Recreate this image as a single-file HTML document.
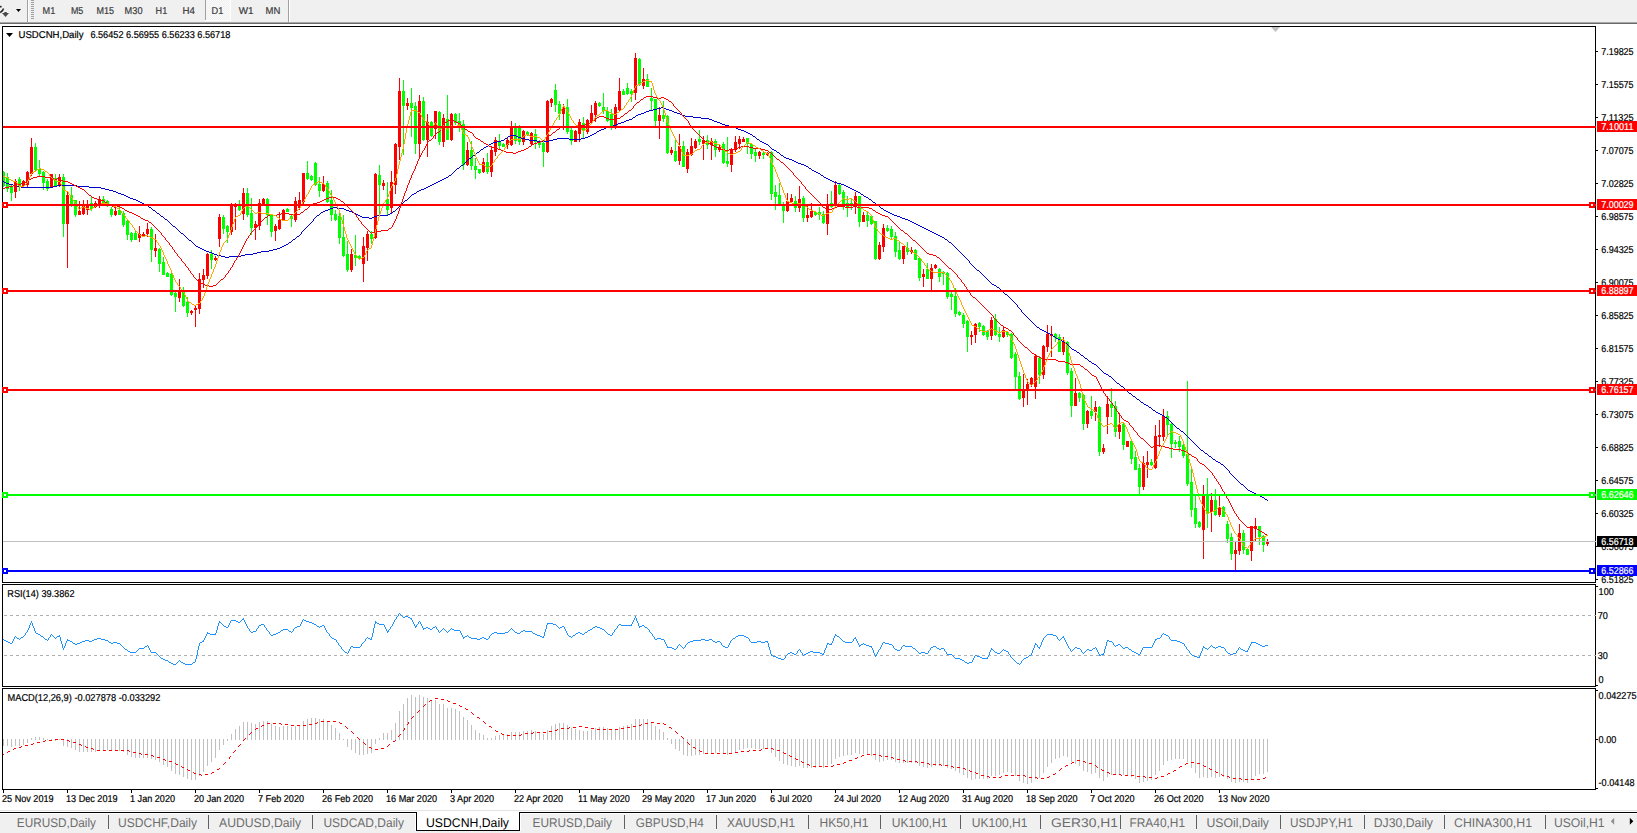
<!DOCTYPE html>
<html><head><meta charset="utf-8"><style>
html,body{margin:0;padding:0;width:1637px;height:833px;overflow:hidden;background:#fff;font-family:"Liberation Sans", sans-serif;}
</style></head><body>
<svg width="1637" height="833" viewBox="0 0 1637 833" style="position:absolute;left:0;top:0" text-rendering="geometricPrecision" font-family='"Liberation Sans", sans-serif'><rect x="0" y="0" width="1637" height="22" fill="#f0f0f0"/>
<rect x="0" y="22" width="1637" height="1" fill="#a8a8a8"/>
<rect x="0" y="23" width="1637" height="1" fill="#6a6a6a"/>
<path d="M0 6.6 L1.6 6.8 M3.4 8.6 Q3.4 10.4 0.2 12.6" stroke="#202020" stroke-width="1.6" fill="none"/>
<path d="M4.3 12 L6.7 12 L6.7 13 L9 13 L5.5 17 L2 13 L4.3 13 Z" fill="#4a4a4a"/>
<path d="M16 9 L21 9 L18.5 12 Z" fill="#000"/>
<rect x="27" y="0" width="1" height="22" fill="#a0a0a0"/>
<rect x="28" y="0" width="1" height="22" fill="#ffffff"/>
<rect x="31" y="0" width="3" height="1" fill="#a0a0a0"/>
<rect x="31" y="2" width="3" height="1" fill="#a0a0a0"/>
<rect x="31" y="4" width="3" height="1" fill="#a0a0a0"/>
<rect x="31" y="6" width="3" height="1" fill="#a0a0a0"/>
<rect x="31" y="8" width="3" height="1" fill="#a0a0a0"/>
<rect x="31" y="10" width="3" height="1" fill="#a0a0a0"/>
<rect x="31" y="12" width="3" height="1" fill="#a0a0a0"/>
<rect x="31" y="14" width="3" height="1" fill="#a0a0a0"/>
<rect x="31" y="16" width="3" height="1" fill="#a0a0a0"/>
<rect x="31" y="18" width="3" height="1" fill="#a0a0a0"/>
<rect x="205" y="0" width="1" height="20" fill="#a0a0a0"/>
<defs><pattern id="dith" width="2" height="2" patternUnits="userSpaceOnUse"><rect width="2" height="2" fill="#f0f0f0"/><rect width="1" height="1" fill="#fbfbfb"/><rect x="1" y="1" width="1" height="1" fill="#fbfbfb"/></pattern></defs>
<rect x="206" y="0" width="24" height="20" fill="url(#dith)"/>
<rect x="205" y="20" width="26" height="1" fill="#ffffff"/>
<rect x="230" y="0" width="1" height="21" fill="#ffffff"/>
<rect x="288" y="0" width="1" height="22" fill="#a0a0a0"/>
<rect x="289" y="0" width="1" height="22" fill="#ffffff"/>
<text x="42.6" y="14" font-size="10.0" fill="#3a3a3a" textLength="12.7" lengthAdjust="spacingAndGlyphs" stroke="#3a3a3a" stroke-width="0.2">M1</text>
<text x="70.9" y="14" font-size="10.0" fill="#3a3a3a" textLength="12.4" lengthAdjust="spacingAndGlyphs" stroke="#3a3a3a" stroke-width="0.2">M5</text>
<text x="96.5" y="14" font-size="10.0" fill="#3a3a3a" textLength="17.5" lengthAdjust="spacingAndGlyphs" stroke="#3a3a3a" stroke-width="0.2">M15</text>
<text x="124.6" y="14" font-size="10.0" fill="#3a3a3a" textLength="17.9" lengthAdjust="spacingAndGlyphs" stroke="#3a3a3a" stroke-width="0.2">M30</text>
<text x="155.6" y="14" font-size="10.0" fill="#3a3a3a" textLength="11.6" lengthAdjust="spacingAndGlyphs" stroke="#3a3a3a" stroke-width="0.2">H1</text>
<text x="182.6" y="14" font-size="10.0" fill="#3a3a3a" textLength="12.4" lengthAdjust="spacingAndGlyphs" stroke="#3a3a3a" stroke-width="0.2">H4</text>
<text x="211.6" y="14" font-size="10.0" fill="#3a3a3a" textLength="11.7" lengthAdjust="spacingAndGlyphs" stroke="#3a3a3a" stroke-width="0.2">D1</text>
<text x="238.7" y="14" font-size="10.0" fill="#3a3a3a" textLength="14.8" lengthAdjust="spacingAndGlyphs" stroke="#3a3a3a" stroke-width="0.2">W1</text>
<text x="265.6" y="14" font-size="10.0" fill="#3a3a3a" textLength="14.8" lengthAdjust="spacingAndGlyphs" stroke="#3a3a3a" stroke-width="0.2">MN</text>
<rect x="0" y="24" width="1637" height="786" fill="#ffffff"/>
<rect x="0" y="810" width="1637" height="1" fill="#e3e3e3"/>
<rect x="0" y="811" width="1637" height="1" fill="#ffffff"/>
<rect x="0" y="812" width="1637" height="21" fill="#f0f0f0"/>
<rect x="0" y="812" width="1637" height="1" fill="#000000"/>
<rect x="0" y="813" width="1637" height="1" fill="#ffffff"/>
<rect x="416" y="811" width="104" height="20" fill="#ffffff"/>
<rect x="416" y="812" width="1" height="19" fill="#000000"/>
<rect x="519" y="812" width="1" height="19" fill="#000000"/>
<rect x="416" y="830" width="104" height="1" fill="#000000"/>
<rect x="415" y="813" width="1" height="18" fill="#ffffff"/>
<rect x="520" y="813" width="1" height="18" fill="#ffffff"/>
<text x="16.8" y="827" font-size="12.6" fill="#6d6d6d" textLength="79.2" lengthAdjust="spacingAndGlyphs">EURUSD,Daily</text>
<text x="118" y="827" font-size="12.6" fill="#6d6d6d" textLength="79" lengthAdjust="spacingAndGlyphs">USDCHF,Daily</text>
<text x="219" y="827" font-size="12.6" fill="#6d6d6d" textLength="82" lengthAdjust="spacingAndGlyphs">AUDUSD,Daily</text>
<text x="323.4" y="827" font-size="12.6" fill="#6d6d6d" textLength="80.6" lengthAdjust="spacingAndGlyphs">USDCAD,Daily</text>
<text x="426" y="827" font-size="12.6" fill="#000000" textLength="83" lengthAdjust="spacingAndGlyphs">USDCNH,Daily</text>
<text x="532.5" y="827" font-size="12.6" fill="#6d6d6d" textLength="79.5" lengthAdjust="spacingAndGlyphs">EURUSD,Daily</text>
<text x="635.8" y="827" font-size="12.6" fill="#6d6d6d" textLength="68" lengthAdjust="spacingAndGlyphs">GBPUSD,H4</text>
<text x="727" y="827" font-size="12.6" fill="#6d6d6d" textLength="68" lengthAdjust="spacingAndGlyphs">XAUUSD,H1</text>
<text x="819.6" y="827" font-size="12.6" fill="#6d6d6d" textLength="48.8" lengthAdjust="spacingAndGlyphs">HK50,H1</text>
<text x="891.7" y="827" font-size="12.6" fill="#6d6d6d" textLength="55.7" lengthAdjust="spacingAndGlyphs">UK100,H1</text>
<text x="971.8" y="827" font-size="12.6" fill="#6d6d6d" textLength="55.7" lengthAdjust="spacingAndGlyphs">UK100,H1</text>
<text x="1051" y="827" font-size="12.6" fill="#6d6d6d" textLength="67" lengthAdjust="spacingAndGlyphs">GER30,H1</text>
<text x="1129.5" y="827" font-size="12.6" fill="#6d6d6d" textLength="55.5" lengthAdjust="spacingAndGlyphs">FRA40,H1</text>
<text x="1206.5" y="827" font-size="12.6" fill="#6d6d6d" textLength="62.5" lengthAdjust="spacingAndGlyphs">USOil,Daily</text>
<text x="1290" y="827" font-size="12.6" fill="#6d6d6d" textLength="63" lengthAdjust="spacingAndGlyphs">USDJPY,H1</text>
<text x="1373.7" y="827" font-size="12.6" fill="#6d6d6d" textLength="59.3" lengthAdjust="spacingAndGlyphs">DJ30,Daily</text>
<text x="1454" y="827" font-size="12.6" fill="#6d6d6d" textLength="78" lengthAdjust="spacingAndGlyphs">CHINA300,H1</text>
<text x="1554" y="827" font-size="12.6" fill="#6d6d6d" textLength="50.6" lengthAdjust="spacingAndGlyphs">USOil,H1</text>
<rect x="108" y="815" width="1" height="14" fill="#606060"/>
<rect x="208" y="815" width="1" height="14" fill="#606060"/>
<rect x="312" y="815" width="1" height="14" fill="#606060"/>
<rect x="624" y="815" width="1" height="14" fill="#606060"/>
<rect x="716" y="815" width="1" height="14" fill="#606060"/>
<rect x="808" y="815" width="1" height="14" fill="#606060"/>
<rect x="880" y="815" width="1" height="14" fill="#606060"/>
<rect x="960" y="815" width="1" height="14" fill="#606060"/>
<rect x="1040" y="815" width="1" height="14" fill="#606060"/>
<rect x="1120" y="815" width="1" height="14" fill="#606060"/>
<rect x="1196" y="815" width="1" height="14" fill="#606060"/>
<rect x="1280" y="815" width="1" height="14" fill="#606060"/>
<rect x="1364" y="815" width="1" height="14" fill="#606060"/>
<rect x="1444" y="815" width="1" height="14" fill="#606060"/>
<rect x="1545" y="815" width="1" height="14" fill="#606060"/>
<path d="M1614.2 817.8 L1610.8 821.3 L1614.2 824.8 Z" fill="#909090"/>
<path d="M1629.8 817.8 L1633.3 821.3 L1629.8 824.8 Z" fill="#000000"/>
<rect x="2" y="26" width="1594" height="1" fill="#000"/>
<rect x="2" y="582" width="1594" height="1" fill="#000"/>
<rect x="2" y="26" width="1" height="557" fill="#000"/>
<rect x="1595" y="26" width="1" height="557" fill="#000"/>
<rect x="2" y="584" width="1594" height="1" fill="#000"/>
<rect x="2" y="686" width="1594" height="1" fill="#000"/>
<rect x="2" y="584" width="1" height="103" fill="#000"/>
<rect x="1595" y="584" width="1" height="103" fill="#000"/>
<rect x="2" y="688" width="1594" height="1" fill="#000"/>
<rect x="2" y="789" width="1594" height="1" fill="#000"/>
<rect x="2" y="688" width="1" height="102" fill="#000"/>
<rect x="1595" y="688" width="1" height="102" fill="#000"/>
<clipPath id="cm"><rect x="3" y="27" width="1592" height="555"/></clipPath>
<clipPath id="cr"><rect x="3" y="585" width="1592" height="101"/></clipPath>
<clipPath id="cd"><rect x="3" y="689" width="1592" height="100"/></clipPath>
<g clip-path="url(#cm)" shape-rendering="crispEdges">
<rect x="3" y="171" width="1" height="16" fill="#00ff00"/>
<rect x="2" y="172" width="3" height="14" fill="#00ff00"/>
<rect x="7" y="173" width="1" height="19" fill="#00ff00"/>
<rect x="6" y="177" width="3" height="12" fill="#00ff00"/>
<rect x="11" y="185" width="1" height="16" fill="#00ff00"/>
<rect x="10" y="186" width="3" height="7" fill="#00ff00"/>
<rect x="15" y="179" width="1" height="19" fill="#ff0000"/>
<rect x="14" y="181" width="3" height="11" fill="#ff0000"/>
<rect x="19" y="177" width="1" height="14" fill="#00ff00"/>
<rect x="18" y="179" width="3" height="8" fill="#00ff00"/>
<rect x="23" y="180" width="1" height="7" fill="#ff0000"/>
<rect x="22" y="181" width="3" height="5" fill="#ff0000"/>
<rect x="27" y="171" width="1" height="16" fill="#ff0000"/>
<rect x="26" y="172" width="3" height="13" fill="#ff0000"/>
<rect x="31" y="138" width="1" height="38" fill="#ff0000"/>
<rect x="30" y="147" width="3" height="27" fill="#ff0000"/>
<rect x="35" y="143" width="1" height="29" fill="#00ff00"/>
<rect x="34" y="147" width="3" height="23" fill="#00ff00"/>
<rect x="39" y="160" width="1" height="17" fill="#00ff00"/>
<rect x="38" y="169" width="3" height="5" fill="#00ff00"/>
<rect x="43" y="171" width="1" height="19" fill="#00ff00"/>
<rect x="42" y="172" width="3" height="11" fill="#00ff00"/>
<rect x="47" y="179" width="1" height="12" fill="#00ff00"/>
<rect x="46" y="181" width="3" height="8" fill="#00ff00"/>
<rect x="51" y="174" width="1" height="14" fill="#ff0000"/>
<rect x="50" y="174" width="3" height="13" fill="#ff0000"/>
<rect x="55" y="174" width="1" height="13" fill="#00ff00"/>
<rect x="54" y="178" width="3" height="8" fill="#00ff00"/>
<rect x="59" y="174" width="1" height="13" fill="#ff0000"/>
<rect x="58" y="177" width="3" height="8" fill="#ff0000"/>
<rect x="63" y="174" width="1" height="63" fill="#00ff00"/>
<rect x="62" y="177" width="3" height="47" fill="#00ff00"/>
<rect x="67" y="191" width="1" height="77" fill="#ff0000"/>
<rect x="66" y="195" width="3" height="29" fill="#ff0000"/>
<rect x="71" y="187" width="1" height="20" fill="#00ff00"/>
<rect x="70" y="195" width="3" height="10" fill="#00ff00"/>
<rect x="75" y="200" width="1" height="17" fill="#00ff00"/>
<rect x="74" y="200" width="3" height="15" fill="#00ff00"/>
<rect x="79" y="201" width="1" height="14" fill="#ff0000"/>
<rect x="78" y="211" width="3" height="4" fill="#ff0000"/>
<rect x="83" y="200" width="1" height="15" fill="#ff0000"/>
<rect x="82" y="206" width="3" height="8" fill="#ff0000"/>
<rect x="87" y="200" width="1" height="15" fill="#ff0000"/>
<rect x="86" y="204" width="3" height="6" fill="#ff0000"/>
<rect x="91" y="196" width="1" height="15" fill="#00ff00"/>
<rect x="90" y="203" width="3" height="6" fill="#00ff00"/>
<rect x="95" y="201" width="1" height="7" fill="#ff0000"/>
<rect x="94" y="203" width="3" height="4" fill="#ff0000"/>
<rect x="99" y="196" width="1" height="12" fill="#ff0000"/>
<rect x="98" y="199" width="3" height="6" fill="#ff0000"/>
<rect x="103" y="196" width="1" height="10" fill="#00ff00"/>
<rect x="102" y="199" width="3" height="4" fill="#00ff00"/>
<rect x="107" y="200" width="1" height="7" fill="#00ff00"/>
<rect x="106" y="201" width="3" height="5" fill="#00ff00"/>
<rect x="111" y="207" width="1" height="10" fill="#00ff00"/>
<rect x="110" y="209" width="3" height="6" fill="#00ff00"/>
<rect x="115" y="207" width="1" height="9" fill="#ff0000"/>
<rect x="114" y="211" width="3" height="4" fill="#ff0000"/>
<rect x="119" y="207" width="1" height="8" fill="#00ff00"/>
<rect x="118" y="210" width="3" height="5" fill="#00ff00"/>
<rect x="123" y="211" width="1" height="16" fill="#00ff00"/>
<rect x="122" y="213" width="3" height="12" fill="#00ff00"/>
<rect x="127" y="220" width="1" height="20" fill="#00ff00"/>
<rect x="126" y="221" width="3" height="14" fill="#00ff00"/>
<rect x="131" y="232" width="1" height="10" fill="#00ff00"/>
<rect x="130" y="233" width="3" height="7" fill="#00ff00"/>
<rect x="135" y="230" width="1" height="10" fill="#00ff00"/>
<rect x="134" y="233" width="3" height="7" fill="#00ff00"/>
<rect x="139" y="226" width="1" height="16" fill="#ff0000"/>
<rect x="138" y="234" width="3" height="4" fill="#ff0000"/>
<rect x="143" y="232" width="1" height="5" fill="#ff0000"/>
<rect x="142" y="234" width="3" height="3" fill="#ff0000"/>
<rect x="147" y="223" width="1" height="14" fill="#ff0000"/>
<rect x="146" y="229" width="3" height="5" fill="#ff0000"/>
<rect x="151" y="227" width="1" height="35" fill="#00ff00"/>
<rect x="150" y="229" width="3" height="21" fill="#00ff00"/>
<rect x="155" y="234" width="1" height="23" fill="#ff0000"/>
<rect x="154" y="248" width="3" height="3" fill="#ff0000"/>
<rect x="159" y="248" width="1" height="24" fill="#00ff00"/>
<rect x="158" y="249" width="3" height="15" fill="#00ff00"/>
<rect x="163" y="257" width="1" height="18" fill="#00ff00"/>
<rect x="162" y="262" width="3" height="13" fill="#00ff00"/>
<rect x="167" y="272" width="1" height="5" fill="#00ff00"/>
<rect x="166" y="273" width="3" height="4" fill="#00ff00"/>
<rect x="171" y="271" width="1" height="25" fill="#00ff00"/>
<rect x="170" y="274" width="3" height="21" fill="#00ff00"/>
<rect x="175" y="292" width="1" height="20" fill="#00ff00"/>
<rect x="174" y="293" width="3" height="4" fill="#00ff00"/>
<rect x="179" y="279" width="1" height="23" fill="#ff0000"/>
<rect x="178" y="291" width="3" height="7" fill="#ff0000"/>
<rect x="183" y="287" width="1" height="20" fill="#00ff00"/>
<rect x="182" y="292" width="3" height="14" fill="#00ff00"/>
<rect x="187" y="297" width="1" height="20" fill="#00ff00"/>
<rect x="186" y="302" width="3" height="11" fill="#00ff00"/>
<rect x="191" y="310" width="1" height="5" fill="#ff0000"/>
<rect x="190" y="311" width="3" height="2" fill="#ff0000"/>
<rect x="195" y="306" width="1" height="21" fill="#ff0000"/>
<rect x="194" y="308" width="3" height="2" fill="#ff0000"/>
<rect x="199" y="273" width="1" height="41" fill="#ff0000"/>
<rect x="198" y="279" width="3" height="30" fill="#ff0000"/>
<rect x="203" y="269" width="1" height="19" fill="#ff0000"/>
<rect x="202" y="275" width="3" height="5" fill="#ff0000"/>
<rect x="207" y="253" width="1" height="26" fill="#ff0000"/>
<rect x="206" y="254" width="3" height="22" fill="#ff0000"/>
<rect x="211" y="250" width="1" height="19" fill="#00ff00"/>
<rect x="210" y="254" width="3" height="6" fill="#00ff00"/>
<rect x="215" y="256" width="1" height="5" fill="#ff0000"/>
<rect x="214" y="258" width="3" height="2" fill="#ff0000"/>
<rect x="219" y="214" width="1" height="33" fill="#ff0000"/>
<rect x="218" y="217" width="3" height="22" fill="#ff0000"/>
<rect x="223" y="215" width="1" height="19" fill="#00ff00"/>
<rect x="222" y="217" width="3" height="12" fill="#00ff00"/>
<rect x="227" y="225" width="1" height="18" fill="#00ff00"/>
<rect x="226" y="226" width="3" height="6" fill="#00ff00"/>
<rect x="231" y="203" width="1" height="32" fill="#ff0000"/>
<rect x="230" y="204" width="3" height="28" fill="#ff0000"/>
<rect x="235" y="203" width="1" height="27" fill="#ff0000"/>
<rect x="234" y="204" width="3" height="3" fill="#ff0000"/>
<rect x="239" y="200" width="1" height="11" fill="#00ff00"/>
<rect x="238" y="205" width="3" height="5" fill="#00ff00"/>
<rect x="243" y="188" width="1" height="32" fill="#ff0000"/>
<rect x="242" y="193" width="3" height="21" fill="#ff0000"/>
<rect x="247" y="188" width="1" height="29" fill="#00ff00"/>
<rect x="246" y="193" width="3" height="22" fill="#00ff00"/>
<rect x="251" y="198" width="1" height="37" fill="#00ff00"/>
<rect x="250" y="213" width="3" height="15" fill="#00ff00"/>
<rect x="255" y="221" width="1" height="19" fill="#ff0000"/>
<rect x="254" y="224" width="3" height="4" fill="#ff0000"/>
<rect x="259" y="199" width="1" height="31" fill="#ff0000"/>
<rect x="258" y="203" width="3" height="23" fill="#ff0000"/>
<rect x="263" y="198" width="1" height="8" fill="#ff0000"/>
<rect x="262" y="199" width="3" height="6" fill="#ff0000"/>
<rect x="267" y="198" width="1" height="27" fill="#00ff00"/>
<rect x="266" y="199" width="3" height="16" fill="#00ff00"/>
<rect x="271" y="214" width="1" height="23" fill="#00ff00"/>
<rect x="270" y="214" width="3" height="18" fill="#00ff00"/>
<rect x="275" y="224" width="1" height="17" fill="#ff0000"/>
<rect x="274" y="226" width="3" height="5" fill="#ff0000"/>
<rect x="279" y="212" width="1" height="18" fill="#ff0000"/>
<rect x="278" y="220" width="3" height="9" fill="#ff0000"/>
<rect x="283" y="209" width="1" height="12" fill="#ff0000"/>
<rect x="282" y="210" width="3" height="10" fill="#ff0000"/>
<rect x="287" y="208" width="1" height="4" fill="#00ff00"/>
<rect x="286" y="209" width="3" height="3" fill="#00ff00"/>
<rect x="291" y="214" width="1" height="13" fill="#00ff00"/>
<rect x="290" y="216" width="3" height="3" fill="#00ff00"/>
<rect x="295" y="197" width="1" height="25" fill="#ff0000"/>
<rect x="294" y="201" width="3" height="19" fill="#ff0000"/>
<rect x="299" y="192" width="1" height="18" fill="#ff0000"/>
<rect x="298" y="200" width="3" height="8" fill="#ff0000"/>
<rect x="303" y="173" width="1" height="31" fill="#ff0000"/>
<rect x="302" y="173" width="3" height="29" fill="#ff0000"/>
<rect x="307" y="161" width="1" height="19" fill="#00ff00"/>
<rect x="306" y="173" width="3" height="6" fill="#00ff00"/>
<rect x="311" y="175" width="1" height="6" fill="#00ff00"/>
<rect x="310" y="176" width="3" height="4" fill="#00ff00"/>
<rect x="315" y="162" width="1" height="24" fill="#00ff00"/>
<rect x="314" y="163" width="3" height="22" fill="#00ff00"/>
<rect x="319" y="177" width="1" height="20" fill="#00ff00"/>
<rect x="318" y="184" width="3" height="7" fill="#00ff00"/>
<rect x="323" y="176" width="1" height="16" fill="#ff0000"/>
<rect x="322" y="184" width="3" height="7" fill="#ff0000"/>
<rect x="327" y="181" width="1" height="22" fill="#00ff00"/>
<rect x="326" y="183" width="3" height="19" fill="#00ff00"/>
<rect x="331" y="190" width="1" height="31" fill="#00ff00"/>
<rect x="330" y="200" width="3" height="15" fill="#00ff00"/>
<rect x="335" y="210" width="1" height="11" fill="#00ff00"/>
<rect x="334" y="214" width="3" height="6" fill="#00ff00"/>
<rect x="339" y="213" width="1" height="31" fill="#00ff00"/>
<rect x="338" y="216" width="3" height="22" fill="#00ff00"/>
<rect x="343" y="215" width="1" height="42" fill="#00ff00"/>
<rect x="342" y="237" width="3" height="19" fill="#00ff00"/>
<rect x="347" y="241" width="1" height="31" fill="#00ff00"/>
<rect x="346" y="254" width="3" height="16" fill="#00ff00"/>
<rect x="351" y="249" width="1" height="23" fill="#ff0000"/>
<rect x="350" y="254" width="3" height="16" fill="#ff0000"/>
<rect x="355" y="235" width="1" height="31" fill="#00ff00"/>
<rect x="354" y="255" width="3" height="3" fill="#00ff00"/>
<rect x="359" y="255" width="1" height="5" fill="#00ff00"/>
<rect x="358" y="256" width="3" height="3" fill="#00ff00"/>
<rect x="363" y="237" width="1" height="45" fill="#ff0000"/>
<rect x="362" y="246" width="3" height="18" fill="#ff0000"/>
<rect x="367" y="231" width="1" height="30" fill="#ff0000"/>
<rect x="366" y="234" width="3" height="14" fill="#ff0000"/>
<rect x="371" y="231" width="1" height="13" fill="#00ff00"/>
<rect x="370" y="234" width="3" height="5" fill="#00ff00"/>
<rect x="375" y="173" width="1" height="66" fill="#ff0000"/>
<rect x="374" y="174" width="3" height="64" fill="#ff0000"/>
<rect x="379" y="165" width="1" height="49" fill="#00ff00"/>
<rect x="378" y="175" width="3" height="10" fill="#00ff00"/>
<rect x="383" y="180" width="1" height="10" fill="#ff0000"/>
<rect x="382" y="183" width="3" height="3" fill="#ff0000"/>
<rect x="387" y="182" width="1" height="33" fill="#00ff00"/>
<rect x="386" y="199" width="3" height="11" fill="#00ff00"/>
<rect x="391" y="171" width="1" height="42" fill="#ff0000"/>
<rect x="390" y="182" width="3" height="26" fill="#ff0000"/>
<rect x="395" y="143" width="1" height="51" fill="#ff0000"/>
<rect x="394" y="144" width="3" height="41" fill="#ff0000"/>
<rect x="399" y="78" width="1" height="82" fill="#ff0000"/>
<rect x="398" y="91" width="3" height="56" fill="#ff0000"/>
<rect x="403" y="80" width="1" height="75" fill="#00ff00"/>
<rect x="402" y="91" width="3" height="15" fill="#00ff00"/>
<rect x="407" y="98" width="1" height="12" fill="#ff0000"/>
<rect x="406" y="103" width="3" height="3" fill="#ff0000"/>
<rect x="411" y="88" width="1" height="49" fill="#00ff00"/>
<rect x="410" y="103" width="3" height="5" fill="#00ff00"/>
<rect x="415" y="102" width="1" height="52" fill="#00ff00"/>
<rect x="414" y="106" width="3" height="38" fill="#00ff00"/>
<rect x="419" y="95" width="1" height="62" fill="#ff0000"/>
<rect x="418" y="101" width="3" height="43" fill="#ff0000"/>
<rect x="423" y="97" width="1" height="44" fill="#00ff00"/>
<rect x="422" y="101" width="3" height="39" fill="#00ff00"/>
<rect x="427" y="114" width="1" height="43" fill="#ff0000"/>
<rect x="426" y="122" width="3" height="18" fill="#ff0000"/>
<rect x="431" y="121" width="1" height="16" fill="#00ff00"/>
<rect x="430" y="122" width="3" height="14" fill="#00ff00"/>
<rect x="435" y="111" width="1" height="28" fill="#ff0000"/>
<rect x="434" y="111" width="3" height="18" fill="#ff0000"/>
<rect x="439" y="111" width="1" height="34" fill="#00ff00"/>
<rect x="438" y="112" width="3" height="30" fill="#00ff00"/>
<rect x="443" y="114" width="1" height="33" fill="#ff0000"/>
<rect x="442" y="118" width="3" height="24" fill="#ff0000"/>
<rect x="447" y="95" width="1" height="45" fill="#00ff00"/>
<rect x="446" y="119" width="3" height="21" fill="#00ff00"/>
<rect x="451" y="113" width="1" height="28" fill="#ff0000"/>
<rect x="450" y="114" width="3" height="26" fill="#ff0000"/>
<rect x="455" y="113" width="1" height="12" fill="#00ff00"/>
<rect x="454" y="114" width="3" height="9" fill="#00ff00"/>
<rect x="459" y="113" width="1" height="19" fill="#00ff00"/>
<rect x="458" y="121" width="3" height="5" fill="#00ff00"/>
<rect x="463" y="120" width="1" height="50" fill="#00ff00"/>
<rect x="462" y="124" width="3" height="41" fill="#00ff00"/>
<rect x="467" y="142" width="1" height="24" fill="#ff0000"/>
<rect x="466" y="150" width="3" height="15" fill="#ff0000"/>
<rect x="471" y="141" width="1" height="29" fill="#00ff00"/>
<rect x="470" y="150" width="3" height="16" fill="#00ff00"/>
<rect x="475" y="158" width="1" height="21" fill="#00ff00"/>
<rect x="474" y="166" width="3" height="4" fill="#00ff00"/>
<rect x="479" y="169" width="1" height="5" fill="#00ff00"/>
<rect x="478" y="169" width="3" height="4" fill="#00ff00"/>
<rect x="483" y="158" width="1" height="15" fill="#ff0000"/>
<rect x="482" y="162" width="3" height="10" fill="#ff0000"/>
<rect x="487" y="153" width="1" height="21" fill="#00ff00"/>
<rect x="486" y="162" width="3" height="10" fill="#00ff00"/>
<rect x="491" y="146" width="1" height="31" fill="#ff0000"/>
<rect x="490" y="150" width="3" height="22" fill="#ff0000"/>
<rect x="495" y="137" width="1" height="19" fill="#ff0000"/>
<rect x="494" y="140" width="3" height="12" fill="#ff0000"/>
<rect x="499" y="134" width="1" height="15" fill="#00ff00"/>
<rect x="498" y="141" width="3" height="5" fill="#00ff00"/>
<rect x="503" y="143" width="1" height="4" fill="#00ff00"/>
<rect x="502" y="144" width="3" height="3" fill="#00ff00"/>
<rect x="507" y="138" width="1" height="11" fill="#ff0000"/>
<rect x="506" y="140" width="3" height="5" fill="#ff0000"/>
<rect x="511" y="121" width="1" height="25" fill="#ff0000"/>
<rect x="510" y="126" width="3" height="19" fill="#ff0000"/>
<rect x="515" y="123" width="1" height="21" fill="#00ff00"/>
<rect x="514" y="126" width="3" height="15" fill="#00ff00"/>
<rect x="519" y="125" width="1" height="20" fill="#00ff00"/>
<rect x="518" y="128" width="3" height="14" fill="#00ff00"/>
<rect x="523" y="130" width="1" height="15" fill="#ff0000"/>
<rect x="522" y="131" width="3" height="11" fill="#ff0000"/>
<rect x="527" y="131" width="1" height="5" fill="#00ff00"/>
<rect x="526" y="132" width="3" height="3" fill="#00ff00"/>
<rect x="531" y="132" width="1" height="14" fill="#ff0000"/>
<rect x="530" y="133" width="3" height="11" fill="#ff0000"/>
<rect x="535" y="129" width="1" height="20" fill="#00ff00"/>
<rect x="534" y="134" width="3" height="8" fill="#00ff00"/>
<rect x="539" y="140" width="1" height="8" fill="#00ff00"/>
<rect x="538" y="141" width="3" height="4" fill="#00ff00"/>
<rect x="543" y="142" width="1" height="25" fill="#00ff00"/>
<rect x="542" y="143" width="3" height="9" fill="#00ff00"/>
<rect x="547" y="100" width="1" height="53" fill="#ff0000"/>
<rect x="546" y="101" width="3" height="51" fill="#ff0000"/>
<rect x="551" y="98" width="1" height="9" fill="#ff0000"/>
<rect x="550" y="99" width="3" height="4" fill="#ff0000"/>
<rect x="555" y="84" width="1" height="28" fill="#00ff00"/>
<rect x="554" y="90" width="3" height="15" fill="#00ff00"/>
<rect x="559" y="101" width="1" height="19" fill="#00ff00"/>
<rect x="558" y="104" width="3" height="10" fill="#00ff00"/>
<rect x="563" y="104" width="1" height="26" fill="#ff0000"/>
<rect x="562" y="107" width="3" height="7" fill="#ff0000"/>
<rect x="567" y="99" width="1" height="35" fill="#00ff00"/>
<rect x="566" y="107" width="3" height="25" fill="#00ff00"/>
<rect x="571" y="128" width="1" height="17" fill="#00ff00"/>
<rect x="570" y="130" width="3" height="11" fill="#00ff00"/>
<rect x="575" y="130" width="1" height="12" fill="#ff0000"/>
<rect x="574" y="131" width="3" height="11" fill="#ff0000"/>
<rect x="579" y="119" width="1" height="23" fill="#ff0000"/>
<rect x="578" y="122" width="3" height="12" fill="#ff0000"/>
<rect x="583" y="117" width="1" height="21" fill="#00ff00"/>
<rect x="582" y="123" width="3" height="7" fill="#00ff00"/>
<rect x="587" y="119" width="1" height="15" fill="#ff0000"/>
<rect x="586" y="120" width="3" height="12" fill="#ff0000"/>
<rect x="591" y="105" width="1" height="19" fill="#ff0000"/>
<rect x="590" y="113" width="3" height="10" fill="#ff0000"/>
<rect x="595" y="101" width="1" height="21" fill="#ff0000"/>
<rect x="594" y="103" width="3" height="12" fill="#ff0000"/>
<rect x="599" y="102" width="1" height="5" fill="#00ff00"/>
<rect x="598" y="103" width="3" height="3" fill="#00ff00"/>
<rect x="603" y="93" width="1" height="21" fill="#00ff00"/>
<rect x="602" y="107" width="3" height="4" fill="#00ff00"/>
<rect x="607" y="107" width="1" height="15" fill="#00ff00"/>
<rect x="606" y="111" width="3" height="10" fill="#00ff00"/>
<rect x="611" y="109" width="1" height="21" fill="#00ff00"/>
<rect x="610" y="114" width="3" height="13" fill="#00ff00"/>
<rect x="615" y="104" width="1" height="25" fill="#ff0000"/>
<rect x="614" y="107" width="3" height="20" fill="#ff0000"/>
<rect x="619" y="78" width="1" height="33" fill="#ff0000"/>
<rect x="618" y="91" width="3" height="19" fill="#ff0000"/>
<rect x="623" y="89" width="1" height="6" fill="#00ff00"/>
<rect x="622" y="91" width="3" height="4" fill="#00ff00"/>
<rect x="627" y="83" width="1" height="12" fill="#00ff00"/>
<rect x="626" y="88" width="3" height="6" fill="#00ff00"/>
<rect x="631" y="89" width="1" height="13" fill="#00ff00"/>
<rect x="630" y="91" width="3" height="3" fill="#00ff00"/>
<rect x="635" y="53" width="1" height="47" fill="#ff0000"/>
<rect x="634" y="58" width="3" height="35" fill="#ff0000"/>
<rect x="639" y="58" width="1" height="28" fill="#00ff00"/>
<rect x="638" y="59" width="3" height="26" fill="#00ff00"/>
<rect x="643" y="68" width="1" height="21" fill="#ff0000"/>
<rect x="642" y="79" width="3" height="7" fill="#ff0000"/>
<rect x="647" y="74" width="1" height="13" fill="#00ff00"/>
<rect x="646" y="79" width="3" height="8" fill="#00ff00"/>
<rect x="651" y="88" width="1" height="23" fill="#00ff00"/>
<rect x="650" y="98" width="3" height="3" fill="#00ff00"/>
<rect x="655" y="99" width="1" height="28" fill="#00ff00"/>
<rect x="654" y="99" width="3" height="22" fill="#00ff00"/>
<rect x="659" y="107" width="1" height="32" fill="#ff0000"/>
<rect x="658" y="115" width="3" height="6" fill="#ff0000"/>
<rect x="663" y="101" width="1" height="21" fill="#00ff00"/>
<rect x="662" y="115" width="3" height="4" fill="#00ff00"/>
<rect x="667" y="115" width="1" height="39" fill="#00ff00"/>
<rect x="666" y="116" width="3" height="37" fill="#00ff00"/>
<rect x="671" y="147" width="1" height="8" fill="#ff0000"/>
<rect x="670" y="150" width="3" height="3" fill="#ff0000"/>
<rect x="675" y="139" width="1" height="23" fill="#00ff00"/>
<rect x="674" y="151" width="3" height="10" fill="#00ff00"/>
<rect x="679" y="134" width="1" height="31" fill="#ff0000"/>
<rect x="678" y="146" width="3" height="15" fill="#ff0000"/>
<rect x="683" y="141" width="1" height="26" fill="#00ff00"/>
<rect x="682" y="146" width="3" height="21" fill="#00ff00"/>
<rect x="687" y="149" width="1" height="24" fill="#ff0000"/>
<rect x="686" y="152" width="3" height="17" fill="#ff0000"/>
<rect x="691" y="138" width="1" height="18" fill="#ff0000"/>
<rect x="690" y="146" width="3" height="9" fill="#ff0000"/>
<rect x="695" y="139" width="1" height="10" fill="#ff0000"/>
<rect x="694" y="141" width="3" height="7" fill="#ff0000"/>
<rect x="699" y="130" width="1" height="15" fill="#00ff00"/>
<rect x="698" y="139" width="3" height="3" fill="#00ff00"/>
<rect x="703" y="136" width="1" height="24" fill="#ff0000"/>
<rect x="702" y="140" width="3" height="4" fill="#ff0000"/>
<rect x="707" y="135" width="1" height="14" fill="#00ff00"/>
<rect x="706" y="140" width="3" height="5" fill="#00ff00"/>
<rect x="711" y="138" width="1" height="22" fill="#ff0000"/>
<rect x="710" y="141" width="3" height="4" fill="#ff0000"/>
<rect x="715" y="139" width="1" height="18" fill="#00ff00"/>
<rect x="714" y="141" width="3" height="9" fill="#00ff00"/>
<rect x="719" y="144" width="1" height="8" fill="#ff0000"/>
<rect x="718" y="147" width="3" height="3" fill="#ff0000"/>
<rect x="723" y="142" width="1" height="22" fill="#00ff00"/>
<rect x="722" y="144" width="3" height="19" fill="#00ff00"/>
<rect x="727" y="137" width="1" height="30" fill="#00ff00"/>
<rect x="726" y="161" width="3" height="3" fill="#00ff00"/>
<rect x="731" y="148" width="1" height="24" fill="#ff0000"/>
<rect x="730" y="149" width="3" height="16" fill="#ff0000"/>
<rect x="735" y="136" width="1" height="16" fill="#ff0000"/>
<rect x="734" y="142" width="3" height="8" fill="#ff0000"/>
<rect x="739" y="136" width="1" height="13" fill="#ff0000"/>
<rect x="738" y="139" width="3" height="5" fill="#ff0000"/>
<rect x="743" y="137" width="1" height="5" fill="#ff0000"/>
<rect x="742" y="139" width="3" height="3" fill="#ff0000"/>
<rect x="747" y="138" width="1" height="16" fill="#00ff00"/>
<rect x="746" y="138" width="3" height="6" fill="#00ff00"/>
<rect x="751" y="144" width="1" height="15" fill="#00ff00"/>
<rect x="750" y="144" width="3" height="10" fill="#00ff00"/>
<rect x="755" y="149" width="1" height="13" fill="#00ff00"/>
<rect x="754" y="152" width="3" height="4" fill="#00ff00"/>
<rect x="759" y="151" width="1" height="8" fill="#ff0000"/>
<rect x="758" y="152" width="3" height="4" fill="#ff0000"/>
<rect x="763" y="151" width="1" height="8" fill="#00ff00"/>
<rect x="762" y="153" width="3" height="2" fill="#00ff00"/>
<rect x="767" y="152" width="1" height="4" fill="#ff0000"/>
<rect x="766" y="153" width="3" height="2" fill="#ff0000"/>
<rect x="771" y="151" width="1" height="49" fill="#00ff00"/>
<rect x="770" y="152" width="3" height="42" fill="#00ff00"/>
<rect x="775" y="185" width="1" height="25" fill="#00ff00"/>
<rect x="774" y="192" width="3" height="5" fill="#00ff00"/>
<rect x="779" y="183" width="1" height="23" fill="#00ff00"/>
<rect x="778" y="195" width="3" height="10" fill="#00ff00"/>
<rect x="783" y="202" width="1" height="21" fill="#00ff00"/>
<rect x="782" y="204" width="3" height="7" fill="#00ff00"/>
<rect x="787" y="193" width="1" height="19" fill="#ff0000"/>
<rect x="786" y="201" width="3" height="10" fill="#ff0000"/>
<rect x="791" y="194" width="1" height="8" fill="#ff0000"/>
<rect x="790" y="198" width="3" height="4" fill="#ff0000"/>
<rect x="795" y="196" width="1" height="16" fill="#00ff00"/>
<rect x="794" y="201" width="3" height="7" fill="#00ff00"/>
<rect x="799" y="186" width="1" height="26" fill="#ff0000"/>
<rect x="798" y="199" width="3" height="9" fill="#ff0000"/>
<rect x="803" y="196" width="1" height="26" fill="#00ff00"/>
<rect x="802" y="198" width="3" height="20" fill="#00ff00"/>
<rect x="807" y="204" width="1" height="18" fill="#ff0000"/>
<rect x="806" y="215" width="3" height="3" fill="#ff0000"/>
<rect x="811" y="203" width="1" height="15" fill="#ff0000"/>
<rect x="810" y="211" width="3" height="6" fill="#ff0000"/>
<rect x="815" y="211" width="1" height="5" fill="#00ff00"/>
<rect x="814" y="212" width="3" height="3" fill="#00ff00"/>
<rect x="819" y="207" width="1" height="13" fill="#00ff00"/>
<rect x="818" y="212" width="3" height="3" fill="#00ff00"/>
<rect x="823" y="211" width="1" height="13" fill="#00ff00"/>
<rect x="822" y="214" width="3" height="9" fill="#00ff00"/>
<rect x="827" y="194" width="1" height="41" fill="#ff0000"/>
<rect x="826" y="204" width="3" height="20" fill="#ff0000"/>
<rect x="831" y="191" width="1" height="17" fill="#00ff00"/>
<rect x="830" y="203" width="3" height="4" fill="#00ff00"/>
<rect x="835" y="181" width="1" height="26" fill="#ff0000"/>
<rect x="834" y="185" width="3" height="21" fill="#ff0000"/>
<rect x="839" y="184" width="1" height="11" fill="#00ff00"/>
<rect x="838" y="185" width="3" height="9" fill="#00ff00"/>
<rect x="843" y="190" width="1" height="20" fill="#00ff00"/>
<rect x="842" y="192" width="3" height="12" fill="#00ff00"/>
<rect x="847" y="196" width="1" height="21" fill="#00ff00"/>
<rect x="846" y="203" width="3" height="4" fill="#00ff00"/>
<rect x="851" y="199" width="1" height="11" fill="#00ff00"/>
<rect x="850" y="203" width="3" height="3" fill="#00ff00"/>
<rect x="855" y="192" width="1" height="22" fill="#ff0000"/>
<rect x="854" y="196" width="3" height="11" fill="#ff0000"/>
<rect x="859" y="196" width="1" height="31" fill="#00ff00"/>
<rect x="858" y="196" width="3" height="26" fill="#00ff00"/>
<rect x="863" y="212" width="1" height="10" fill="#ff0000"/>
<rect x="862" y="215" width="3" height="7" fill="#ff0000"/>
<rect x="867" y="212" width="1" height="15" fill="#00ff00"/>
<rect x="866" y="215" width="3" height="6" fill="#00ff00"/>
<rect x="871" y="216" width="1" height="9" fill="#00ff00"/>
<rect x="870" y="216" width="3" height="8" fill="#00ff00"/>
<rect x="875" y="221" width="1" height="39" fill="#00ff00"/>
<rect x="874" y="221" width="3" height="38" fill="#00ff00"/>
<rect x="879" y="242" width="1" height="18" fill="#ff0000"/>
<rect x="878" y="245" width="3" height="14" fill="#ff0000"/>
<rect x="883" y="224" width="1" height="28" fill="#ff0000"/>
<rect x="882" y="228" width="3" height="19" fill="#ff0000"/>
<rect x="887" y="225" width="1" height="7" fill="#00ff00"/>
<rect x="886" y="228" width="3" height="3" fill="#00ff00"/>
<rect x="891" y="226" width="1" height="14" fill="#00ff00"/>
<rect x="890" y="229" width="3" height="8" fill="#00ff00"/>
<rect x="895" y="232" width="1" height="25" fill="#00ff00"/>
<rect x="894" y="236" width="3" height="16" fill="#00ff00"/>
<rect x="899" y="241" width="1" height="19" fill="#00ff00"/>
<rect x="898" y="250" width="3" height="9" fill="#00ff00"/>
<rect x="903" y="246" width="1" height="18" fill="#ff0000"/>
<rect x="902" y="246" width="3" height="13" fill="#ff0000"/>
<rect x="907" y="242" width="1" height="13" fill="#00ff00"/>
<rect x="906" y="248" width="3" height="4" fill="#00ff00"/>
<rect x="911" y="247" width="1" height="7" fill="#ff0000"/>
<rect x="910" y="250" width="3" height="2" fill="#ff0000"/>
<rect x="915" y="249" width="1" height="11" fill="#00ff00"/>
<rect x="914" y="250" width="3" height="10" fill="#00ff00"/>
<rect x="919" y="257" width="1" height="24" fill="#00ff00"/>
<rect x="918" y="258" width="3" height="20" fill="#00ff00"/>
<rect x="923" y="269" width="1" height="18" fill="#ff0000"/>
<rect x="922" y="274" width="3" height="3" fill="#ff0000"/>
<rect x="927" y="263" width="1" height="16" fill="#00ff00"/>
<rect x="926" y="269" width="3" height="10" fill="#00ff00"/>
<rect x="931" y="264" width="1" height="26" fill="#ff0000"/>
<rect x="930" y="268" width="3" height="11" fill="#ff0000"/>
<rect x="935" y="264" width="1" height="5" fill="#ff0000"/>
<rect x="934" y="265" width="3" height="3" fill="#ff0000"/>
<rect x="939" y="268" width="1" height="14" fill="#00ff00"/>
<rect x="938" y="269" width="3" height="8" fill="#00ff00"/>
<rect x="943" y="271" width="1" height="14" fill="#00ff00"/>
<rect x="942" y="272" width="3" height="2" fill="#00ff00"/>
<rect x="947" y="272" width="1" height="27" fill="#00ff00"/>
<rect x="946" y="273" width="3" height="24" fill="#00ff00"/>
<rect x="951" y="292" width="1" height="18" fill="#00ff00"/>
<rect x="950" y="294" width="3" height="3" fill="#00ff00"/>
<rect x="955" y="288" width="1" height="29" fill="#00ff00"/>
<rect x="954" y="296" width="3" height="18" fill="#00ff00"/>
<rect x="959" y="311" width="1" height="5" fill="#00ff00"/>
<rect x="958" y="312" width="3" height="3" fill="#00ff00"/>
<rect x="963" y="313" width="1" height="15" fill="#00ff00"/>
<rect x="962" y="315" width="3" height="9" fill="#00ff00"/>
<rect x="967" y="320" width="1" height="32" fill="#00ff00"/>
<rect x="966" y="321" width="3" height="16" fill="#00ff00"/>
<rect x="971" y="331" width="1" height="14" fill="#ff0000"/>
<rect x="970" y="335" width="3" height="2" fill="#ff0000"/>
<rect x="975" y="323" width="1" height="20" fill="#ff0000"/>
<rect x="974" y="324" width="3" height="11" fill="#ff0000"/>
<rect x="979" y="322" width="1" height="10" fill="#00ff00"/>
<rect x="978" y="323" width="3" height="4" fill="#00ff00"/>
<rect x="983" y="325" width="1" height="11" fill="#00ff00"/>
<rect x="982" y="326" width="3" height="9" fill="#00ff00"/>
<rect x="987" y="330" width="1" height="10" fill="#00ff00"/>
<rect x="986" y="331" width="3" height="6" fill="#00ff00"/>
<rect x="991" y="317" width="1" height="23" fill="#ff0000"/>
<rect x="990" y="320" width="3" height="16" fill="#ff0000"/>
<rect x="995" y="314" width="1" height="22" fill="#00ff00"/>
<rect x="994" y="319" width="3" height="16" fill="#00ff00"/>
<rect x="999" y="327" width="1" height="15" fill="#00ff00"/>
<rect x="998" y="334" width="3" height="3" fill="#00ff00"/>
<rect x="1003" y="326" width="1" height="12" fill="#ff0000"/>
<rect x="1002" y="330" width="3" height="7" fill="#ff0000"/>
<rect x="1007" y="331" width="1" height="6" fill="#00ff00"/>
<rect x="1006" y="332" width="3" height="3" fill="#00ff00"/>
<rect x="1011" y="333" width="1" height="26" fill="#00ff00"/>
<rect x="1010" y="334" width="3" height="24" fill="#00ff00"/>
<rect x="1015" y="352" width="1" height="37" fill="#00ff00"/>
<rect x="1014" y="354" width="3" height="23" fill="#00ff00"/>
<rect x="1019" y="372" width="1" height="28" fill="#00ff00"/>
<rect x="1018" y="376" width="3" height="23" fill="#00ff00"/>
<rect x="1023" y="374" width="1" height="33" fill="#ff0000"/>
<rect x="1022" y="389" width="3" height="9" fill="#ff0000"/>
<rect x="1027" y="379" width="1" height="26" fill="#ff0000"/>
<rect x="1026" y="384" width="3" height="7" fill="#ff0000"/>
<rect x="1031" y="377" width="1" height="10" fill="#ff0000"/>
<rect x="1030" y="378" width="3" height="7" fill="#ff0000"/>
<rect x="1035" y="354" width="1" height="45" fill="#ff0000"/>
<rect x="1034" y="356" width="3" height="31" fill="#ff0000"/>
<rect x="1039" y="356" width="1" height="28" fill="#00ff00"/>
<rect x="1038" y="358" width="3" height="17" fill="#00ff00"/>
<rect x="1043" y="345" width="1" height="34" fill="#ff0000"/>
<rect x="1042" y="346" width="3" height="29" fill="#ff0000"/>
<rect x="1047" y="325" width="1" height="27" fill="#ff0000"/>
<rect x="1046" y="334" width="3" height="13" fill="#ff0000"/>
<rect x="1051" y="326" width="1" height="31" fill="#ff0000"/>
<rect x="1050" y="334" width="3" height="2" fill="#ff0000"/>
<rect x="1055" y="333" width="1" height="9" fill="#00ff00"/>
<rect x="1054" y="334" width="3" height="4" fill="#00ff00"/>
<rect x="1059" y="334" width="1" height="18" fill="#00ff00"/>
<rect x="1058" y="337" width="3" height="15" fill="#00ff00"/>
<rect x="1063" y="337" width="1" height="18" fill="#ff0000"/>
<rect x="1062" y="341" width="3" height="11" fill="#ff0000"/>
<rect x="1067" y="341" width="1" height="34" fill="#00ff00"/>
<rect x="1066" y="342" width="3" height="31" fill="#00ff00"/>
<rect x="1071" y="368" width="1" height="49" fill="#00ff00"/>
<rect x="1070" y="371" width="3" height="35" fill="#00ff00"/>
<rect x="1075" y="378" width="1" height="28" fill="#ff0000"/>
<rect x="1074" y="393" width="3" height="13" fill="#ff0000"/>
<rect x="1079" y="392" width="1" height="10" fill="#00ff00"/>
<rect x="1078" y="393" width="3" height="5" fill="#00ff00"/>
<rect x="1083" y="394" width="1" height="36" fill="#00ff00"/>
<rect x="1082" y="395" width="3" height="29" fill="#00ff00"/>
<rect x="1087" y="410" width="1" height="18" fill="#ff0000"/>
<rect x="1086" y="411" width="3" height="13" fill="#ff0000"/>
<rect x="1091" y="396" width="1" height="23" fill="#00ff00"/>
<rect x="1090" y="411" width="3" height="5" fill="#00ff00"/>
<rect x="1095" y="401" width="1" height="20" fill="#ff0000"/>
<rect x="1094" y="407" width="3" height="5" fill="#ff0000"/>
<rect x="1099" y="406" width="1" height="50" fill="#00ff00"/>
<rect x="1098" y="407" width="3" height="45" fill="#00ff00"/>
<rect x="1103" y="444" width="1" height="10" fill="#ff0000"/>
<rect x="1102" y="448" width="3" height="4" fill="#ff0000"/>
<rect x="1107" y="396" width="1" height="38" fill="#ff0000"/>
<rect x="1106" y="404" width="3" height="13" fill="#ff0000"/>
<rect x="1111" y="388" width="1" height="29" fill="#00ff00"/>
<rect x="1110" y="404" width="3" height="4" fill="#00ff00"/>
<rect x="1115" y="401" width="1" height="36" fill="#00ff00"/>
<rect x="1114" y="406" width="3" height="26" fill="#00ff00"/>
<rect x="1119" y="413" width="1" height="26" fill="#ff0000"/>
<rect x="1118" y="425" width="3" height="7" fill="#ff0000"/>
<rect x="1123" y="422" width="1" height="28" fill="#00ff00"/>
<rect x="1122" y="424" width="3" height="21" fill="#00ff00"/>
<rect x="1127" y="441" width="1" height="6" fill="#ff0000"/>
<rect x="1126" y="441" width="3" height="6" fill="#ff0000"/>
<rect x="1131" y="439" width="1" height="25" fill="#00ff00"/>
<rect x="1130" y="441" width="3" height="18" fill="#00ff00"/>
<rect x="1135" y="451" width="1" height="19" fill="#00ff00"/>
<rect x="1134" y="457" width="3" height="13" fill="#00ff00"/>
<rect x="1139" y="464" width="1" height="31" fill="#00ff00"/>
<rect x="1138" y="468" width="3" height="19" fill="#00ff00"/>
<rect x="1143" y="456" width="1" height="34" fill="#ff0000"/>
<rect x="1142" y="463" width="3" height="24" fill="#ff0000"/>
<rect x="1147" y="451" width="1" height="27" fill="#ff0000"/>
<rect x="1146" y="462" width="3" height="3" fill="#ff0000"/>
<rect x="1151" y="459" width="1" height="7" fill="#00ff00"/>
<rect x="1150" y="462" width="3" height="3" fill="#00ff00"/>
<rect x="1155" y="425" width="1" height="44" fill="#ff0000"/>
<rect x="1154" y="436" width="3" height="32" fill="#ff0000"/>
<rect x="1159" y="420" width="1" height="27" fill="#ff0000"/>
<rect x="1158" y="435" width="3" height="2" fill="#ff0000"/>
<rect x="1163" y="409" width="1" height="32" fill="#ff0000"/>
<rect x="1162" y="416" width="3" height="21" fill="#ff0000"/>
<rect x="1167" y="411" width="1" height="24" fill="#00ff00"/>
<rect x="1166" y="416" width="3" height="9" fill="#00ff00"/>
<rect x="1171" y="422" width="1" height="36" fill="#00ff00"/>
<rect x="1170" y="424" width="3" height="20" fill="#00ff00"/>
<rect x="1175" y="440" width="1" height="8" fill="#00ff00"/>
<rect x="1174" y="442" width="3" height="2" fill="#00ff00"/>
<rect x="1179" y="436" width="1" height="16" fill="#00ff00"/>
<rect x="1178" y="441" width="3" height="6" fill="#00ff00"/>
<rect x="1183" y="444" width="1" height="14" fill="#00ff00"/>
<rect x="1182" y="445" width="3" height="11" fill="#00ff00"/>
<rect x="1187" y="381" width="1" height="105" fill="#00ff00"/>
<rect x="1186" y="454" width="3" height="30" fill="#00ff00"/>
<rect x="1191" y="469" width="1" height="48" fill="#00ff00"/>
<rect x="1190" y="482" width="3" height="28" fill="#00ff00"/>
<rect x="1195" y="496" width="1" height="32" fill="#00ff00"/>
<rect x="1194" y="508" width="3" height="16" fill="#00ff00"/>
<rect x="1199" y="521" width="1" height="7" fill="#00ff00"/>
<rect x="1198" y="522" width="3" height="5" fill="#00ff00"/>
<rect x="1203" y="485" width="1" height="74" fill="#ff0000"/>
<rect x="1202" y="496" width="3" height="34" fill="#ff0000"/>
<rect x="1207" y="478" width="1" height="50" fill="#00ff00"/>
<rect x="1206" y="496" width="3" height="18" fill="#00ff00"/>
<rect x="1211" y="493" width="1" height="39" fill="#ff0000"/>
<rect x="1210" y="500" width="3" height="12" fill="#ff0000"/>
<rect x="1215" y="489" width="1" height="27" fill="#00ff00"/>
<rect x="1214" y="500" width="3" height="15" fill="#00ff00"/>
<rect x="1219" y="496" width="1" height="21" fill="#ff0000"/>
<rect x="1218" y="507" width="3" height="8" fill="#ff0000"/>
<rect x="1223" y="506" width="1" height="11" fill="#00ff00"/>
<rect x="1222" y="507" width="3" height="10" fill="#00ff00"/>
<rect x="1227" y="521" width="1" height="22" fill="#00ff00"/>
<rect x="1226" y="524" width="3" height="15" fill="#00ff00"/>
<rect x="1231" y="533" width="1" height="27" fill="#00ff00"/>
<rect x="1230" y="537" width="3" height="17" fill="#00ff00"/>
<rect x="1235" y="541" width="1" height="29" fill="#ff0000"/>
<rect x="1234" y="550" width="3" height="4" fill="#ff0000"/>
<rect x="1239" y="524" width="1" height="31" fill="#ff0000"/>
<rect x="1238" y="533" width="3" height="18" fill="#ff0000"/>
<rect x="1243" y="530" width="1" height="24" fill="#00ff00"/>
<rect x="1242" y="533" width="3" height="17" fill="#00ff00"/>
<rect x="1247" y="548" width="1" height="7" fill="#00ff00"/>
<rect x="1246" y="549" width="3" height="6" fill="#00ff00"/>
<rect x="1251" y="526" width="1" height="35" fill="#ff0000"/>
<rect x="1250" y="526" width="3" height="25" fill="#ff0000"/>
<rect x="1255" y="518" width="1" height="24" fill="#ff0000"/>
<rect x="1254" y="526" width="3" height="3" fill="#ff0000"/>
<rect x="1259" y="526" width="1" height="19" fill="#00ff00"/>
<rect x="1258" y="526" width="3" height="11" fill="#00ff00"/>
<rect x="1263" y="535" width="1" height="17" fill="#00ff00"/>
<rect x="1262" y="536" width="3" height="9" fill="#00ff00"/>
<rect x="1267" y="539" width="1" height="7" fill="#ff0000"/>
<rect x="1266" y="541" width="3" height="3" fill="#ff0000"/>
<path d="M661 107h3v1h-3zM657 108h4v1h-4zM664 108h2v1h-2zM653 109h4v1h-4zM666 109h3v1h-3zM649 110h4v1h-4zM669 110h3v1h-3zM646 111h3v1h-3zM672 111h2v1h-2zM644 112h2v1h-2zM674 112h3v1h-3zM641 113h3v1h-3zM677 113h3v1h-3zM638 114h3v1h-3zM680 114h2v1h-2zM636 115h2v1h-2zM682 115h3v1h-3zM635 116h1v1h-1zM685 116h8v1h-8zM633 117h2v1h-2zM693 117h8v1h-8zM632 118h1v1h-1zM701 118h8v1h-8zM629 119h3v1h-3zM709 119h3v1h-3zM626 120h3v1h-3zM712 120h2v1h-2zM624 121h2v1h-2zM714 121h3v1h-3zM621 122h3v1h-3zM717 122h3v1h-3zM618 123h3v1h-3zM720 123h2v1h-2zM616 124h2v1h-2zM722 124h3v1h-3zM613 125h3v1h-3zM725 125h4v1h-4zM609 126h4v1h-4zM729 126h4v1h-4zM606 127h3v1h-3zM733 127h3v1h-3zM604 128h2v1h-2zM736 128h2v1h-2zM601 129h3v1h-3zM738 129h3v1h-3zM599 130h2v1h-2zM741 130h3v1h-3zM597 131h2v1h-2zM744 131h2v1h-2zM596 132h1v1h-1zM746 132h2v1h-2zM594 133h2v1h-2zM748 133h2v1h-2zM592 134h2v1h-2zM750 134h2v1h-2zM510 135h6v1h-6zM590 135h2v1h-2zM752 135h1v1h-1zM508 136h2v1h-2zM516 136h2v1h-2zM588 136h2v1h-2zM753 136h2v1h-2zM507 137h1v1h-1zM518 137h3v1h-3zM585 137h3v1h-3zM755 137h1v1h-1zM505 138h2v1h-2zM521 138h4v1h-4zM557 138h12v1h-12zM581 138h4v1h-4zM756 138h1v1h-1zM504 139h1v1h-1zM525 139h4v1h-4zM553 139h4v1h-4zM569 139h12v1h-12zM757 139h2v1h-2zM501 140h3v1h-3zM529 140h8v1h-8zM549 140h4v1h-4zM759 140h1v1h-1zM497 141h4v1h-4zM537 141h12v1h-12zM760 141h2v1h-2zM493 142h4v1h-4zM762 142h2v1h-2zM491 143h2v1h-2zM764 143h2v1h-2zM489 144h2v1h-2zM766 144h2v1h-2zM488 145h1v1h-1zM768 145h1v1h-1zM486 146h2v1h-2zM769 146h1v1h-1zM484 147h2v1h-2zM770 147h1v1h-1zM483 148h1v1h-1zM771 148h1v1h-1zM481 149h2v1h-2zM772 149h2v1h-2zM480 150h1v1h-1zM774 150h2v1h-2zM479 151h1v1h-1zM776 151h1v1h-1zM477 152h2v1h-2zM777 152h2v1h-2zM476 153h1v1h-1zM779 153h1v1h-1zM475 154h1v1h-1zM780 154h1v1h-1zM473 155h2v1h-2zM781 155h2v1h-2zM472 156h1v1h-1zM783 156h1v1h-1zM471 157h1v1h-1zM784 157h2v1h-2zM469 158h2v1h-2zM786 158h3v1h-3zM468 159h1v1h-1zM789 159h3v1h-3zM467 160h1v1h-1zM792 160h2v1h-2zM466 161h1v1h-1zM794 161h2v1h-2zM465 162h1v1h-1zM796 162h2v1h-2zM464 163h1v1h-1zM798 163h3v1h-3zM463 164h1v1h-1zM801 164h3v1h-3zM461 165h2v1h-2zM804 165h2v1h-2zM460 166h1v1h-1zM806 166h2v1h-2zM459 167h1v1h-1zM808 167h1v1h-1zM457 168h2v1h-2zM809 168h2v1h-2zM456 169h1v1h-1zM811 169h1v1h-1zM455 170h1v1h-1zM812 170h2v1h-2zM454 171h1v1h-1zM814 171h2v1h-2zM453 172h1v1h-1zM816 172h2v1h-2zM452 173h1v1h-1zM818 173h2v1h-2zM451 174h1v1h-1zM820 174h1v1h-1zM449 175h2v1h-2zM821 175h2v1h-2zM448 176h1v1h-1zM823 176h1v1h-1zM446 177h2v1h-2zM824 177h2v1h-2zM444 178h2v1h-2zM826 178h2v1h-2zM442 179h2v1h-2zM828 179h2v1h-2zM440 180h2v1h-2zM830 180h2v1h-2zM3 181h1v1h-1zM438 181h2v1h-2zM832 181h2v1h-2zM4 182h2v1h-2zM436 182h2v1h-2zM834 182h3v1h-3zM6 183h3v1h-3zM434 183h2v1h-2zM837 183h4v1h-4zM9 184h4v1h-4zM432 184h2v1h-2zM841 184h3v1h-3zM13 185h4v1h-4zM57 185h20v1h-20zM430 185h2v1h-2zM844 185h2v1h-2zM17 186h4v1h-4zM53 186h4v1h-4zM77 186h12v1h-12zM428 186h2v1h-2zM846 186h2v1h-2zM21 187h32v1h-32zM89 187h12v1h-12zM426 187h2v1h-2zM848 187h2v1h-2zM101 188h4v1h-4zM424 188h2v1h-2zM850 188h2v1h-2zM105 189h4v1h-4zM421 189h3v1h-3zM852 189h2v1h-2zM109 190h4v1h-4zM419 190h2v1h-2zM854 190h2v1h-2zM113 191h3v1h-3zM417 191h2v1h-2zM856 191h2v1h-2zM116 192h2v1h-2zM416 192h1v1h-1zM858 192h2v1h-2zM118 193h3v1h-3zM414 193h2v1h-2zM860 193h1v1h-1zM121 194h3v1h-3zM412 194h2v1h-2zM861 194h2v1h-2zM124 195h2v1h-2zM411 195h1v1h-1zM863 195h1v1h-1zM126 196h2v1h-2zM410 196h1v1h-1zM864 196h2v1h-2zM128 197h2v1h-2zM409 197h1v1h-1zM866 197h2v1h-2zM130 198h3v1h-3zM408 198h1v1h-1zM868 198h1v1h-1zM133 199h3v1h-3zM407 199h1v1h-1zM869 199h2v1h-2zM136 200h2v1h-2zM405 200h2v1h-2zM871 200h1v1h-1zM138 201h2v1h-2zM404 201h1v1h-1zM872 201h1v1h-1zM140 202h2v1h-2zM403 202h1v1h-1zM873 202h2v1h-2zM142 203h2v1h-2zM402 203h1v1h-1zM875 203h1v1h-1zM144 204h2v1h-2zM401 204h1v1h-1zM876 204h1v1h-1zM146 205h2v1h-2zM400 205h1v1h-1zM877 205h2v1h-2zM148 206h1v1h-1zM399 206h1v1h-1zM879 206h1v1h-1zM149 207h2v1h-2zM333 207h4v1h-4zM398 207h1v1h-1zM880 207h1v1h-1zM151 208h1v1h-1zM330 208h3v1h-3zM337 208h7v1h-7zM397 208h1v1h-1zM881 208h2v1h-2zM152 209h1v1h-1zM328 209h2v1h-2zM344 209h2v1h-2zM396 209h1v1h-1zM883 209h1v1h-1zM153 210h2v1h-2zM325 210h3v1h-3zM346 210h3v1h-3zM395 210h1v1h-1zM884 210h2v1h-2zM155 211h1v1h-1zM323 211h2v1h-2zM349 211h3v1h-3zM393 211h2v1h-2zM886 211h2v1h-2zM156 212h1v1h-1zM321 212h2v1h-2zM352 212h2v1h-2zM392 212h1v1h-1zM888 212h2v1h-2zM157 213h2v1h-2zM320 213h1v1h-1zM354 213h2v1h-2zM390 213h2v1h-2zM890 213h2v1h-2zM159 214h1v1h-1zM319 214h1v1h-1zM356 214h2v1h-2zM388 214h2v1h-2zM892 214h2v1h-2zM160 215h1v1h-1zM317 215h2v1h-2zM358 215h2v1h-2zM377 215h11v1h-11zM894 215h3v1h-3zM161 216h2v1h-2zM316 216h1v1h-1zM360 216h2v1h-2zM374 216h3v1h-3zM897 216h3v1h-3zM163 217h1v1h-1zM315 217h1v1h-1zM362 217h7v1h-7zM372 217h2v1h-2zM900 217h2v1h-2zM164 218h1v1h-1zM314 218h1v1h-1zM369 218h3v1h-3zM902 218h3v1h-3zM165 219h2v1h-2zM313 219h1v2h-1zM905 219h3v1h-3zM167 220h1v1h-1zM908 220h2v1h-2zM168 221h1v1h-1zM312 221h1v1h-1zM910 221h2v1h-2zM169 222h1v1h-1zM311 222h1v1h-1zM912 222h2v1h-2zM170 223h1v1h-1zM310 223h1v1h-1zM914 223h2v1h-2zM171 224h1v1h-1zM309 224h1v1h-1zM916 224h2v1h-2zM172 225h1v1h-1zM308 225h1v1h-1zM918 225h2v1h-2zM173 226h2v1h-2zM307 226h1v1h-1zM920 226h2v1h-2zM175 227h1v1h-1zM306 227h1v1h-1zM922 227h2v1h-2zM176 228h1v1h-1zM305 228h1v1h-1zM924 228h2v1h-2zM177 229h1v1h-1zM304 229h1v1h-1zM926 229h2v1h-2zM178 230h1v1h-1zM303 230h1v1h-1zM928 230h2v1h-2zM179 231h1v1h-1zM302 231h1v1h-1zM930 231h2v1h-2zM180 232h1v1h-1zM301 232h1v2h-1zM932 232h2v1h-2zM181 233h2v1h-2zM934 233h2v1h-2zM183 234h1v1h-1zM300 234h1v1h-1zM936 234h2v1h-2zM184 235h1v1h-1zM299 235h1v1h-1zM938 235h2v1h-2zM185 236h1v1h-1zM297 236h2v1h-2zM940 236h2v1h-2zM186 237h1v1h-1zM296 237h1v1h-1zM942 237h2v1h-2zM187 238h1v1h-1zM295 238h1v1h-1zM944 238h1v1h-1zM188 239h1v1h-1zM293 239h2v1h-2zM945 239h2v1h-2zM189 240h2v1h-2zM292 240h1v1h-1zM947 240h1v1h-1zM191 241h1v1h-1zM291 241h1v1h-1zM948 241h1v1h-1zM192 242h1v1h-1zM289 242h2v1h-2zM949 242h2v1h-2zM193 243h1v1h-1zM288 243h1v1h-1zM951 243h1v1h-1zM194 244h1v1h-1zM286 244h2v1h-2zM952 244h1v1h-1zM195 245h1v1h-1zM284 245h2v1h-2zM953 245h1v1h-1zM196 246h2v1h-2zM282 246h2v1h-2zM954 246h1v1h-1zM198 247h2v1h-2zM280 247h2v1h-2zM955 247h1v1h-1zM200 248h2v1h-2zM277 248h3v1h-3zM956 248h1v1h-1zM202 249h2v1h-2zM273 249h4v1h-4zM957 249h1v1h-1zM204 250h2v1h-2zM269 250h4v1h-4zM958 250h1v1h-1zM206 251h3v1h-3zM261 251h8v1h-8zM959 251h1v1h-1zM209 252h3v1h-3zM257 252h4v1h-4zM960 252h1v1h-1zM212 253h2v1h-2zM253 253h4v1h-4zM961 253h1v1h-1zM214 254h3v1h-3zM245 254h8v1h-8zM962 254h1v1h-1zM217 255h4v1h-4zM241 255h4v1h-4zM963 255h1v1h-1zM221 256h4v1h-4zM229 256h12v1h-12zM964 256h1v1h-1zM225 257h4v1h-4zM965 257h1v1h-1zM966 258h1v1h-1zM967 259h1v1h-1zM968 260h1v1h-1zM969 261h1v2h-1zM970 263h1v1h-1zM971 264h1v1h-1zM972 265h1v1h-1zM973 266h1v1h-1zM974 267h1v1h-1zM975 268h1v1h-1zM976 269h1v1h-1zM977 270h2v1h-2zM979 271h1v1h-1zM980 272h1v1h-1zM981 273h1v1h-1zM982 274h1v1h-1zM983 275h1v1h-1zM984 276h1v1h-1zM985 277h1v1h-1zM986 278h1v1h-1zM987 279h1v1h-1zM988 280h1v1h-1zM989 281h1v1h-1zM990 282h1v1h-1zM991 283h1v1h-1zM992 284h2v1h-2zM994 285h2v1h-2zM996 286h1v1h-1zM997 287h2v1h-2zM999 288h1v1h-1zM1000 289h1v1h-1zM1001 290h1v1h-1zM1002 291h1v1h-1zM1003 292h1v1h-1zM1004 293h1v1h-1zM1005 294h2v1h-2zM1007 295h1v1h-1zM1008 296h1v1h-1zM1009 297h1v1h-1zM1010 298h1v1h-1zM1011 299h1v1h-1zM1012 300h1v1h-1zM1013 301h1v1h-1zM1014 302h1v1h-1zM1015 303h1v1h-1zM1016 304h1v1h-1zM1017 305h1v2h-1zM1018 307h1v1h-1zM1019 308h1v1h-1zM1020 309h1v1h-1zM1021 310h1v2h-1zM1022 312h1v1h-1zM1023 313h1v1h-1zM1024 314h1v1h-1zM1025 315h1v1h-1zM1026 316h1v1h-1zM1027 317h1v1h-1zM1028 318h1v1h-1zM1029 319h1v1h-1zM1030 320h1v1h-1zM1031 321h1v1h-1zM1032 322h1v1h-1zM1033 323h1v1h-1zM1034 324h1v1h-1zM1035 325h1v1h-1zM1036 326h1v1h-1zM1037 327h2v1h-2zM1039 328h1v1h-1zM1040 329h2v1h-2zM1042 330h2v1h-2zM1044 331h2v1h-2zM1046 332h2v1h-2zM1048 333h2v1h-2zM1050 334h2v1h-2zM1052 335h1v1h-1zM1053 336h2v1h-2zM1055 337h1v1h-1zM1056 338h2v1h-2zM1058 339h2v1h-2zM1060 340h2v1h-2zM1062 341h2v1h-2zM1064 342h1v1h-1zM1065 343h2v1h-2zM1067 344h1v1h-1zM1068 345h1v1h-1zM1069 346h1v1h-1zM1070 347h1v1h-1zM1071 348h1v1h-1zM1072 349h2v1h-2zM1074 350h2v1h-2zM1076 351h1v1h-1zM1077 352h2v1h-2zM1079 353h1v1h-1zM1080 354h1v1h-1zM1081 355h2v1h-2zM1083 356h1v1h-1zM1084 357h1v1h-1zM1085 358h2v1h-2zM1087 359h1v1h-1zM1088 360h1v1h-1zM1089 361h2v1h-2zM1091 362h1v1h-1zM1092 363h2v1h-2zM1094 364h2v1h-2zM1096 365h1v1h-1zM1097 366h1v1h-1zM1098 367h1v1h-1zM1099 368h1v1h-1zM1100 369h1v1h-1zM1101 370h1v1h-1zM1102 371h1v1h-1zM1103 372h1v1h-1zM1104 373h2v1h-2zM1106 374h2v1h-2zM1108 375h1v1h-1zM1109 376h2v1h-2zM1111 377h1v1h-1zM1112 378h1v1h-1zM1113 379h1v1h-1zM1114 380h1v1h-1zM1115 381h1v1h-1zM1116 382h1v1h-1zM1117 383h2v1h-2zM1119 384h1v1h-1zM1120 385h1v1h-1zM1121 386h2v1h-2zM1123 387h1v1h-1zM1124 388h1v1h-1zM1125 389h1v1h-1zM1126 390h1v1h-1zM1127 391h1v1h-1zM1128 392h1v1h-1zM1129 393h2v1h-2zM1131 394h1v1h-1zM1132 395h1v1h-1zM1133 396h2v1h-2zM1135 397h1v1h-1zM1136 398h1v1h-1zM1137 399h2v1h-2zM1139 400h1v1h-1zM1140 401h1v1h-1zM1141 402h2v1h-2zM1143 403h1v1h-1zM1144 404h2v1h-2zM1146 405h2v1h-2zM1148 406h1v1h-1zM1149 407h2v1h-2zM1151 408h1v1h-1zM1152 409h1v1h-1zM1153 410h2v1h-2zM1155 411h1v1h-1zM1156 412h2v1h-2zM1158 413h2v1h-2zM1160 414h2v1h-2zM1162 415h2v1h-2zM1164 416h1v1h-1zM1165 417h2v1h-2zM1167 418h1v1h-1zM1168 419h1v1h-1zM1169 420h1v1h-1zM1170 421h1v1h-1zM1171 422h1v1h-1zM1172 423h1v1h-1zM1173 424h1v1h-1zM1174 425h1v1h-1zM1175 426h1v1h-1zM1176 427h1v1h-1zM1177 428h2v1h-2zM1179 429h1v1h-1zM1180 430h1v1h-1zM1181 431h2v1h-2zM1183 432h1v1h-1zM1184 433h1v1h-1zM1185 434h1v1h-1zM1186 435h1v1h-1zM1187 436h1v1h-1zM1188 437h1v1h-1zM1189 438h1v1h-1zM1190 439h1v1h-1zM1191 440h1v1h-1zM1192 441h1v1h-1zM1193 442h1v1h-1zM1194 443h1v1h-1zM1195 444h1v1h-1zM1196 445h1v1h-1zM1197 446h1v1h-1zM1198 447h1v1h-1zM1199 448h1v1h-1zM1200 449h1v1h-1zM1201 450h2v1h-2zM1203 451h1v1h-1zM1204 452h1v1h-1zM1205 453h2v1h-2zM1207 454h1v1h-1zM1208 455h1v1h-1zM1209 456h2v1h-2zM1211 457h1v1h-1zM1212 458h1v1h-1zM1213 459h2v1h-2zM1215 460h1v1h-1zM1216 461h2v1h-2zM1218 462h2v1h-2zM1220 463h1v1h-1zM1221 464h2v1h-2zM1223 465h1v1h-1zM1224 466h1v1h-1zM1225 467h1v1h-1zM1226 468h1v1h-1zM1227 469h1v1h-1zM1228 470h1v1h-1zM1229 471h1v2h-1zM1230 473h1v1h-1zM1231 474h1v1h-1zM1232 475h1v1h-1zM1233 476h1v1h-1zM1234 477h1v1h-1zM1235 478h1v1h-1zM1236 479h1v1h-1zM1237 480h1v1h-1zM1238 481h1v1h-1zM1239 482h1v1h-1zM1240 483h1v1h-1zM1241 484h2v1h-2zM1243 485h1v1h-1zM1244 486h1v1h-1zM1245 487h1v1h-1zM1246 488h1v1h-1zM1247 489h1v1h-1zM1248 490h2v1h-2zM1250 491h2v1h-2zM1252 492h2v1h-2zM1254 493h2v1h-2zM1256 494h2v1h-2zM1258 495h2v1h-2zM1260 496h2v1h-2zM1262 497h2v1h-2zM1264 498h1v1h-1zM1265 499h2v1h-2zM1267 500h1v1h-1z" fill="#0000cd"/>
<path d="M646 96h7v1h-7zM644 97h2v1h-2zM653 97h4v1h-4zM661 97h3v1h-3zM643 98h1v1h-1zM657 98h4v1h-4zM664 98h2v1h-2zM641 99h2v1h-2zM666 99h2v1h-2zM640 100h1v1h-1zM668 100h1v1h-1zM639 101h1v1h-1zM669 101h2v1h-2zM637 102h2v1h-2zM671 102h1v1h-1zM636 103h1v1h-1zM672 103h1v1h-1zM635 104h1v1h-1zM673 104h1v2h-1zM634 105h1v1h-1zM633 106h1v2h-1zM674 106h1v1h-1zM675 107h1v1h-1zM632 108h1v1h-1zM676 108h1v1h-1zM631 109h1v1h-1zM677 109h1v1h-1zM629 110h2v1h-2zM678 110h1v1h-1zM628 111h1v1h-1zM679 111h1v1h-1zM627 112h1v1h-1zM680 112h1v1h-1zM625 113h2v1h-2zM681 113h1v2h-1zM624 114h1v1h-1zM623 115h1v1h-1zM682 115h1v1h-1zM599 116h5v1h-5zM621 116h2v1h-2zM683 116h1v1h-1zM597 117h2v1h-2zM604 117h2v1h-2zM620 117h1v1h-1zM684 117h1v1h-1zM596 118h1v1h-1zM606 118h3v1h-3zM617 118h3v1h-3zM685 118h1v1h-1zM450 119h2v1h-2zM595 119h1v1h-1zM609 119h8v1h-8zM686 119h1v1h-1zM448 120h2v1h-2zM452 120h2v1h-2zM593 120h2v1h-2zM687 120h1v1h-1zM447 121h1v1h-1zM454 121h2v1h-2zM592 121h1v1h-1zM688 121h1v2h-1zM445 122h2v1h-2zM456 122h2v1h-2zM590 122h2v1h-2zM444 123h1v1h-1zM458 123h2v1h-2zM588 123h2v1h-2zM689 123h1v2h-1zM443 124h1v1h-1zM460 124h1v1h-1zM585 124h3v1h-3zM442 125h1v2h-1zM461 125h1v1h-1zM577 125h8v1h-8zM690 125h1v2h-1zM462 126h1v1h-1zM562 126h15v1h-15zM441 127h1v2h-1zM463 127h1v1h-1zM560 127h2v1h-2zM691 127h1v1h-1zM464 128h1v1h-1zM559 128h1v1h-1zM692 128h1v1h-1zM440 129h1v2h-1zM465 129h2v1h-2zM557 129h2v1h-2zM693 129h1v1h-1zM467 130h1v1h-1zM556 130h1v1h-1zM694 130h1v1h-1zM439 131h1v1h-1zM468 131h2v1h-2zM555 131h1v1h-1zM695 131h1v1h-1zM437 132h2v1h-2zM470 132h2v1h-2zM553 132h2v1h-2zM696 132h1v1h-1zM436 133h1v1h-1zM472 133h1v1h-1zM552 133h1v1h-1zM697 133h1v1h-1zM435 134h1v1h-1zM473 134h1v2h-1zM551 134h1v1h-1zM698 134h1v1h-1zM434 135h1v1h-1zM549 135h2v1h-2zM699 135h1v1h-1zM433 136h1v2h-1zM474 136h1v1h-1zM548 136h1v1h-1zM700 136h1v1h-1zM475 137h1v1h-1zM547 137h1v1h-1zM701 137h1v1h-1zM432 138h1v1h-1zM476 138h2v1h-2zM545 138h2v1h-2zM702 138h1v1h-1zM431 139h1v1h-1zM478 139h2v1h-2zM544 139h1v1h-1zM703 139h1v1h-1zM429 140h2v1h-2zM480 140h1v1h-1zM542 140h2v1h-2zM704 140h1v1h-1zM428 141h1v1h-1zM481 141h2v1h-2zM540 141h2v1h-2zM705 141h2v1h-2zM427 142h1v2h-1zM483 142h1v1h-1zM537 142h3v1h-3zM707 142h1v1h-1zM484 143h2v1h-2zM534 143h3v1h-3zM708 143h2v1h-2zM426 144h1v2h-1zM486 144h2v1h-2zM532 144h2v1h-2zM710 144h2v1h-2zM488 145h1v1h-1zM531 145h1v1h-1zM712 145h2v1h-2zM425 146h1v2h-1zM489 146h2v1h-2zM529 146h2v1h-2zM714 146h2v1h-2zM741 146h8v1h-8zM491 147h5v1h-5zM528 147h1v1h-1zM716 147h2v1h-2zM738 147h3v1h-3zM749 147h4v1h-4zM424 148h1v2h-1zM496 148h2v1h-2zM526 148h2v1h-2zM718 148h3v1h-3zM736 148h2v1h-2zM753 148h8v1h-8zM498 149h3v1h-3zM524 149h2v1h-2zM721 149h4v1h-4zM729 149h7v1h-7zM761 149h4v1h-4zM423 150h1v1h-1zM501 150h3v1h-3zM521 150h3v1h-3zM725 150h4v1h-4zM765 150h3v1h-3zM422 151h1v2h-1zM504 151h2v1h-2zM518 151h3v1h-3zM768 151h1v1h-1zM506 152h7v1h-7zM516 152h2v1h-2zM769 152h2v1h-2zM421 153h1v2h-1zM513 153h3v1h-3zM771 153h1v1h-1zM772 154h1v1h-1zM420 155h1v2h-1zM773 155h1v1h-1zM774 156h1v1h-1zM419 157h1v2h-1zM775 157h1v1h-1zM776 158h1v1h-1zM418 159h1v2h-1zM777 159h2v1h-2zM779 160h1v1h-1zM417 161h1v3h-1zM780 161h1v1h-1zM781 162h2v1h-2zM783 163h1v1h-1zM416 164h1v2h-1zM784 164h1v1h-1zM785 165h1v1h-1zM415 166h1v3h-1zM786 166h1v1h-1zM787 167h1v1h-1zM788 168h1v1h-1zM414 169h1v2h-1zM789 169h1v1h-1zM790 170h1v1h-1zM413 171h1v2h-1zM791 171h1v1h-1zM792 172h1v1h-1zM412 173h1v2h-1zM793 173h1v2h-1zM411 175h1v3h-1zM794 175h1v1h-1zM37 176h8v1h-8zM795 176h1v1h-1zM33 177h4v1h-4zM45 177h7v1h-7zM796 177h1v1h-1zM31 178h2v1h-2zM52 178h2v1h-2zM57 178h3v1h-3zM410 178h1v2h-1zM797 178h1v1h-1zM29 179h2v1h-2zM54 179h3v1h-3zM60 179h1v1h-1zM798 179h1v1h-1zM28 180h1v1h-1zM61 180h2v1h-2zM409 180h1v3h-1zM799 180h1v1h-1zM26 181h2v1h-2zM63 181h5v1h-5zM800 181h1v1h-1zM24 182h2v1h-2zM68 182h2v1h-2zM801 182h1v2h-1zM21 183h3v1h-3zM70 183h2v1h-2zM408 183h1v2h-1zM17 184h4v1h-4zM72 184h2v1h-2zM802 184h1v1h-1zM13 185h4v1h-4zM74 185h2v1h-2zM407 185h1v3h-1zM803 185h1v1h-1zM9 186h4v1h-4zM76 186h2v1h-2zM804 186h1v1h-1zM5 187h4v1h-4zM78 187h2v1h-2zM805 187h1v2h-1zM3 188h2v1h-2zM80 188h2v1h-2zM406 188h1v3h-1zM82 189h2v1h-2zM806 189h1v1h-1zM84 190h1v1h-1zM807 190h1v1h-1zM85 191h1v1h-1zM405 191h1v2h-1zM808 191h1v1h-1zM86 192h1v1h-1zM809 192h1v1h-1zM87 193h1v1h-1zM404 193h1v3h-1zM810 193h1v1h-1zM88 194h1v1h-1zM811 194h1v1h-1zM89 195h2v1h-2zM812 195h1v1h-1zM91 196h1v1h-1zM403 196h1v3h-1zM813 196h1v1h-1zM92 197h2v1h-2zM329 197h7v1h-7zM814 197h1v1h-1zM94 198h3v1h-3zM326 198h3v1h-3zM336 198h2v1h-2zM815 198h1v1h-1zM97 199h4v1h-4zM324 199h2v1h-2zM338 199h2v1h-2zM402 199h1v3h-1zM816 199h1v1h-1zM101 200h3v1h-3zM322 200h2v1h-2zM340 200h1v1h-1zM817 200h1v1h-1zM104 201h1v1h-1zM320 201h2v1h-2zM341 201h2v1h-2zM818 201h1v1h-1zM105 202h2v1h-2zM317 202h3v1h-3zM343 202h1v1h-1zM401 202h1v3h-1zM819 202h1v1h-1zM107 203h1v1h-1zM313 203h4v1h-4zM344 203h1v1h-1zM820 203h1v1h-1zM108 204h2v1h-2zM311 204h2v1h-2zM345 204h1v1h-1zM821 204h1v2h-1zM110 205h2v1h-2zM310 205h1v1h-1zM346 205h1v1h-1zM400 205h1v3h-1zM112 206h2v1h-2zM117 206h3v1h-3zM309 206h1v1h-1zM347 206h1v1h-1zM822 206h1v1h-1zM837 206h8v1h-8zM853 206h4v1h-4zM114 207h3v1h-3zM120 207h2v1h-2zM308 207h1v1h-1zM348 207h1v1h-1zM823 207h2v1h-2zM834 207h3v1h-3zM845 207h8v1h-8zM857 207h12v1h-12zM122 208h2v1h-2zM307 208h1v1h-1zM349 208h1v1h-1zM399 208h1v3h-1zM825 208h4v1h-4zM832 208h2v1h-2zM869 208h3v1h-3zM124 209h1v1h-1zM305 209h2v1h-2zM350 209h1v1h-1zM829 209h3v1h-3zM872 209h1v1h-1zM125 210h2v1h-2zM304 210h1v1h-1zM351 210h1v1h-1zM873 210h2v1h-2zM127 211h2v1h-2zM303 211h1v1h-1zM352 211h1v1h-1zM398 211h1v3h-1zM875 211h1v1h-1zM129 212h3v1h-3zM301 212h2v1h-2zM353 212h1v1h-1zM876 212h2v1h-2zM132 213h2v1h-2zM281 213h8v1h-8zM300 213h1v1h-1zM354 213h1v1h-1zM878 213h2v1h-2zM134 214h2v1h-2zM270 214h3v1h-3zM277 214h4v1h-4zM289 214h11v1h-11zM355 214h1v1h-1zM397 214h1v2h-1zM880 214h2v1h-2zM136 215h2v1h-2zM268 215h2v1h-2zM273 215h4v1h-4zM356 215h1v2h-1zM882 215h3v1h-3zM138 216h2v1h-2zM267 216h1v1h-1zM396 216h1v3h-1zM885 216h3v1h-3zM140 217h1v1h-1zM265 217h2v1h-2zM357 217h1v1h-1zM888 217h1v1h-1zM141 218h2v1h-2zM264 218h1v1h-1zM358 218h1v2h-1zM889 218h1v1h-1zM143 219h2v1h-2zM263 219h1v1h-1zM395 219h1v2h-1zM890 219h1v1h-1zM145 220h3v1h-3zM262 220h1v1h-1zM359 220h1v1h-1zM891 220h1v1h-1zM148 221h1v1h-1zM261 221h1v1h-1zM360 221h1v1h-1zM394 221h1v2h-1zM892 221h1v1h-1zM149 222h2v1h-2zM260 222h1v1h-1zM361 222h1v2h-1zM893 222h1v1h-1zM151 223h1v1h-1zM259 223h1v1h-1zM393 223h1v2h-1zM894 223h1v1h-1zM152 224h1v1h-1zM258 224h1v1h-1zM362 224h1v1h-1zM895 224h1v1h-1zM153 225h1v1h-1zM257 225h1v2h-1zM363 225h1v1h-1zM392 225h1v2h-1zM896 225h1v1h-1zM154 226h1v1h-1zM364 226h1v1h-1zM897 226h1v1h-1zM155 227h1v1h-1zM256 227h1v1h-1zM365 227h1v1h-1zM391 227h1v1h-1zM898 227h1v1h-1zM156 228h1v1h-1zM255 228h1v1h-1zM366 228h1v1h-1zM389 228h2v1h-2zM899 228h1v1h-1zM157 229h1v1h-1zM254 229h1v1h-1zM367 229h1v1h-1zM388 229h1v1h-1zM900 229h1v1h-1zM158 230h1v1h-1zM253 230h1v1h-1zM368 230h1v1h-1zM381 230h7v1h-7zM901 230h2v1h-2zM159 231h1v1h-1zM252 231h1v1h-1zM369 231h1v1h-1zM374 231h7v1h-7zM903 231h1v1h-1zM160 232h1v1h-1zM251 232h1v1h-1zM370 232h1v1h-1zM372 232h2v1h-2zM904 232h1v1h-1zM161 233h1v2h-1zM250 233h1v2h-1zM371 233h1v1h-1zM905 233h2v1h-2zM907 234h1v1h-1zM162 235h1v1h-1zM249 235h1v1h-1zM908 235h1v1h-1zM163 236h1v1h-1zM248 236h1v2h-1zM909 236h1v1h-1zM164 237h1v1h-1zM910 237h1v1h-1zM165 238h1v2h-1zM247 238h1v1h-1zM911 238h1v1h-1zM246 239h1v2h-1zM912 239h1v1h-1zM166 240h1v1h-1zM913 240h2v1h-2zM167 241h1v1h-1zM245 241h1v2h-1zM915 241h1v1h-1zM168 242h1v1h-1zM916 242h1v1h-1zM169 243h1v2h-1zM244 243h1v2h-1zM917 243h1v1h-1zM918 244h1v1h-1zM170 245h1v1h-1zM243 245h1v2h-1zM919 245h1v1h-1zM171 246h1v1h-1zM920 246h1v1h-1zM172 247h1v2h-1zM242 247h1v2h-1zM921 247h1v1h-1zM922 248h1v1h-1zM173 249h1v1h-1zM241 249h1v2h-1zM923 249h1v1h-1zM174 250h1v2h-1zM924 250h1v1h-1zM240 251h1v2h-1zM925 251h1v1h-1zM175 252h1v1h-1zM926 252h1v1h-1zM176 253h1v1h-1zM239 253h1v2h-1zM927 253h2v1h-2zM177 254h1v2h-1zM929 254h4v1h-4zM238 255h1v2h-1zM933 255h3v1h-3zM178 256h1v1h-1zM936 256h1v1h-1zM179 257h1v1h-1zM237 257h1v1h-1zM937 257h2v1h-2zM180 258h1v1h-1zM236 258h1v2h-1zM939 258h1v1h-1zM181 259h1v2h-1zM940 259h1v1h-1zM235 260h1v1h-1zM941 260h1v1h-1zM182 261h1v1h-1zM234 261h1v2h-1zM942 261h1v1h-1zM183 262h1v1h-1zM943 262h1v1h-1zM184 263h1v1h-1zM233 263h1v2h-1zM944 263h1v1h-1zM185 264h1v2h-1zM945 264h1v1h-1zM232 265h1v2h-1zM946 265h1v1h-1zM186 266h1v1h-1zM947 266h1v1h-1zM187 267h1v1h-1zM231 267h1v1h-1zM948 267h1v1h-1zM188 268h1v2h-1zM230 268h1v2h-1zM949 268h2v1h-2zM951 269h1v1h-1zM189 270h1v1h-1zM229 270h1v1h-1zM952 270h1v1h-1zM190 271h1v2h-1zM228 271h1v2h-1zM953 271h1v1h-1zM954 272h1v1h-1zM191 273h1v1h-1zM227 273h1v1h-1zM955 273h1v1h-1zM192 274h1v1h-1zM226 274h1v1h-1zM956 274h1v1h-1zM193 275h1v2h-1zM225 275h1v2h-1zM957 275h1v2h-1zM194 277h1v1h-1zM224 277h1v1h-1zM958 277h1v1h-1zM195 278h1v1h-1zM223 278h1v1h-1zM959 278h1v1h-1zM196 279h1v1h-1zM221 279h2v1h-2zM960 279h1v1h-1zM197 280h2v1h-2zM220 280h1v1h-1zM961 280h1v2h-1zM199 281h1v1h-1zM219 281h1v1h-1zM200 282h1v1h-1zM218 282h1v1h-1zM962 282h1v1h-1zM201 283h2v1h-2zM217 283h1v1h-1zM963 283h1v1h-1zM203 284h2v1h-2zM216 284h1v1h-1zM964 284h1v2h-1zM205 285h4v1h-4zM213 285h3v1h-3zM209 286h4v1h-4zM965 286h1v1h-1zM966 287h1v2h-1zM967 289h1v1h-1zM968 290h1v2h-1zM969 292h1v1h-1zM970 293h1v2h-1zM971 295h1v1h-1zM972 296h1v1h-1zM973 297h2v1h-2zM975 298h1v1h-1zM976 299h1v1h-1zM977 300h1v1h-1zM978 301h1v1h-1zM979 302h1v1h-1zM980 303h1v1h-1zM981 304h1v1h-1zM982 305h1v1h-1zM983 306h1v1h-1zM984 307h1v1h-1zM985 308h1v1h-1zM986 309h1v1h-1zM987 310h1v1h-1zM988 311h1v1h-1zM989 312h1v1h-1zM990 313h1v1h-1zM991 314h1v1h-1zM992 315h1v1h-1zM993 316h1v2h-1zM994 318h1v1h-1zM995 319h1v1h-1zM996 320h1v1h-1zM997 321h1v1h-1zM998 322h1v1h-1zM999 323h1v1h-1zM1000 324h1v1h-1zM1001 325h2v1h-2zM1003 326h1v1h-1zM1004 327h2v1h-2zM1006 328h2v1h-2zM1008 329h1v1h-1zM1009 330h2v1h-2zM1011 331h1v1h-1zM1012 332h1v1h-1zM1013 333h1v2h-1zM1014 335h1v1h-1zM1015 336h1v1h-1zM1016 337h1v1h-1zM1017 338h1v2h-1zM1018 340h1v1h-1zM1019 341h1v1h-1zM1020 342h1v1h-1zM1021 343h1v1h-1zM1022 344h1v1h-1zM1023 345h1v1h-1zM1024 346h1v1h-1zM1025 347h2v1h-2zM1027 348h1v1h-1zM1028 349h1v1h-1zM1029 350h1v1h-1zM1030 351h1v1h-1zM1031 352h1v1h-1zM1032 353h2v1h-2zM1034 354h2v1h-2zM1036 355h1v1h-1zM1037 356h2v1h-2zM1039 357h2v1h-2zM1041 358h4v1h-4zM1045 359h11v1h-11zM1056 360h2v1h-2zM1058 361h7v1h-7zM1065 362h3v1h-3zM1068 363h2v1h-2zM1070 364h10v1h-10zM1080 365h1v1h-1zM1081 366h2v1h-2zM1083 367h1v1h-1zM1084 368h1v1h-1zM1085 369h2v1h-2zM1087 370h1v1h-1zM1088 371h1v1h-1zM1089 372h1v1h-1zM1090 373h1v1h-1zM1091 374h1v1h-1zM1092 375h2v1h-2zM1094 376h2v1h-2zM1096 377h1v2h-1zM1097 379h1v2h-1zM1098 381h1v2h-1zM1099 383h1v2h-1zM1100 385h1v2h-1zM1101 387h1v2h-1zM1102 389h1v2h-1zM1103 391h1v2h-1zM1104 393h1v1h-1zM1105 394h1v2h-1zM1106 396h1v1h-1zM1107 397h1v1h-1zM1108 398h1v1h-1zM1109 399h1v2h-1zM1110 401h1v1h-1zM1111 402h1v1h-1zM1112 403h1v2h-1zM1113 405h1v1h-1zM1114 406h1v2h-1zM1115 408h1v1h-1zM1116 409h1v2h-1zM1117 411h1v1h-1zM1118 412h1v2h-1zM1119 414h1v1h-1zM1120 415h1v1h-1zM1121 416h1v2h-1zM1122 418h1v1h-1zM1123 419h1v1h-1zM1124 420h2v1h-2zM1126 421h2v1h-2zM1128 422h1v1h-1zM1129 423h1v2h-1zM1130 425h1v1h-1zM1131 426h1v1h-1zM1132 427h1v1h-1zM1133 428h1v2h-1zM1134 430h1v1h-1zM1135 431h1v1h-1zM1136 432h1v1h-1zM1137 433h1v2h-1zM1138 435h1v1h-1zM1139 436h1v1h-1zM1140 437h1v1h-1zM1141 438h2v1h-2zM1143 439h1v1h-1zM1144 440h1v1h-1zM1145 441h1v1h-1zM1146 442h1v1h-1zM1147 443h1v1h-1zM1148 444h1v1h-1zM1149 445h1v1h-1zM1157 445h4v1h-4zM1150 446h1v1h-1zM1153 446h4v1h-4zM1161 446h4v1h-4zM1151 447h2v1h-2zM1165 447h4v1h-4zM1169 448h4v1h-4zM1173 449h8v1h-8zM1181 450h3v1h-3zM1184 451h2v1h-2zM1186 452h2v1h-2zM1188 453h1v1h-1zM1189 454h2v1h-2zM1191 455h1v1h-1zM1192 456h2v1h-2zM1194 457h2v1h-2zM1196 458h1v1h-1zM1197 459h1v2h-1zM1198 461h1v1h-1zM1199 462h1v1h-1zM1200 463h2v1h-2zM1202 464h2v1h-2zM1204 465h1v1h-1zM1205 466h1v1h-1zM1206 467h1v1h-1zM1207 468h1v1h-1zM1208 469h1v1h-1zM1209 470h1v1h-1zM1210 471h1v1h-1zM1211 472h1v1h-1zM1212 473h1v2h-1zM1213 475h1v1h-1zM1214 476h1v2h-1zM1215 478h1v1h-1zM1216 479h1v2h-1zM1217 481h1v1h-1zM1218 482h1v2h-1zM1219 484h1v1h-1zM1220 485h1v2h-1zM1221 487h1v2h-1zM1222 489h1v2h-1zM1223 491h1v1h-1zM1224 492h1v2h-1zM1225 494h1v2h-1zM1226 496h1v2h-1zM1227 498h1v1h-1zM1228 499h1v2h-1zM1229 501h1v2h-1zM1230 503h1v2h-1zM1231 505h1v2h-1zM1232 507h1v2h-1zM1233 509h1v2h-1zM1234 511h1v2h-1zM1235 513h1v1h-1zM1236 514h1v2h-1zM1237 516h1v1h-1zM1238 517h1v2h-1zM1239 519h1v1h-1zM1240 520h1v1h-1zM1241 521h1v1h-1zM1242 522h1v1h-1zM1243 523h1v1h-1zM1244 524h1v1h-1zM1245 525h1v1h-1zM1246 526h1v1h-1zM1247 527h9v1h-9zM1256 528h1v1h-1zM1257 529h2v1h-2zM1259 530h1v1h-1zM1260 531h2v1h-2zM1262 532h2v1h-2zM1264 533h1v1h-1zM1265 534h2v1h-2zM1267 535h1v1h-1z" fill="#ff0000"/>
<path d="M645 80h4v1h-4zM643 81h2v1h-2zM649 81h3v1h-3zM641 82h2v1h-2zM651 82h1v1h-1zM640 83h1v1h-1zM652 83h1v3h-1zM638 84h2v1h-2zM636 85h2v1h-2zM635 86h1v2h-1zM653 86h1v4h-1zM634 88h1v2h-1zM633 90h1v3h-1zM654 90h1v3h-1zM632 93h1v2h-1zM655 93h1v2h-1zM631 95h1v2h-1zM656 95h1v2h-1zM630 97h1v2h-1zM657 97h1v1h-1zM658 98h1v2h-1zM629 99h1v1h-1zM628 100h1v2h-1zM659 100h1v1h-1zM660 101h1v2h-1zM627 102h1v1h-1zM626 103h1v2h-1zM661 103h1v2h-1zM563 105h1v2h-1zM625 105h1v1h-1zM662 105h1v2h-1zM564 106h1v2h-1zM624 106h1v2h-1zM562 107h1v2h-1zM663 107h1v3h-1zM565 108h1v1h-1zM623 108h1v1h-1zM561 109h1v2h-1zM566 109h1v2h-1zM621 109h2v1h-2zM411 110h5v1h-5zM603 110h5v1h-5zM620 110h1v1h-1zM664 110h1v3h-1zM411 111h1v1h-1zM416 111h2v1h-2zM560 111h1v2h-1zM567 111h1v1h-1zM602 111h1v1h-1zM608 111h1v1h-1zM619 111h1v1h-1zM410 112h1v4h-1zM418 112h2v1h-2zM568 112h1v2h-1zM601 112h1v1h-1zM609 112h2v1h-2zM617 112h2v1h-2zM420 113h1v2h-1zM559 113h1v2h-1zM600 113h1v1h-1zM611 113h2v1h-2zM616 113h1v1h-1zM665 113h1v4h-1zM569 114h1v2h-1zM599 114h1v1h-1zM613 114h3v1h-3zM421 115h1v2h-1zM558 115h1v2h-1zM597 115h2v1h-2zM409 116h1v4h-1zM570 116h1v2h-1zM596 116h1v1h-1zM422 117h1v2h-1zM557 117h1v1h-1zM595 117h1v1h-1zM666 117h1v3h-1zM556 118h1v2h-1zM571 118h1v2h-1zM594 118h1v2h-1zM423 119h1v1h-1zM408 120h1v4h-1zM424 120h1v1h-1zM555 120h1v1h-1zM572 120h1v1h-1zM593 120h1v1h-1zM667 120h1v3h-1zM425 121h2v1h-2zM554 121h1v2h-1zM573 121h1v2h-1zM592 121h1v2h-1zM427 122h1v1h-1zM435 122h1v1h-1zM428 123h1v2h-1zM434 123h1v2h-1zM436 123h1v2h-1zM553 123h1v2h-1zM574 123h1v1h-1zM591 123h1v1h-1zM668 123h1v2h-1zM407 124h1v4h-1zM459 124h1v2h-1zM575 124h1v1h-1zM590 124h1v1h-1zM429 125h1v1h-1zM433 125h1v1h-1zM437 125h1v2h-1zM443 125h1v1h-1zM451 125h1v1h-1zM457 125h2v1h-2zM552 125h1v2h-1zM576 125h2v1h-2zM589 125h1v2h-1zM669 125h1v3h-1zM430 126h1v2h-1zM432 126h1v2h-1zM442 126h1v1h-1zM444 126h1v1h-1zM450 126h1v1h-1zM452 126h2v1h-2zM456 126h1v1h-1zM460 126h1v2h-1zM578 126h2v1h-2zM438 127h1v2h-1zM441 127h1v2h-1zM445 127h1v1h-1zM449 127h1v1h-1zM454 127h2v1h-2zM551 127h1v1h-1zM580 127h1v1h-1zM588 127h1v1h-1zM406 128h1v5h-1zM431 128h1v1h-1zM446 128h1v1h-1zM448 128h1v1h-1zM461 128h1v2h-1zM550 128h1v2h-1zM581 128h1v2h-1zM587 128h1v1h-1zM670 128h1v2h-1zM439 129h2v1h-2zM447 129h1v1h-1zM585 129h2v1h-2zM439 130h1v1h-1zM462 130h1v2h-1zM549 130h1v2h-1zM582 130h1v1h-1zM584 130h1v1h-1zM671 130h1v2h-1zM583 131h1v1h-1zM463 132h1v2h-1zM548 132h1v2h-1zM672 132h1v2h-1zM405 133h1v6h-1zM464 134h2v1h-2zM526 134h2v1h-2zM547 134h1v1h-1zM673 134h1v2h-1zM466 135h2v1h-2zM524 135h2v1h-2zM528 135h2v1h-2zM546 135h1v2h-1zM467 136h1v1h-1zM523 136h1v1h-1zM530 136h7v1h-7zM674 136h1v2h-1zM468 137h1v2h-1zM521 137h2v1h-2zM537 137h3v1h-3zM545 137h1v2h-1zM520 138h1v1h-1zM540 138h1v1h-1zM675 138h1v2h-1zM404 139h1v5h-1zM469 139h1v3h-1zM511 139h9v1h-9zM541 139h1v1h-1zM544 139h1v2h-1zM510 140h1v1h-1zM542 140h1v1h-1zM676 140h1v2h-1zM509 141h1v2h-1zM543 141h1v1h-1zM709 141h3v1h-3zM470 142h1v2h-1zM677 142h1v1h-1zM706 142h3v1h-3zM712 142h2v1h-2zM747 142h2v1h-2zM508 143h1v1h-1zM678 143h1v2h-1zM704 143h2v1h-2zM714 143h3v1h-3zM746 143h1v1h-1zM749 143h3v1h-3zM403 144h1v5h-1zM471 144h1v3h-1zM507 144h1v1h-1zM703 144h1v1h-1zM717 144h3v1h-3zM745 144h1v1h-1zM752 144h1v1h-1zM506 145h1v2h-1zM679 145h1v2h-1zM702 145h1v1h-1zM720 145h1v1h-1zM744 145h1v1h-1zM753 145h2v1h-2zM701 146h1v2h-1zM721 146h1v2h-1zM743 146h1v1h-1zM755 146h1v1h-1zM472 147h1v2h-1zM505 147h1v1h-1zM680 147h1v2h-1zM742 147h1v1h-1zM756 147h2v1h-2zM504 148h1v2h-1zM700 148h1v1h-1zM722 148h1v1h-1zM741 148h1v2h-1zM758 148h2v1h-2zM402 149h1v4h-1zM473 149h1v3h-1zM681 149h1v3h-1zM697 149h3v1h-3zM723 149h1v1h-1zM760 149h1v1h-1zM503 150h1v1h-1zM695 150h2v1h-2zM724 150h1v1h-1zM740 150h1v1h-1zM761 150h2v1h-2zM502 151h1v1h-1zM694 151h1v1h-1zM725 151h2v1h-2zM738 151h2v1h-2zM763 151h1v1h-1zM474 152h1v2h-1zM501 152h1v1h-1zM682 152h1v2h-1zM693 152h1v1h-1zM727 152h1v1h-1zM736 152h2v1h-2zM764 152h2v1h-2zM401 153h1v4h-1zM500 153h1v1h-1zM692 153h1v1h-1zM728 153h2v1h-2zM733 153h3v1h-3zM766 153h2v1h-2zM475 154h1v3h-1zM499 154h1v1h-1zM683 154h1v2h-1zM689 154h3v1h-3zM730 154h3v1h-3zM768 154h1v2h-1zM498 155h1v1h-1zM684 155h5v1h-5zM497 156h1v2h-1zM769 156h1v2h-1zM400 157h1v4h-1zM476 157h1v2h-1zM496 158h1v1h-1zM770 158h1v2h-1zM477 159h1v2h-1zM495 159h1v1h-1zM494 160h1v2h-1zM771 160h1v3h-1zM399 161h1v4h-1zM478 161h1v2h-1zM493 162h1v1h-1zM479 163h1v2h-1zM492 163h1v2h-1zM772 163h1v2h-1zM480 164h4v1h-4zM398 165h1v4h-1zM484 165h1v1h-1zM491 165h1v1h-1zM773 165h1v2h-1zM485 166h1v1h-1zM489 166h2v1h-2zM486 167h1v1h-1zM488 167h1v1h-1zM774 167h1v2h-1zM39 168h2v1h-2zM487 168h1v1h-1zM37 169h2v1h-2zM41 169h3v1h-3zM397 169h1v5h-1zM775 169h1v3h-1zM36 170h1v1h-1zM44 170h1v1h-1zM34 171h2v1h-2zM45 171h2v1h-2zM32 172h2v1h-2zM47 172h1v1h-1zM776 172h1v2h-1zM31 173h1v2h-1zM48 173h1v1h-1zM49 174h1v2h-1zM396 174h1v4h-1zM777 174h1v3h-1zM30 175h1v2h-1zM3 176h2v1h-2zM50 176h1v1h-1zM5 177h3v1h-3zM29 177h1v2h-1zM51 177h1v1h-1zM778 177h1v2h-1zM8 178h1v1h-1zM52 178h1v1h-1zM395 178h1v3h-1zM9 179h2v1h-2zM28 179h1v2h-1zM53 179h2v1h-2zM779 179h1v3h-1zM11 180h2v1h-2zM55 180h2v1h-2zM13 181h3v1h-3zM27 181h1v2h-1zM57 181h3v1h-3zM318 181h2v1h-2zM394 181h1v2h-1zM16 182h1v1h-1zM60 182h1v2h-1zM316 182h2v1h-2zM320 182h2v1h-2zM780 182h1v3h-1zM17 183h1v2h-1zM26 183h1v1h-1zM315 183h1v1h-1zM322 183h2v1h-2zM393 183h1v1h-1zM25 184h1v1h-1zM61 184h1v2h-1zM313 184h2v1h-2zM324 184h1v1h-1zM392 184h1v2h-1zM18 185h1v1h-1zM24 185h1v1h-1zM312 185h1v1h-1zM325 185h1v2h-1zM781 185h1v2h-1zM19 186h5v1h-5zM62 186h1v2h-1zM311 186h1v2h-1zM391 186h1v2h-1zM326 187h1v1h-1zM782 187h1v3h-1zM63 188h1v2h-1zM310 188h1v2h-1zM327 188h1v1h-1zM390 188h1v3h-1zM328 189h1v2h-1zM64 190h2v1h-2zM309 190h1v2h-1zM783 190h1v3h-1zM66 191h2v1h-2zM329 191h1v2h-1zM389 191h1v3h-1zM68 192h1v2h-1zM308 192h1v2h-1zM330 193h1v2h-1zM784 193h1v2h-1zM69 194h1v1h-1zM307 194h1v1h-1zM388 194h1v3h-1zM70 195h1v2h-1zM306 195h1v2h-1zM331 195h1v1h-1zM785 195h1v3h-1zM332 196h1v2h-1zM71 197h1v1h-1zM305 197h1v2h-1zM387 197h1v2h-1zM72 198h1v2h-1zM333 198h1v2h-1zM786 198h1v2h-1zM843 198h2v1h-2zM849 198h3v1h-3zM304 199h1v2h-1zM386 199h1v1h-1zM842 199h1v1h-1zM845 199h4v1h-4zM852 199h1v1h-1zM73 200h1v1h-1zM334 200h1v2h-1zM385 200h1v2h-1zM787 200h1v2h-1zM841 200h1v1h-1zM853 200h2v1h-2zM74 201h1v2h-1zM303 201h1v1h-1zM788 201h1v1h-1zM840 201h1v1h-1zM855 201h1v1h-1zM302 202h1v2h-1zM335 202h1v2h-1zM384 202h1v1h-1zM789 202h3v1h-3zM839 202h1v1h-1zM856 202h1v1h-1zM75 203h1v1h-1zM101 203h7v1h-7zM383 203h1v2h-1zM792 203h2v1h-2zM797 203h4v1h-4zM838 203h1v1h-1zM857 203h1v2h-1zM76 204h1v2h-1zM98 204h3v1h-3zM108 204h2v1h-2zM301 204h1v2h-1zM336 204h1v2h-1zM794 204h3v1h-3zM801 204h3v1h-3zM837 204h1v1h-1zM96 205h2v1h-2zM110 205h3v1h-3zM247 205h1v1h-1zM382 205h1v3h-1zM804 205h1v1h-1zM836 205h1v1h-1zM858 205h1v1h-1zM77 206h1v1h-1zM83 206h1v1h-1zM95 206h1v1h-1zM113 206h3v1h-3zM245 206h2v1h-2zM248 206h1v1h-1zM300 206h1v2h-1zM337 206h1v2h-1zM805 206h2v1h-2zM835 206h1v1h-1zM859 206h1v1h-1zM78 207h1v2h-1zM81 207h2v1h-2zM84 207h2v1h-2zM93 207h2v1h-2zM116 207h1v1h-1zM244 207h1v1h-1zM249 207h1v1h-1zM807 207h1v1h-1zM834 207h1v2h-1zM860 207h1v1h-1zM80 208h1v1h-1zM86 208h3v1h-3zM92 208h1v1h-1zM117 208h2v1h-2zM243 208h1v1h-1zM250 208h1v1h-1zM299 208h1v1h-1zM338 208h1v2h-1zM381 208h1v3h-1zM808 208h1v1h-1zM861 208h2v1h-2zM79 209h1v1h-1zM89 209h3v1h-3zM119 209h1v1h-1zM242 209h1v2h-1zM251 209h1v1h-1zM298 209h1v1h-1zM809 209h2v1h-2zM833 209h1v1h-1zM863 209h1v1h-1zM120 210h1v1h-1zM252 210h1v1h-1zM297 210h1v1h-1zM339 210h1v3h-1zM811 210h2v1h-2zM832 210h1v2h-1zM864 210h2v1h-2zM121 211h1v2h-1zM241 211h1v2h-1zM253 211h1v1h-1zM296 211h1v1h-1zM380 211h1v3h-1zM813 211h3v1h-3zM866 211h2v1h-2zM254 212h1v1h-1zM257 212h4v1h-4zM295 212h1v1h-1zM816 212h1v1h-1zM829 212h3v1h-3zM868 212h1v1h-1zM122 213h1v1h-1zM240 213h1v2h-1zM255 213h2v1h-2zM261 213h8v1h-8zM294 213h1v1h-1zM340 213h1v4h-1zM817 213h2v1h-2zM826 213h3v1h-3zM869 213h1v1h-1zM123 214h1v1h-1zM269 214h4v1h-4zM293 214h1v2h-1zM379 214h1v3h-1zM819 214h2v1h-2zM824 214h2v1h-2zM870 214h1v1h-1zM124 215h1v1h-1zM238 215h2v1h-2zM273 215h3v1h-3zM821 215h3v1h-3zM871 215h1v2h-1zM125 216h1v2h-1zM236 216h2v1h-2zM276 216h1v1h-1zM292 216h1v1h-1zM235 217h1v2h-1zM277 217h2v1h-2zM291 217h1v1h-1zM341 217h1v3h-1zM378 217h1v4h-1zM872 217h1v3h-1zM126 218h1v1h-1zM279 218h1v1h-1zM289 218h2v1h-2zM127 219h1v1h-1zM234 219h1v3h-1zM280 219h2v1h-2zM288 219h1v1h-1zM128 220h1v1h-1zM282 220h6v1h-6zM342 220h1v4h-1zM873 220h1v3h-1zM129 221h1v2h-1zM377 221h1v4h-1zM233 222h1v2h-1zM130 223h1v1h-1zM874 223h1v3h-1zM131 224h1v1h-1zM232 224h1v3h-1zM343 224h1v3h-1zM132 225h1v2h-1zM376 225h1v4h-1zM875 226h1v2h-1zM133 227h1v1h-1zM231 227h1v3h-1zM344 227h1v4h-1zM134 228h1v2h-1zM876 228h1v1h-1zM375 229h1v4h-1zM877 229h1v2h-1zM135 230h1v1h-1zM230 230h1v3h-1zM136 231h1v1h-1zM345 231h1v3h-1zM878 231h1v1h-1zM137 232h1v1h-1zM879 232h1v1h-1zM138 233h1v1h-1zM229 233h1v2h-1zM374 233h1v4h-1zM880 233h1v1h-1zM139 234h1v1h-1zM346 234h1v4h-1zM881 234h2v1h-2zM140 235h2v1h-2zM145 235h3v1h-3zM228 235h1v3h-1zM883 235h1v1h-1zM142 236h3v1h-3zM148 236h2v1h-2zM884 236h2v1h-2zM150 237h2v1h-2zM373 237h1v4h-1zM886 237h2v1h-2zM152 238h2v1h-2zM227 238h1v2h-1zM347 238h1v2h-1zM888 238h2v1h-2zM893 238h3v1h-3zM154 239h2v1h-2zM890 239h3v1h-3zM896 239h1v1h-1zM156 240h1v2h-1zM226 240h1v1h-1zM348 240h1v2h-1zM897 240h2v1h-2zM225 241h1v1h-1zM372 241h1v4h-1zM899 241h1v1h-1zM157 242h1v1h-1zM224 242h1v1h-1zM349 242h1v2h-1zM900 242h1v1h-1zM158 243h1v2h-1zM223 243h1v2h-1zM901 243h2v1h-2zM350 244h1v2h-1zM903 244h1v1h-1zM159 245h1v1h-1zM222 245h1v2h-1zM371 245h1v3h-1zM904 245h1v1h-1zM160 246h1v2h-1zM351 246h1v2h-1zM905 246h1v1h-1zM221 247h1v3h-1zM906 247h1v1h-1zM161 248h1v2h-1zM352 248h1v2h-1zM369 248h2v1h-2zM907 248h1v1h-1zM368 249h1v1h-1zM908 249h1v1h-1zM162 250h1v2h-1zM220 250h1v2h-1zM353 250h1v2h-1zM367 250h1v1h-1zM909 250h2v1h-2zM366 251h1v2h-1zM911 251h1v1h-1zM163 252h1v3h-1zM219 252h1v3h-1zM354 252h1v2h-1zM912 252h2v1h-2zM365 253h1v2h-1zM914 253h2v1h-2zM355 254h1v1h-1zM916 254h1v1h-1zM164 255h1v2h-1zM218 255h1v3h-1zM356 255h1v1h-1zM364 255h1v2h-1zM917 255h1v1h-1zM357 256h1v2h-1zM918 256h1v1h-1zM165 257h1v2h-1zM362 257h2v1h-2zM919 257h1v1h-1zM217 258h1v3h-1zM358 258h1v1h-1zM360 258h2v1h-2zM920 258h1v1h-1zM166 259h1v2h-1zM359 259h1v1h-1zM921 259h1v2h-1zM167 261h1v3h-1zM216 261h1v3h-1zM922 261h1v1h-1zM923 262h1v1h-1zM924 263h1v2h-1zM168 264h1v2h-1zM215 264h1v3h-1zM925 265h1v1h-1zM169 266h1v2h-1zM926 266h1v2h-1zM214 267h1v2h-1zM170 268h1v2h-1zM927 268h1v1h-1zM213 269h1v3h-1zM928 269h1v1h-1zM171 270h1v3h-1zM929 270h2v1h-2zM931 271h2v1h-2zM212 272h1v2h-1zM933 272h11v1h-11zM172 273h1v2h-1zM944 273h1v1h-1zM211 274h1v3h-1zM945 274h1v1h-1zM173 275h1v3h-1zM946 275h1v1h-1zM947 276h1v1h-1zM210 277h1v2h-1zM948 277h1v1h-1zM174 278h1v2h-1zM949 278h1v2h-1zM209 279h1v3h-1zM175 280h1v2h-1zM950 280h1v1h-1zM951 281h1v2h-1zM176 282h1v1h-1zM208 282h1v2h-1zM177 283h1v2h-1zM952 283h1v2h-1zM207 284h1v3h-1zM178 285h1v1h-1zM953 285h1v3h-1zM179 286h1v1h-1zM180 287h1v2h-1zM206 287h1v3h-1zM954 288h1v2h-1zM181 289h1v1h-1zM182 290h1v2h-1zM205 290h1v3h-1zM955 290h1v2h-1zM183 292h1v1h-1zM956 292h1v2h-1zM184 293h1v2h-1zM204 293h1v3h-1zM957 294h1v2h-1zM185 295h1v2h-1zM203 296h1v2h-1zM958 296h1v2h-1zM186 297h1v2h-1zM202 298h1v2h-1zM959 298h1v2h-1zM187 299h1v2h-1zM201 300h1v1h-1zM960 300h1v2h-1zM188 301h1v1h-1zM200 301h1v2h-1zM189 302h2v1h-2zM961 302h1v3h-1zM191 303h1v1h-1zM198 303h2v1h-2zM192 304h2v1h-2zM196 304h2v1h-2zM194 305h2v1h-2zM962 305h1v2h-1zM963 307h1v2h-1zM964 309h1v2h-1zM965 311h1v2h-1zM966 313h1v2h-1zM967 315h1v2h-1zM968 317h1v2h-1zM969 319h1v2h-1zM970 321h1v2h-1zM971 323h1v2h-1zM972 325h2v1h-2zM974 326h2v1h-2zM976 327h1v1h-1zM977 328h2v1h-2zM991 328h1v1h-1zM979 329h1v1h-1zM989 329h2v1h-2zM992 329h2v1h-2zM980 330h2v1h-2zM988 330h1v1h-1zM994 330h2v1h-2zM982 331h6v1h-6zM996 331h2v1h-2zM1001 331h7v1h-7zM998 332h3v1h-3zM1008 332h1v2h-1zM1009 334h1v2h-1zM1010 336h1v2h-1zM1011 338h1v2h-1zM1061 339h3v1h-3zM1012 340h1v2h-1zM1059 340h2v1h-2zM1064 340h1v2h-1zM1058 341h1v1h-1zM1013 342h1v2h-1zM1057 342h1v2h-1zM1065 342h1v2h-1zM1014 344h1v2h-1zM1056 344h1v1h-1zM1066 344h1v2h-1zM1055 345h1v1h-1zM1015 346h1v3h-1zM1054 346h1v1h-1zM1067 346h1v3h-1zM1053 347h1v1h-1zM1052 348h1v1h-1zM1016 349h1v3h-1zM1051 349h1v2h-1zM1068 349h1v4h-1zM1050 351h1v2h-1zM1017 352h1v3h-1zM1049 353h1v2h-1zM1069 353h1v3h-1zM1018 355h1v3h-1zM1048 355h1v2h-1zM1070 356h1v4h-1zM1047 357h1v3h-1zM1019 358h1v3h-1zM1046 360h1v2h-1zM1071 360h1v3h-1zM1020 361h1v3h-1zM1045 362h1v3h-1zM1072 363h1v3h-1zM1021 364h1v3h-1zM1044 365h1v2h-1zM1073 366h1v2h-1zM1022 367h1v3h-1zM1043 367h1v3h-1zM1074 368h1v3h-1zM1023 370h1v3h-1zM1042 370h1v2h-1zM1075 371h1v3h-1zM1041 372h1v2h-1zM1024 373h1v2h-1zM1040 374h1v2h-1zM1076 374h1v2h-1zM1025 375h1v3h-1zM1039 376h1v1h-1zM1077 376h1v3h-1zM1038 377h1v1h-1zM1026 378h1v2h-1zM1037 378h1v2h-1zM1078 379h1v2h-1zM1027 380h1v2h-1zM1036 380h1v1h-1zM1035 381h1v1h-1zM1079 381h1v3h-1zM1028 382h1v1h-1zM1034 382h1v1h-1zM1029 383h1v1h-1zM1033 383h1v1h-1zM1030 384h1v1h-1zM1032 384h1v1h-1zM1080 384h1v4h-1zM1031 385h1v1h-1zM1081 388h1v4h-1zM1082 392h1v4h-1zM1083 396h1v3h-1zM1084 399h1v2h-1zM1085 401h1v2h-1zM1086 403h1v2h-1zM1087 405h1v2h-1zM1088 407h2v1h-2zM1090 408h2v1h-2zM1092 409h1v1h-1zM1093 410h2v1h-2zM1095 411h1v2h-1zM1096 413h1v2h-1zM1097 415h1v3h-1zM1098 418h1v2h-1zM1099 420h1v2h-1zM1100 422h1v1h-1zM1121 422h3v1h-3zM1101 423h1v2h-1zM1110 423h2v1h-2zM1119 423h2v1h-2zM1124 423h1v2h-1zM1108 424h2v1h-2zM1112 424h1v1h-1zM1118 424h1v1h-1zM1102 425h1v1h-1zM1105 425h3v1h-3zM1113 425h1v2h-1zM1117 425h1v2h-1zM1125 425h1v2h-1zM1103 426h2v1h-2zM1114 427h1v1h-1zM1116 427h1v1h-1zM1126 427h1v2h-1zM1115 428h1v1h-1zM1127 429h1v3h-1zM1171 431h2v1h-2zM1128 432h1v2h-1zM1170 432h1v1h-1zM1173 432h3v1h-3zM1169 433h1v1h-1zM1176 433h2v1h-2zM1129 434h1v3h-1zM1168 434h1v1h-1zM1178 434h2v1h-2zM1167 435h1v2h-1zM1180 435h1v2h-1zM1130 437h1v2h-1zM1166 437h1v2h-1zM1181 437h1v2h-1zM1131 439h1v2h-1zM1165 439h1v2h-1zM1182 439h1v2h-1zM1132 441h1v2h-1zM1164 441h1v2h-1zM1183 441h1v3h-1zM1133 443h1v2h-1zM1163 443h1v2h-1zM1184 444h1v3h-1zM1134 445h1v2h-1zM1162 445h1v2h-1zM1135 447h1v2h-1zM1161 447h1v2h-1zM1185 447h1v3h-1zM1136 449h1v3h-1zM1160 449h1v2h-1zM1186 450h1v3h-1zM1159 451h1v3h-1zM1137 452h1v4h-1zM1187 453h1v3h-1zM1158 454h1v2h-1zM1138 456h1v3h-1zM1157 456h1v3h-1zM1188 456h1v3h-1zM1139 459h1v2h-1zM1156 459h1v2h-1zM1189 459h1v4h-1zM1140 461h1v1h-1zM1155 461h1v2h-1zM1141 462h2v1h-2zM1143 463h1v1h-1zM1154 463h1v2h-1zM1190 463h1v3h-1zM1144 464h1v1h-1zM1145 465h1v2h-1zM1153 465h1v2h-1zM1191 466h1v3h-1zM1146 467h1v1h-1zM1152 467h1v2h-1zM1147 468h2v1h-2zM1149 469h3v1h-3zM1192 469h1v4h-1zM1193 473h1v4h-1zM1194 477h1v4h-1zM1195 481h1v4h-1zM1196 485h1v4h-1zM1197 489h1v4h-1zM1198 493h1v4h-1zM1199 497h1v3h-1zM1200 500h1v2h-1zM1201 502h1v2h-1zM1202 504h1v2h-1zM1203 506h1v2h-1zM1219 506h1v1h-1zM1218 507h1v1h-1zM1220 507h1v1h-1zM1204 508h1v2h-1zM1217 508h1v1h-1zM1221 508h1v1h-1zM1216 509h1v1h-1zM1222 509h1v1h-1zM1205 510h1v1h-1zM1214 510h2v1h-2zM1223 510h1v1h-1zM1206 511h1v2h-1zM1212 511h2v1h-2zM1224 511h1v1h-1zM1209 512h3v1h-3zM1225 512h1v2h-1zM1207 513h2v1h-2zM1226 514h1v1h-1zM1227 515h1v2h-1zM1228 517h1v3h-1zM1229 520h1v2h-1zM1230 522h1v3h-1zM1231 525h1v2h-1zM1232 527h1v2h-1zM1233 529h1v2h-1zM1234 531h1v2h-1zM1235 533h1v1h-1zM1236 534h1v1h-1zM1237 535h1v2h-1zM1266 535h2v1h-2zM1264 536h2v1h-2zM1238 537h1v1h-1zM1261 537h3v1h-3zM1239 538h1v1h-1zM1255 538h6v1h-6zM1240 539h1v2h-1zM1254 539h1v1h-1zM1253 540h1v1h-1zM1241 541h1v2h-1zM1252 541h1v1h-1zM1251 542h1v1h-1zM1242 543h1v2h-1zM1250 543h1v2h-1zM1243 545h1v1h-1zM1249 545h1v1h-1zM1244 546h1v1h-1zM1248 546h1v2h-1zM1245 547h2v1h-2zM1247 548h1v1h-1z" fill="#ffa500"/>
</g>
<rect x="3" y="541" width="1593" height="1" fill="#c0c0c0"/>
<rect x="3" y="126" width="1593" height="2" fill="#ff0000"/>
<rect x="3" y="204" width="1593" height="2" fill="#ff0000"/>
<rect x="2" y="202" width="6" height="6" fill="#ff0000"/>
<rect x="4" y="204" width="2" height="2" fill="#ffffff"/>
<rect x="1589" y="202" width="6" height="6" fill="#ff0000"/>
<rect x="1591" y="204" width="2" height="2" fill="#ffffff"/>
<rect x="3" y="290" width="1593" height="2" fill="#ff0000"/>
<rect x="2" y="288" width="6" height="6" fill="#ff0000"/>
<rect x="4" y="290" width="2" height="2" fill="#ffffff"/>
<rect x="1589" y="288" width="6" height="6" fill="#ff0000"/>
<rect x="1591" y="290" width="2" height="2" fill="#ffffff"/>
<rect x="3" y="389" width="1593" height="2" fill="#ff0000"/>
<rect x="2" y="387" width="6" height="6" fill="#ff0000"/>
<rect x="4" y="389" width="2" height="2" fill="#ffffff"/>
<rect x="1589" y="387" width="6" height="6" fill="#ff0000"/>
<rect x="1591" y="389" width="2" height="2" fill="#ffffff"/>
<rect x="3" y="494" width="1593" height="2" fill="#00ff00"/>
<rect x="2" y="492" width="6" height="6" fill="#00ff00"/>
<rect x="4" y="494" width="2" height="2" fill="#ffffff"/>
<rect x="1589" y="492" width="6" height="6" fill="#00ff00"/>
<rect x="1591" y="494" width="2" height="2" fill="#ffffff"/>
<rect x="3" y="570" width="1593" height="2" fill="#0000ff"/>
<rect x="2" y="568" width="6" height="6" fill="#0000ff"/>
<rect x="4" y="570" width="2" height="2" fill="#ffffff"/>
<rect x="1589" y="568" width="6" height="6" fill="#0000ff"/>
<rect x="1591" y="570" width="2" height="2" fill="#ffffff"/>
<rect x="2" y="202" width="1" height="6" fill="#ff0000"/>
<rect x="2" y="288" width="1" height="6" fill="#ff0000"/>
<rect x="2" y="387" width="1" height="6" fill="#ff0000"/>
<rect x="2" y="492" width="1" height="6" fill="#00ff00"/>
<rect x="2" y="568" width="1" height="6" fill="#0000ff"/>
<path d="M1271 27 L1280 27 L1275.5 32 Z" fill="#c0c0c0"/>
<path d="M6 33 L13 33 L9.5 37 Z" fill="#000"/>
<text x="18.5" y="38" font-size="10.0" fill="#000" textLength="65" lengthAdjust="spacingAndGlyphs" stroke="#000" stroke-width="0.2">USDCNH,Daily</text>
<text x="90.4" y="38" font-size="10.0" fill="#000" textLength="140" lengthAdjust="spacingAndGlyphs" stroke="#000" stroke-width="0.2">6.56452 6.56955 6.56233 6.56718</text>
<rect x="1596" y="51" width="2" height="1" fill="#000"/>
<text x="1601.2" y="55" font-size="10.0" fill="#000" textLength="32.4" lengthAdjust="spacingAndGlyphs" stroke="#000" stroke-width="0.2">7.19825</text>
<rect x="1596" y="84" width="2" height="1" fill="#000"/>
<text x="1601.2" y="88" font-size="10.0" fill="#000" textLength="32.4" lengthAdjust="spacingAndGlyphs" stroke="#000" stroke-width="0.2">7.15575</text>
<rect x="1596" y="117" width="2" height="1" fill="#000"/>
<text x="1601.2" y="121" font-size="10.0" fill="#000" textLength="32.4" lengthAdjust="spacingAndGlyphs" stroke="#000" stroke-width="0.2">7.11325</text>
<rect x="1596" y="150" width="2" height="1" fill="#000"/>
<text x="1601.2" y="154" font-size="10.0" fill="#000" textLength="32.4" lengthAdjust="spacingAndGlyphs" stroke="#000" stroke-width="0.2">7.07075</text>
<rect x="1596" y="183" width="2" height="1" fill="#000"/>
<text x="1601.2" y="187" font-size="10.0" fill="#000" textLength="32.4" lengthAdjust="spacingAndGlyphs" stroke="#000" stroke-width="0.2">7.02825</text>
<rect x="1596" y="216" width="2" height="1" fill="#000"/>
<text x="1601.2" y="220" font-size="10.0" fill="#000" textLength="32.4" lengthAdjust="spacingAndGlyphs" stroke="#000" stroke-width="0.2">6.98575</text>
<rect x="1596" y="249" width="2" height="1" fill="#000"/>
<text x="1601.2" y="253" font-size="10.0" fill="#000" textLength="32.4" lengthAdjust="spacingAndGlyphs" stroke="#000" stroke-width="0.2">6.94325</text>
<rect x="1596" y="282" width="2" height="1" fill="#000"/>
<text x="1601.2" y="286" font-size="10.0" fill="#000" textLength="32.4" lengthAdjust="spacingAndGlyphs" stroke="#000" stroke-width="0.2">6.90075</text>
<rect x="1596" y="315" width="2" height="1" fill="#000"/>
<text x="1601.2" y="319" font-size="10.0" fill="#000" textLength="32.4" lengthAdjust="spacingAndGlyphs" stroke="#000" stroke-width="0.2">6.85825</text>
<rect x="1596" y="348" width="2" height="1" fill="#000"/>
<text x="1601.2" y="352" font-size="10.0" fill="#000" textLength="32.4" lengthAdjust="spacingAndGlyphs" stroke="#000" stroke-width="0.2">6.81575</text>
<rect x="1596" y="381" width="2" height="1" fill="#000"/>
<text x="1601.2" y="385" font-size="10.0" fill="#000" textLength="32.4" lengthAdjust="spacingAndGlyphs" stroke="#000" stroke-width="0.2">6.77325</text>
<rect x="1596" y="414" width="2" height="1" fill="#000"/>
<text x="1601.2" y="418" font-size="10.0" fill="#000" textLength="32.4" lengthAdjust="spacingAndGlyphs" stroke="#000" stroke-width="0.2">6.73075</text>
<rect x="1596" y="447" width="2" height="1" fill="#000"/>
<text x="1601.2" y="451" font-size="10.0" fill="#000" textLength="32.4" lengthAdjust="spacingAndGlyphs" stroke="#000" stroke-width="0.2">6.68825</text>
<rect x="1596" y="480" width="2" height="1" fill="#000"/>
<text x="1601.2" y="484" font-size="10.0" fill="#000" textLength="32.4" lengthAdjust="spacingAndGlyphs" stroke="#000" stroke-width="0.2">6.64575</text>
<rect x="1596" y="513" width="2" height="1" fill="#000"/>
<text x="1601.2" y="517" font-size="10.0" fill="#000" textLength="32.4" lengthAdjust="spacingAndGlyphs" stroke="#000" stroke-width="0.2">6.60325</text>
<rect x="1596" y="546" width="2" height="1" fill="#000"/>
<text x="1601.2" y="550" font-size="10.0" fill="#000" textLength="32.4" lengthAdjust="spacingAndGlyphs" stroke="#000" stroke-width="0.2">6.56075</text>
<rect x="1596" y="579" width="2" height="1" fill="#000"/>
<text x="1601.2" y="583" font-size="10.0" fill="#000" textLength="32.4" lengthAdjust="spacingAndGlyphs" stroke="#000" stroke-width="0.2">6.51825</text>
<rect x="1597" y="121" width="40" height="11" fill="#ff0000"/>
<text x="1601.2" y="130" font-size="10.0" fill="#fff" textLength="32.4" lengthAdjust="spacingAndGlyphs" stroke="#fff" stroke-width="0.2">7.10011</text>
<rect x="1597" y="199" width="40" height="11" fill="#ff0000"/>
<text x="1601.2" y="208" font-size="10.0" fill="#fff" textLength="32.4" lengthAdjust="spacingAndGlyphs" stroke="#fff" stroke-width="0.2">7.00029</text>
<rect x="1597" y="285" width="40" height="11" fill="#ff0000"/>
<text x="1601.2" y="294" font-size="10.0" fill="#fff" textLength="32.4" lengthAdjust="spacingAndGlyphs" stroke="#fff" stroke-width="0.2">6.88897</text>
<rect x="1597" y="384" width="40" height="11" fill="#ff0000"/>
<text x="1601.2" y="393" font-size="10.0" fill="#fff" textLength="32.4" lengthAdjust="spacingAndGlyphs" stroke="#fff" stroke-width="0.2">6.76157</text>
<rect x="1597" y="489" width="40" height="11" fill="#00ff00"/>
<text x="1601.2" y="498" font-size="10.0" fill="#fff" textLength="32.4" lengthAdjust="spacingAndGlyphs" stroke="#fff" stroke-width="0.2">6.62646</text>
<rect x="1597" y="536" width="40" height="11" fill="#000000"/>
<text x="1601.2" y="545" font-size="10.0" fill="#fff" textLength="32.4" lengthAdjust="spacingAndGlyphs" stroke="#fff" stroke-width="0.2">6.56718</text>
<rect x="1597" y="565" width="40" height="11" fill="#0000ff"/>
<text x="1601.2" y="574" font-size="10.0" fill="#fff" textLength="32.4" lengthAdjust="spacingAndGlyphs" stroke="#fff" stroke-width="0.2">6.52866</text>
<g clip-path="url(#cr)">
<line x1="4" y1="615.5" x2="1595" y2="615.5" stroke="#b0b0b0" stroke-width="1" stroke-dasharray="3,3" shape-rendering="crispEdges"/>
<line x1="4" y1="655.5" x2="1595" y2="655.5" stroke="#b0b0b0" stroke-width="1" stroke-dasharray="3,3" shape-rendering="crispEdges"/>
<path d="M399 613h1v1h-1zM398 614h1v2h-1zM400 614h1v1h-1zM401 615h1v1h-1zM397 616h1v1h-1zM402 616h1v1h-1zM405 616h3v1h-3zM635 616h1v2h-1zM396 617h1v2h-1zM403 617h2v1h-2zM408 617h2v1h-2zM243 618h1v2h-1zM410 618h2v1h-2zM634 618h1v2h-1zM636 618h1v3h-1zM242 619h1v1h-1zM303 619h1v1h-1zM395 619h1v1h-1zM411 619h1v1h-1zM231 620h5v1h-5zM241 620h1v1h-1zM244 620h1v2h-1zM302 620h1v2h-1zM304 620h2v1h-2zM394 620h1v2h-1zM412 620h1v2h-1zM633 620h1v2h-1zM31 621h1v2h-1zM219 621h1v2h-1zM230 621h1v2h-1zM236 621h2v1h-2zM240 621h1v1h-1zM306 621h3v1h-3zM375 621h1v3h-1zM419 621h1v1h-1zM637 621h1v2h-1zM220 622h1v1h-1zM238 622h2v1h-2zM245 622h1v2h-1zM301 622h1v2h-1zM309 622h3v1h-3zM376 622h1v1h-1zM393 622h1v2h-1zM413 622h1v2h-1zM418 622h1v2h-1zM420 622h1v2h-1zM632 622h1v2h-1zM30 623h1v2h-1zM32 623h1v3h-1zM218 623h1v3h-1zM221 623h1v1h-1zM229 623h1v2h-1zM312 623h2v1h-2zM377 623h2v1h-2zM547 623h6v1h-6zM638 623h1v3h-1zM222 624h1v1h-1zM246 624h1v2h-1zM261 624h3v1h-3zM300 624h1v2h-1zM314 624h2v1h-2zM374 624h1v4h-1zM379 624h5v1h-5zM392 624h1v2h-1zM414 624h1v2h-1zM417 624h1v1h-1zM421 624h1v2h-1zM547 624h1v1h-1zM553 624h3v1h-3zM619 624h2v1h-2zM631 624h1v2h-1zM29 625h1v3h-1zM223 625h1v1h-1zM228 625h1v2h-1zM259 625h2v1h-2zM264 625h1v2h-1zM316 625h1v1h-1zM322 625h2v1h-2zM384 625h1v2h-1zM416 625h1v2h-1zM546 625h1v4h-1zM556 625h1v1h-1zM618 625h1v1h-1zM621 625h10v1h-10zM642 625h2v1h-2zM33 626h1v2h-1zM217 626h1v4h-1zM224 626h2v1h-2zM247 626h1v2h-1zM258 626h1v2h-1zM297 626h3v1h-3zM317 626h2v1h-2zM320 626h2v1h-2zM324 626h1v2h-1zM391 626h1v1h-1zM415 626h1v2h-1zM422 626h1v2h-1zM435 626h1v1h-1zM557 626h1v1h-1zM562 626h2v1h-2zM595 626h2v1h-2zM617 626h1v2h-1zM639 626h3v1h-3zM644 626h1v1h-1zM226 627h2v1h-2zM265 627h1v1h-1zM295 627h2v1h-2zM319 627h1v1h-1zM385 627h1v2h-1zM390 627h1v2h-1zM426 627h2v1h-2zM433 627h2v1h-2zM436 627h1v2h-1zM558 627h1v1h-1zM560 627h2v1h-2zM564 627h1v2h-1zM593 627h2v1h-2zM597 627h3v1h-3zM639 627h1v1h-1zM645 627h2v1h-2zM28 628h1v2h-1zM34 628h1v3h-1zM248 628h1v1h-1zM257 628h1v1h-1zM266 628h1v2h-1zM294 628h1v1h-1zM325 628h1v2h-1zM373 628h1v5h-1zM423 628h3v1h-3zM428 628h2v1h-2zM432 628h1v1h-1zM443 628h1v1h-1zM451 628h1v1h-1zM511 628h1v1h-1zM559 628h1v1h-1zM592 628h1v1h-1zM600 628h2v1h-2zM616 628h1v1h-1zM647 628h1v1h-1zM249 629h1v2h-1zM256 629h1v2h-1zM283 629h5v1h-5zM293 629h1v2h-1zM386 629h1v2h-1zM389 629h1v1h-1zM423 629h1v1h-1zM430 629h2v1h-2zM437 629h1v1h-1zM442 629h1v1h-1zM444 629h1v1h-1zM450 629h1v1h-1zM452 629h2v1h-2zM510 629h1v1h-1zM512 629h1v1h-1zM545 629h1v3h-1zM565 629h1v2h-1zM590 629h2v1h-2zM602 629h2v1h-2zM615 629h1v1h-1zM648 629h1v1h-1zM27 630h1v2h-1zM216 630h1v3h-1zM267 630h1v1h-1zM281 630h2v1h-2zM288 630h1v1h-1zM326 630h1v2h-1zM388 630h1v2h-1zM438 630h1v2h-1zM441 630h1v1h-1zM445 630h1v1h-1zM449 630h1v1h-1zM454 630h6v1h-6zM509 630h1v1h-1zM513 630h1v1h-1zM523 630h2v1h-2zM588 630h2v1h-2zM604 630h1v1h-1zM614 630h1v2h-1zM649 630h1v2h-1zM35 631h1v2h-1zM250 631h1v1h-1zM253 631h3v1h-3zM268 631h1v1h-1zM280 631h1v1h-1zM289 631h2v1h-2zM292 631h1v1h-1zM387 631h1v2h-1zM440 631h1v1h-1zM446 631h1v1h-1zM448 631h1v1h-1zM460 631h1v2h-1zM508 631h1v1h-1zM514 631h1v1h-1zM521 631h2v1h-2zM525 631h7v1h-7zM566 631h1v2h-1zM587 631h1v1h-1zM605 631h1v1h-1zM26 632h1v1h-1zM207 632h1v2h-1zM251 632h2v1h-2zM269 632h1v2h-1zM278 632h2v1h-2zM291 632h1v1h-1zM327 632h1v1h-1zM439 632h1v1h-1zM447 632h1v1h-1zM494 632h3v1h-3zM505 632h3v1h-3zM515 632h2v1h-2zM520 632h1v1h-1zM532 632h1v1h-1zM544 632h1v4h-1zM578 632h2v1h-2zM585 632h2v1h-2zM606 632h1v1h-1zM613 632h1v1h-1zM650 632h1v1h-1zM25 633h1v2h-1zM36 633h2v1h-2zM208 633h2v1h-2zM215 633h1v2h-1zM276 633h2v1h-2zM328 633h1v1h-1zM372 633h1v4h-1zM461 633h1v2h-1zM492 633h2v1h-2zM497 633h8v1h-8zM517 633h3v1h-3zM533 633h2v1h-2zM567 633h1v2h-1zM576 633h2v1h-2zM580 633h2v1h-2zM584 633h1v1h-1zM607 633h1v1h-1zM612 633h1v2h-1zM651 633h1v1h-1zM1163 633h1v1h-1zM38 634h2v1h-2zM51 634h1v1h-1zM206 634h1v2h-1zM210 634h5v1h-5zM270 634h1v1h-1zM273 634h3v1h-3zM329 634h1v2h-1zM491 634h1v1h-1zM535 634h2v1h-2zM575 634h1v1h-1zM582 634h2v1h-2zM608 634h2v1h-2zM652 634h1v2h-1zM835 634h1v2h-1zM1047 634h6v1h-6zM1162 634h1v1h-1zM1164 634h2v1h-2zM24 635h1v1h-1zM40 635h1v1h-1zM50 635h1v2h-1zM52 635h1v1h-1zM59 635h1v2h-1zM271 635h2v1h-2zM462 635h1v2h-1zM467 635h1v1h-1zM490 635h1v1h-1zM537 635h3v1h-3zM568 635h1v1h-1zM573 635h2v1h-2zM610 635h2v1h-2zM738 635h6v1h-6zM836 635h1v1h-1zM1046 635h1v1h-1zM1053 635h3v1h-3zM1161 635h1v2h-1zM1166 635h2v1h-2zM15 636h1v1h-1zM23 636h1v1h-1zM41 636h2v1h-2zM53 636h1v1h-1zM57 636h2v1h-2zM205 636h1v2h-1zM330 636h1v1h-1zM465 636h2v1h-2zM468 636h1v1h-1zM489 636h1v2h-1zM540 636h2v1h-2zM543 636h1v2h-1zM569 636h2v1h-2zM572 636h1v1h-1zM653 636h1v1h-1zM736 636h2v1h-2zM744 636h2v1h-2zM834 636h1v2h-1zM837 636h2v1h-2zM1045 636h1v1h-1zM1056 636h1v1h-1zM1063 636h1v2h-1zM1168 636h1v1h-1zM14 637h1v2h-1zM16 637h1v1h-1zM21 637h2v1h-2zM43 637h1v1h-1zM49 637h1v1h-1zM54 637h1v1h-1zM56 637h1v1h-1zM60 637h1v4h-1zM331 637h1v1h-1zM367 637h1v1h-1zM371 637h1v3h-1zM463 637h2v1h-2zM469 637h2v1h-2zM482 637h2v1h-2zM542 637h1v1h-1zM571 637h1v1h-1zM654 637h1v2h-1zM735 637h1v1h-1zM746 637h2v1h-2zM839 637h1v1h-1zM855 637h1v2h-1zM1044 637h1v1h-1zM1057 637h1v2h-1zM1062 637h1v1h-1zM1160 637h1v1h-1zM1169 637h1v2h-1zM17 638h2v1h-2zM20 638h1v1h-1zM44 638h1v1h-1zM48 638h1v2h-1zM55 638h1v1h-1zM97 638h4v1h-4zM204 638h1v2h-1zM332 638h2v1h-2zM366 638h1v1h-1zM368 638h2v1h-2zM463 638h1v1h-1zM471 638h6v1h-6zM480 638h2v1h-2zM484 638h2v1h-2zM488 638h1v1h-1zM657 638h4v1h-4zM733 638h2v1h-2zM748 638h1v1h-1zM833 638h1v3h-1zM840 638h1v1h-1zM854 638h1v1h-1zM1043 638h1v2h-1zM1061 638h1v1h-1zM1064 638h1v2h-1zM1157 638h3v1h-3zM3 639h1v1h-1zM13 639h1v2h-1zM19 639h1v1h-1zM45 639h2v1h-2zM67 639h1v2h-1zM94 639h3v1h-3zM101 639h4v1h-4zM334 639h2v1h-2zM365 639h1v2h-1zM370 639h1v1h-1zM477 639h3v1h-3zM486 639h2v1h-2zM655 639h2v1h-2zM661 639h3v1h-3zM701 639h4v1h-4zM709 639h3v1h-3zM732 639h1v1h-1zM749 639h1v2h-1zM841 639h1v1h-1zM853 639h1v2h-1zM856 639h1v2h-1zM1058 639h1v1h-1zM1060 639h1v1h-1zM1155 639h2v1h-2zM1170 639h1v1h-1zM4 640h2v1h-2zM47 640h1v1h-1zM68 640h2v1h-2zM85 640h4v1h-4zM92 640h2v1h-2zM105 640h3v1h-3zM203 640h1v2h-1zM336 640h1v2h-1zM664 640h1v2h-1zM693 640h8v1h-8zM705 640h4v1h-4zM712 640h1v1h-1zM731 640h1v1h-1zM842 640h1v1h-1zM1042 640h1v2h-1zM1059 640h1v1h-1zM1065 640h1v2h-1zM1107 640h2v1h-2zM1155 640h1v1h-1zM1171 640h6v1h-6zM6 641h2v1h-2zM12 641h1v2h-1zM61 641h1v3h-1zM66 641h1v2h-1zM70 641h2v1h-2zM82 641h3v1h-3zM89 641h3v1h-3zM108 641h1v1h-1zM202 641h1v1h-1zM364 641h1v1h-1zM690 641h3v1h-3zM713 641h2v1h-2zM717 641h3v1h-3zM730 641h1v2h-1zM750 641h1v1h-1zM757 641h4v1h-4zM765 641h3v1h-3zM832 641h1v2h-1zM843 641h2v1h-2zM852 641h1v1h-1zM857 641h1v2h-1zM1107 641h1v1h-1zM1109 641h3v1h-3zM1154 641h1v2h-1zM1177 641h3v1h-3zM8 642h2v1h-2zM72 642h1v1h-1zM80 642h2v1h-2zM109 642h2v1h-2zM113 642h4v1h-4zM200 642h2v1h-2zM337 642h1v1h-1zM363 642h1v1h-1zM665 642h1v2h-1zM688 642h2v1h-2zM715 642h2v1h-2zM720 642h1v1h-1zM751 642h6v1h-6zM761 642h4v1h-4zM767 642h1v1h-1zM845 642h7v1h-7zM883 642h2v1h-2zM1041 642h1v3h-1zM1066 642h1v2h-1zM1106 642h1v4h-1zM1112 642h1v1h-1zM1180 642h2v1h-2zM1251 642h5v1h-5zM10 643h2v1h-2zM65 643h1v3h-1zM73 643h2v1h-2zM77 643h3v1h-3zM111 643h2v1h-2zM117 643h3v1h-3zM199 643h1v3h-1zM338 643h1v2h-1zM362 643h1v1h-1zM687 643h1v1h-1zM721 643h1v2h-1zM729 643h1v2h-1zM768 643h1v4h-1zM827 643h2v1h-2zM831 643h1v2h-1zM858 643h1v2h-1zM863 643h1v1h-1zM882 643h1v2h-1zM885 643h4v1h-4zM1035 643h1v2h-1zM1113 643h1v2h-1zM1153 643h1v2h-1zM1182 643h2v1h-2zM1251 643h1v1h-1zM1256 643h2v1h-2zM62 644h1v4h-1zM75 644h2v1h-2zM120 644h1v1h-1zM361 644h1v2h-1zM666 644h1v2h-1zM679 644h1v1h-1zM686 644h1v1h-1zM827 644h1v1h-1zM829 644h2v1h-2zM861 644h2v1h-2zM864 644h2v1h-2zM889 644h3v1h-3zM1036 644h1v1h-1zM1067 644h1v2h-1zM1118 644h2v1h-2zM1184 644h1v2h-1zM1250 644h1v2h-1zM1258 644h2v1h-2zM121 645h1v1h-1zM147 645h1v1h-1zM339 645h1v1h-1zM678 645h1v1h-1zM680 645h1v1h-1zM685 645h1v2h-1zM722 645h1v1h-1zM728 645h1v2h-1zM826 645h1v3h-1zM859 645h2v1h-2zM866 645h3v1h-3zM881 645h1v2h-1zM892 645h1v1h-1zM903 645h2v1h-2zM1034 645h1v3h-1zM1037 645h1v2h-1zM1040 645h1v2h-1zM1114 645h1v1h-1zM1116 645h2v1h-2zM1120 645h1v1h-1zM1152 645h1v2h-1zM1211 645h1v1h-1zM1260 645h2v1h-2zM1265 645h3v1h-3zM64 646h1v2h-1zM122 646h1v1h-1zM145 646h2v1h-2zM148 646h1v2h-1zM198 646h1v4h-1zM340 646h1v1h-1zM351 646h2v1h-2zM360 646h1v1h-1zM667 646h1v2h-1zM677 646h1v2h-1zM681 646h1v1h-1zM723 646h2v1h-2zM859 646h1v1h-1zM869 646h3v1h-3zM893 646h1v2h-1zM902 646h1v1h-1zM905 646h7v1h-7zM933 646h3v1h-3zM1068 646h1v2h-1zM1105 646h1v3h-1zM1115 646h1v1h-1zM1121 646h1v1h-1zM1185 646h1v1h-1zM1203 646h1v2h-1zM1210 646h1v1h-1zM1212 646h1v1h-1zM1218 646h3v1h-3zM1249 646h1v2h-1zM1262 646h3v1h-3zM123 647h1v1h-1zM144 647h1v1h-1zM341 647h1v2h-1zM350 647h1v2h-1zM353 647h7v1h-7zM668 647h4v1h-4zM682 647h1v1h-1zM684 647h1v1h-1zM725 647h3v1h-3zM769 647h1v3h-1zM871 647h1v1h-1zM880 647h1v2h-1zM901 647h1v2h-1zM912 647h1v1h-1zM931 647h2v1h-2zM936 647h1v1h-1zM1038 647h2v1h-2zM1075 647h2v1h-2zM1095 647h1v1h-1zM1122 647h1v1h-1zM1125 647h3v1h-3zM1143 647h9v1h-9zM1186 647h1v2h-1zM1204 647h1v1h-1zM1209 647h1v1h-1zM1213 647h2v1h-2zM1216 647h2v1h-2zM1221 647h3v1h-3zM1239 647h1v1h-1zM63 648h1v2h-1zM124 648h1v1h-1zM139 648h5v1h-5zM149 648h1v2h-1zM672 648h2v1h-2zM676 648h1v1h-1zM683 648h1v1h-1zM825 648h1v2h-1zM872 648h1v2h-1zM894 648h1v1h-1zM913 648h2v1h-2zM930 648h1v2h-1zM937 648h2v1h-2zM941 648h3v1h-3zM991 648h1v2h-1zM1033 648h1v2h-1zM1039 648h1v1h-1zM1069 648h1v1h-1zM1074 648h1v1h-1zM1077 648h3v1h-3zM1093 648h2v1h-2zM1096 648h1v2h-1zM1123 648h2v1h-2zM1128 648h1v1h-1zM1142 648h1v2h-1zM1202 648h1v3h-1zM1205 648h2v1h-2zM1208 648h1v1h-1zM1215 648h1v1h-1zM1224 648h1v1h-1zM1238 648h1v2h-1zM1240 648h1v1h-1zM1248 648h1v2h-1zM125 649h2v1h-2zM138 649h1v1h-1zM342 649h1v1h-1zM349 649h1v2h-1zM674 649h2v1h-2zM799 649h1v1h-1zM879 649h1v1h-1zM895 649h2v1h-2zM900 649h1v1h-1zM915 649h1v1h-1zM939 649h2v1h-2zM944 649h1v2h-1zM992 649h1v1h-1zM1003 649h1v1h-1zM1070 649h1v2h-1zM1073 649h1v1h-1zM1080 649h1v1h-1zM1087 649h2v1h-2zM1092 649h1v1h-1zM1104 649h1v4h-1zM1129 649h2v1h-2zM1187 649h1v1h-1zM1207 649h1v1h-1zM1225 649h1v2h-1zM1241 649h2v1h-2zM127 650h1v1h-1zM137 650h1v1h-1zM150 650h1v2h-1zM197 650h1v5h-1zM343 650h1v1h-1zM770 650h1v4h-1zM798 650h1v1h-1zM800 650h1v2h-1zM824 650h1v3h-1zM873 650h1v3h-1zM878 650h1v2h-1zM897 650h3v1h-3zM916 650h1v1h-1zM929 650h1v1h-1zM990 650h1v2h-1zM993 650h1v1h-1zM1002 650h1v1h-1zM1004 650h2v1h-2zM1032 650h1v3h-1zM1072 650h1v1h-1zM1081 650h1v2h-1zM1086 650h1v1h-1zM1089 650h3v1h-3zM1097 650h1v2h-1zM1131 650h1v1h-1zM1141 650h1v2h-1zM1188 650h1v1h-1zM1237 650h1v1h-1zM1243 650h2v1h-2zM1247 650h1v2h-1zM128 651h2v1h-2zM136 651h1v1h-1zM344 651h1v1h-1zM348 651h1v2h-1zM797 651h1v2h-1zM810 651h3v1h-3zM917 651h1v1h-1zM928 651h1v2h-1zM945 651h1v1h-1zM994 651h1v1h-1zM1001 651h1v1h-1zM1006 651h2v1h-2zM1071 651h1v1h-1zM1085 651h1v1h-1zM1132 651h2v1h-2zM1189 651h1v2h-1zM1201 651h1v2h-1zM1226 651h1v1h-1zM1236 651h1v2h-1zM1245 651h2v1h-2zM130 652h6v1h-6zM151 652h5v1h-5zM345 652h2v1h-2zM790 652h2v1h-2zM801 652h1v1h-1zM808 652h2v1h-2zM813 652h7v1h-7zM877 652h1v2h-1zM918 652h1v1h-1zM921 652h4v1h-4zM946 652h1v2h-1zM989 652h1v3h-1zM995 652h2v1h-2zM1000 652h1v1h-1zM1008 652h1v2h-1zM1082 652h1v1h-1zM1084 652h1v1h-1zM1098 652h1v2h-1zM1134 652h2v1h-2zM1140 652h1v2h-1zM1227 652h1v1h-1zM156 653h1v1h-1zM347 653h1v1h-1zM788 653h2v1h-2zM792 653h2v1h-2zM796 653h1v1h-1zM802 653h1v2h-1zM806 653h2v1h-2zM820 653h2v1h-2zM823 653h1v2h-1zM874 653h1v2h-1zM919 653h2v1h-2zM925 653h3v1h-3zM997 653h3v1h-3zM1031 653h1v2h-1zM1083 653h1v1h-1zM1103 653h1v2h-1zM1136 653h2v1h-2zM1190 653h1v1h-1zM1200 653h1v3h-1zM1228 653h2v1h-2zM1233 653h3v1h-3zM157 654h1v1h-1zM771 654h1v2h-1zM787 654h1v1h-1zM794 654h2v1h-2zM804 654h2v1h-2zM822 654h1v1h-1zM876 654h1v2h-1zM947 654h5v1h-5zM1009 654h1v1h-1zM1099 654h1v2h-1zM1101 654h2v1h-2zM1138 654h2v1h-2zM1191 654h1v1h-1zM1230 654h3v1h-3zM158 655h1v1h-1zM196 655h1v4h-1zM772 655h1v1h-1zM786 655h1v1h-1zM803 655h1v1h-1zM875 655h1v2h-1zM952 655h1v1h-1zM975 655h2v1h-2zM988 655h1v2h-1zM1010 655h1v2h-1zM1029 655h2v1h-2zM1100 655h1v1h-1zM1192 655h2v1h-2zM159 656h1v1h-1zM773 656h3v1h-3zM785 656h1v2h-1zM953 656h1v1h-1zM974 656h1v2h-1zM977 656h3v1h-3zM1028 656h1v1h-1zM1194 656h3v1h-3zM1199 656h1v2h-1zM160 657h1v1h-1zM776 657h2v1h-2zM954 657h1v1h-1zM980 657h2v1h-2zM987 657h1v2h-1zM1011 657h1v1h-1zM1026 657h2v1h-2zM1197 657h2v1h-2zM161 658h2v1h-2zM778 658h3v1h-3zM784 658h1v1h-1zM955 658h5v1h-5zM973 658h1v2h-1zM982 658h5v1h-5zM1012 658h1v1h-1zM1024 658h2v1h-2zM163 659h2v1h-2zM195 659h1v3h-1zM781 659h3v1h-3zM960 659h2v1h-2zM1013 659h1v1h-1zM1023 659h1v1h-1zM165 660h3v1h-3zM179 660h1v1h-1zM962 660h2v1h-2zM972 660h1v2h-1zM1014 660h1v1h-1zM1022 660h1v1h-1zM168 661h1v1h-1zM178 661h1v1h-1zM180 661h1v1h-1zM964 661h1v1h-1zM1015 661h1v1h-1zM1021 661h1v2h-1zM169 662h2v1h-2zM177 662h1v1h-1zM181 662h2v1h-2zM193 662h2v1h-2zM965 662h2v1h-2zM969 662h3v1h-3zM1016 662h1v1h-1zM171 663h2v1h-2zM176 663h1v1h-1zM183 663h2v1h-2zM192 663h1v1h-1zM967 663h2v1h-2zM1017 663h2v1h-2zM1020 663h1v1h-1zM173 664h3v1h-3zM185 664h7v1h-7zM1019 664h1v1h-1z" fill="#1e90ff" shape-rendering="crispEdges"/>
</g>
<text x="7.3" y="597" font-size="10.0" fill="#000" textLength="67.2" lengthAdjust="spacingAndGlyphs" stroke="#000" stroke-width="0.2">RSI(14) 39.3862</text>
<text x="1598.6" y="595" font-size="10.0" fill="#000" textLength="15.18" lengthAdjust="spacingAndGlyphs" stroke="#000" stroke-width="0.2">100</text>
<text x="1597.8" y="619" font-size="10.0" fill="#000" textLength="10.12" lengthAdjust="spacingAndGlyphs" stroke="#000" stroke-width="0.2">70</text>
<text x="1597.8" y="659" font-size="10.0" fill="#000" textLength="10.12" lengthAdjust="spacingAndGlyphs" stroke="#000" stroke-width="0.2">30</text>
<text x="1598.4" y="683" font-size="10.0" fill="#000" textLength="5.06" lengthAdjust="spacingAndGlyphs" stroke="#000" stroke-width="0.2">0</text>
<rect x="1596" y="586" width="2" height="1" fill="#000"/>
<rect x="1596" y="685" width="2" height="1" fill="#000"/>
<rect x="1595" y="615" width="1" height="1" fill="#b0b0b0"/>
<rect x="1595" y="655" width="1" height="1" fill="#b0b0b0"/>
<g clip-path="url(#cd)" shape-rendering="crispEdges">
<rect x="3" y="739" width="1" height="7" fill="#c0c0c0"/>
<rect x="7" y="739" width="1" height="7" fill="#c0c0c0"/>
<rect x="11" y="739" width="1" height="8" fill="#c0c0c0"/>
<rect x="15" y="739" width="1" height="7" fill="#c0c0c0"/>
<rect x="19" y="739" width="1" height="7" fill="#c0c0c0"/>
<rect x="23" y="739" width="1" height="6" fill="#c0c0c0"/>
<rect x="27" y="739" width="1" height="4" fill="#c0c0c0"/>
<rect x="31" y="738" width="1" height="2" fill="#c0c0c0"/>
<rect x="35" y="737" width="1" height="3" fill="#c0c0c0"/>
<rect x="39" y="737" width="1" height="3" fill="#c0c0c0"/>
<rect x="43" y="738" width="1" height="2" fill="#c0c0c0"/>
<rect x="47" y="739" width="1" height="1" fill="#c0c0c0"/>
<rect x="51" y="739" width="1" height="1" fill="#c0c0c0"/>
<rect x="55" y="739" width="1" height="2" fill="#c0c0c0"/>
<rect x="59" y="739" width="1" height="1" fill="#c0c0c0"/>
<rect x="63" y="739" width="1" height="7" fill="#c0c0c0"/>
<rect x="67" y="739" width="1" height="8" fill="#c0c0c0"/>
<rect x="71" y="739" width="1" height="9" fill="#c0c0c0"/>
<rect x="75" y="739" width="1" height="11" fill="#c0c0c0"/>
<rect x="79" y="739" width="1" height="13" fill="#c0c0c0"/>
<rect x="83" y="739" width="1" height="13" fill="#c0c0c0"/>
<rect x="87" y="739" width="1" height="13" fill="#c0c0c0"/>
<rect x="91" y="739" width="1" height="13" fill="#c0c0c0"/>
<rect x="95" y="739" width="1" height="13" fill="#c0c0c0"/>
<rect x="99" y="739" width="1" height="12" fill="#c0c0c0"/>
<rect x="103" y="739" width="1" height="11" fill="#c0c0c0"/>
<rect x="107" y="739" width="1" height="11" fill="#c0c0c0"/>
<rect x="111" y="739" width="1" height="12" fill="#c0c0c0"/>
<rect x="115" y="739" width="1" height="12" fill="#c0c0c0"/>
<rect x="119" y="739" width="1" height="12" fill="#c0c0c0"/>
<rect x="123" y="739" width="1" height="13" fill="#c0c0c0"/>
<rect x="127" y="739" width="1" height="16" fill="#c0c0c0"/>
<rect x="131" y="739" width="1" height="18" fill="#c0c0c0"/>
<rect x="135" y="739" width="1" height="19" fill="#c0c0c0"/>
<rect x="139" y="739" width="1" height="19" fill="#c0c0c0"/>
<rect x="143" y="739" width="1" height="19" fill="#c0c0c0"/>
<rect x="147" y="739" width="1" height="19" fill="#c0c0c0"/>
<rect x="151" y="739" width="1" height="20" fill="#c0c0c0"/>
<rect x="155" y="739" width="1" height="21" fill="#c0c0c0"/>
<rect x="159" y="739" width="1" height="23" fill="#c0c0c0"/>
<rect x="163" y="739" width="1" height="26" fill="#c0c0c0"/>
<rect x="167" y="739" width="1" height="28" fill="#c0c0c0"/>
<rect x="171" y="739" width="1" height="32" fill="#c0c0c0"/>
<rect x="175" y="739" width="1" height="35" fill="#c0c0c0"/>
<rect x="179" y="739" width="1" height="36" fill="#c0c0c0"/>
<rect x="183" y="739" width="1" height="38" fill="#c0c0c0"/>
<rect x="187" y="739" width="1" height="40" fill="#c0c0c0"/>
<rect x="191" y="739" width="1" height="41" fill="#c0c0c0"/>
<rect x="195" y="739" width="1" height="41" fill="#c0c0c0"/>
<rect x="199" y="739" width="1" height="37" fill="#c0c0c0"/>
<rect x="203" y="739" width="1" height="33" fill="#c0c0c0"/>
<rect x="207" y="739" width="1" height="27" fill="#c0c0c0"/>
<rect x="211" y="739" width="1" height="23" fill="#c0c0c0"/>
<rect x="215" y="739" width="1" height="19" fill="#c0c0c0"/>
<rect x="219" y="739" width="1" height="11" fill="#c0c0c0"/>
<rect x="223" y="739" width="1" height="6" fill="#c0c0c0"/>
<rect x="227" y="739" width="1" height="2" fill="#c0c0c0"/>
<rect x="231" y="734" width="1" height="6" fill="#c0c0c0"/>
<rect x="235" y="729" width="1" height="11" fill="#c0c0c0"/>
<rect x="239" y="726" width="1" height="14" fill="#c0c0c0"/>
<rect x="243" y="722" width="1" height="18" fill="#c0c0c0"/>
<rect x="247" y="722" width="1" height="18" fill="#c0c0c0"/>
<rect x="251" y="723" width="1" height="17" fill="#c0c0c0"/>
<rect x="255" y="724" width="1" height="16" fill="#c0c0c0"/>
<rect x="259" y="722" width="1" height="18" fill="#c0c0c0"/>
<rect x="263" y="721" width="1" height="19" fill="#c0c0c0"/>
<rect x="267" y="721" width="1" height="19" fill="#c0c0c0"/>
<rect x="271" y="724" width="1" height="16" fill="#c0c0c0"/>
<rect x="275" y="726" width="1" height="14" fill="#c0c0c0"/>
<rect x="279" y="727" width="1" height="13" fill="#c0c0c0"/>
<rect x="283" y="726" width="1" height="14" fill="#c0c0c0"/>
<rect x="287" y="726" width="1" height="14" fill="#c0c0c0"/>
<rect x="291" y="727" width="1" height="13" fill="#c0c0c0"/>
<rect x="295" y="726" width="1" height="14" fill="#c0c0c0"/>
<rect x="299" y="725" width="1" height="15" fill="#c0c0c0"/>
<rect x="303" y="721" width="1" height="19" fill="#c0c0c0"/>
<rect x="307" y="719" width="1" height="21" fill="#c0c0c0"/>
<rect x="311" y="718" width="1" height="22" fill="#c0c0c0"/>
<rect x="315" y="718" width="1" height="22" fill="#c0c0c0"/>
<rect x="319" y="719" width="1" height="21" fill="#c0c0c0"/>
<rect x="323" y="719" width="1" height="21" fill="#c0c0c0"/>
<rect x="327" y="721" width="1" height="19" fill="#c0c0c0"/>
<rect x="331" y="725" width="1" height="15" fill="#c0c0c0"/>
<rect x="335" y="728" width="1" height="12" fill="#c0c0c0"/>
<rect x="339" y="733" width="1" height="7" fill="#c0c0c0"/>
<rect x="343" y="739" width="1" height="1" fill="#c0c0c0"/>
<rect x="347" y="739" width="1" height="8" fill="#c0c0c0"/>
<rect x="351" y="739" width="1" height="11" fill="#c0c0c0"/>
<rect x="355" y="739" width="1" height="14" fill="#c0c0c0"/>
<rect x="359" y="739" width="1" height="16" fill="#c0c0c0"/>
<rect x="363" y="739" width="1" height="16" fill="#c0c0c0"/>
<rect x="367" y="739" width="1" height="15" fill="#c0c0c0"/>
<rect x="371" y="739" width="1" height="14" fill="#c0c0c0"/>
<rect x="375" y="739" width="1" height="5" fill="#c0c0c0"/>
<rect x="379" y="738" width="1" height="2" fill="#c0c0c0"/>
<rect x="383" y="733" width="1" height="7" fill="#c0c0c0"/>
<rect x="387" y="733" width="1" height="7" fill="#c0c0c0"/>
<rect x="391" y="730" width="1" height="10" fill="#c0c0c0"/>
<rect x="395" y="723" width="1" height="17" fill="#c0c0c0"/>
<rect x="399" y="711" width="1" height="29" fill="#c0c0c0"/>
<rect x="403" y="704" width="1" height="36" fill="#c0c0c0"/>
<rect x="407" y="698" width="1" height="42" fill="#c0c0c0"/>
<rect x="411" y="695" width="1" height="45" fill="#c0c0c0"/>
<rect x="415" y="697" width="1" height="43" fill="#c0c0c0"/>
<rect x="419" y="695" width="1" height="45" fill="#c0c0c0"/>
<rect x="423" y="697" width="1" height="43" fill="#c0c0c0"/>
<rect x="427" y="698" width="1" height="42" fill="#c0c0c0"/>
<rect x="431" y="701" width="1" height="39" fill="#c0c0c0"/>
<rect x="435" y="700" width="1" height="40" fill="#c0c0c0"/>
<rect x="439" y="704" width="1" height="36" fill="#c0c0c0"/>
<rect x="443" y="704" width="1" height="36" fill="#c0c0c0"/>
<rect x="447" y="708" width="1" height="32" fill="#c0c0c0"/>
<rect x="451" y="708" width="1" height="32" fill="#c0c0c0"/>
<rect x="455" y="709" width="1" height="31" fill="#c0c0c0"/>
<rect x="459" y="711" width="1" height="29" fill="#c0c0c0"/>
<rect x="463" y="717" width="1" height="23" fill="#c0c0c0"/>
<rect x="467" y="720" width="1" height="20" fill="#c0c0c0"/>
<rect x="471" y="725" width="1" height="15" fill="#c0c0c0"/>
<rect x="475" y="730" width="1" height="10" fill="#c0c0c0"/>
<rect x="479" y="733" width="1" height="7" fill="#c0c0c0"/>
<rect x="483" y="735" width="1" height="5" fill="#c0c0c0"/>
<rect x="487" y="738" width="1" height="2" fill="#c0c0c0"/>
<rect x="491" y="738" width="1" height="2" fill="#c0c0c0"/>
<rect x="495" y="736" width="1" height="4" fill="#c0c0c0"/>
<rect x="499" y="735" width="1" height="5" fill="#c0c0c0"/>
<rect x="503" y="735" width="1" height="5" fill="#c0c0c0"/>
<rect x="507" y="734" width="1" height="6" fill="#c0c0c0"/>
<rect x="511" y="732" width="1" height="8" fill="#c0c0c0"/>
<rect x="515" y="732" width="1" height="8" fill="#c0c0c0"/>
<rect x="519" y="732" width="1" height="8" fill="#c0c0c0"/>
<rect x="523" y="731" width="1" height="9" fill="#c0c0c0"/>
<rect x="527" y="731" width="1" height="9" fill="#c0c0c0"/>
<rect x="531" y="730" width="1" height="10" fill="#c0c0c0"/>
<rect x="535" y="731" width="1" height="9" fill="#c0c0c0"/>
<rect x="539" y="732" width="1" height="8" fill="#c0c0c0"/>
<rect x="543" y="734" width="1" height="6" fill="#c0c0c0"/>
<rect x="547" y="730" width="1" height="10" fill="#c0c0c0"/>
<rect x="551" y="726" width="1" height="14" fill="#c0c0c0"/>
<rect x="555" y="724" width="1" height="16" fill="#c0c0c0"/>
<rect x="559" y="723" width="1" height="17" fill="#c0c0c0"/>
<rect x="563" y="723" width="1" height="17" fill="#c0c0c0"/>
<rect x="567" y="725" width="1" height="15" fill="#c0c0c0"/>
<rect x="571" y="728" width="1" height="12" fill="#c0c0c0"/>
<rect x="575" y="729" width="1" height="11" fill="#c0c0c0"/>
<rect x="579" y="730" width="1" height="10" fill="#c0c0c0"/>
<rect x="583" y="731" width="1" height="9" fill="#c0c0c0"/>
<rect x="587" y="731" width="1" height="9" fill="#c0c0c0"/>
<rect x="591" y="730" width="1" height="10" fill="#c0c0c0"/>
<rect x="595" y="728" width="1" height="12" fill="#c0c0c0"/>
<rect x="599" y="727" width="1" height="13" fill="#c0c0c0"/>
<rect x="603" y="727" width="1" height="13" fill="#c0c0c0"/>
<rect x="607" y="728" width="1" height="12" fill="#c0c0c0"/>
<rect x="611" y="730" width="1" height="10" fill="#c0c0c0"/>
<rect x="615" y="729" width="1" height="11" fill="#c0c0c0"/>
<rect x="619" y="727" width="1" height="13" fill="#c0c0c0"/>
<rect x="623" y="726" width="1" height="14" fill="#c0c0c0"/>
<rect x="627" y="725" width="1" height="15" fill="#c0c0c0"/>
<rect x="631" y="724" width="1" height="16" fill="#c0c0c0"/>
<rect x="635" y="719" width="1" height="21" fill="#c0c0c0"/>
<rect x="639" y="719" width="1" height="21" fill="#c0c0c0"/>
<rect x="643" y="719" width="1" height="21" fill="#c0c0c0"/>
<rect x="647" y="719" width="1" height="21" fill="#c0c0c0"/>
<rect x="651" y="722" width="1" height="18" fill="#c0c0c0"/>
<rect x="655" y="726" width="1" height="14" fill="#c0c0c0"/>
<rect x="659" y="729" width="1" height="11" fill="#c0c0c0"/>
<rect x="663" y="732" width="1" height="8" fill="#c0c0c0"/>
<rect x="667" y="738" width="1" height="2" fill="#c0c0c0"/>
<rect x="671" y="739" width="1" height="5" fill="#c0c0c0"/>
<rect x="675" y="739" width="1" height="10" fill="#c0c0c0"/>
<rect x="679" y="739" width="1" height="12" fill="#c0c0c0"/>
<rect x="683" y="739" width="1" height="16" fill="#c0c0c0"/>
<rect x="687" y="739" width="1" height="17" fill="#c0c0c0"/>
<rect x="691" y="739" width="1" height="17" fill="#c0c0c0"/>
<rect x="695" y="739" width="1" height="16" fill="#c0c0c0"/>
<rect x="699" y="739" width="1" height="16" fill="#c0c0c0"/>
<rect x="703" y="739" width="1" height="15" fill="#c0c0c0"/>
<rect x="707" y="739" width="1" height="14" fill="#c0c0c0"/>
<rect x="711" y="739" width="1" height="14" fill="#c0c0c0"/>
<rect x="715" y="739" width="1" height="14" fill="#c0c0c0"/>
<rect x="719" y="739" width="1" height="13" fill="#c0c0c0"/>
<rect x="723" y="739" width="1" height="15" fill="#c0c0c0"/>
<rect x="727" y="739" width="1" height="16" fill="#c0c0c0"/>
<rect x="731" y="739" width="1" height="15" fill="#c0c0c0"/>
<rect x="735" y="739" width="1" height="13" fill="#c0c0c0"/>
<rect x="739" y="739" width="1" height="11" fill="#c0c0c0"/>
<rect x="743" y="739" width="1" height="10" fill="#c0c0c0"/>
<rect x="747" y="739" width="1" height="9" fill="#c0c0c0"/>
<rect x="751" y="739" width="1" height="9" fill="#c0c0c0"/>
<rect x="755" y="739" width="1" height="10" fill="#c0c0c0"/>
<rect x="759" y="739" width="1" height="10" fill="#c0c0c0"/>
<rect x="763" y="739" width="1" height="10" fill="#c0c0c0"/>
<rect x="767" y="739" width="1" height="10" fill="#c0c0c0"/>
<rect x="771" y="739" width="1" height="14" fill="#c0c0c0"/>
<rect x="775" y="739" width="1" height="18" fill="#c0c0c0"/>
<rect x="779" y="739" width="1" height="22" fill="#c0c0c0"/>
<rect x="783" y="739" width="1" height="25" fill="#c0c0c0"/>
<rect x="787" y="739" width="1" height="26" fill="#c0c0c0"/>
<rect x="791" y="739" width="1" height="27" fill="#c0c0c0"/>
<rect x="795" y="739" width="1" height="28" fill="#c0c0c0"/>
<rect x="799" y="739" width="1" height="27" fill="#c0c0c0"/>
<rect x="803" y="739" width="1" height="29" fill="#c0c0c0"/>
<rect x="807" y="739" width="1" height="29" fill="#c0c0c0"/>
<rect x="811" y="739" width="1" height="29" fill="#c0c0c0"/>
<rect x="815" y="739" width="1" height="29" fill="#c0c0c0"/>
<rect x="819" y="739" width="1" height="28" fill="#c0c0c0"/>
<rect x="823" y="739" width="1" height="29" fill="#c0c0c0"/>
<rect x="827" y="739" width="1" height="26" fill="#c0c0c0"/>
<rect x="831" y="739" width="1" height="25" fill="#c0c0c0"/>
<rect x="835" y="739" width="1" height="20" fill="#c0c0c0"/>
<rect x="839" y="739" width="1" height="18" fill="#c0c0c0"/>
<rect x="843" y="739" width="1" height="17" fill="#c0c0c0"/>
<rect x="847" y="739" width="1" height="16" fill="#c0c0c0"/>
<rect x="851" y="739" width="1" height="16" fill="#c0c0c0"/>
<rect x="855" y="739" width="1" height="14" fill="#c0c0c0"/>
<rect x="859" y="739" width="1" height="15" fill="#c0c0c0"/>
<rect x="863" y="739" width="1" height="15" fill="#c0c0c0"/>
<rect x="867" y="739" width="1" height="16" fill="#c0c0c0"/>
<rect x="871" y="739" width="1" height="17" fill="#c0c0c0"/>
<rect x="875" y="739" width="1" height="21" fill="#c0c0c0"/>
<rect x="879" y="739" width="1" height="23" fill="#c0c0c0"/>
<rect x="883" y="739" width="1" height="22" fill="#c0c0c0"/>
<rect x="887" y="739" width="1" height="21" fill="#c0c0c0"/>
<rect x="891" y="739" width="1" height="21" fill="#c0c0c0"/>
<rect x="895" y="739" width="1" height="23" fill="#c0c0c0"/>
<rect x="899" y="739" width="1" height="24" fill="#c0c0c0"/>
<rect x="903" y="739" width="1" height="24" fill="#c0c0c0"/>
<rect x="907" y="739" width="1" height="24" fill="#c0c0c0"/>
<rect x="911" y="739" width="1" height="24" fill="#c0c0c0"/>
<rect x="915" y="739" width="1" height="24" fill="#c0c0c0"/>
<rect x="919" y="739" width="1" height="27" fill="#c0c0c0"/>
<rect x="923" y="739" width="1" height="28" fill="#c0c0c0"/>
<rect x="927" y="739" width="1" height="29" fill="#c0c0c0"/>
<rect x="931" y="739" width="1" height="28" fill="#c0c0c0"/>
<rect x="935" y="739" width="1" height="27" fill="#c0c0c0"/>
<rect x="939" y="739" width="1" height="27" fill="#c0c0c0"/>
<rect x="943" y="739" width="1" height="27" fill="#c0c0c0"/>
<rect x="947" y="739" width="1" height="29" fill="#c0c0c0"/>
<rect x="951" y="739" width="1" height="30" fill="#c0c0c0"/>
<rect x="955" y="739" width="1" height="32" fill="#c0c0c0"/>
<rect x="959" y="739" width="1" height="34" fill="#c0c0c0"/>
<rect x="963" y="739" width="1" height="36" fill="#c0c0c0"/>
<rect x="967" y="739" width="1" height="39" fill="#c0c0c0"/>
<rect x="971" y="739" width="1" height="41" fill="#c0c0c0"/>
<rect x="975" y="739" width="1" height="40" fill="#c0c0c0"/>
<rect x="979" y="739" width="1" height="40" fill="#c0c0c0"/>
<rect x="983" y="739" width="1" height="40" fill="#c0c0c0"/>
<rect x="987" y="739" width="1" height="40" fill="#c0c0c0"/>
<rect x="991" y="739" width="1" height="37" fill="#c0c0c0"/>
<rect x="995" y="739" width="1" height="37" fill="#c0c0c0"/>
<rect x="999" y="739" width="1" height="36" fill="#c0c0c0"/>
<rect x="1003" y="739" width="1" height="34" fill="#c0c0c0"/>
<rect x="1007" y="739" width="1" height="33" fill="#c0c0c0"/>
<rect x="1011" y="739" width="1" height="34" fill="#c0c0c0"/>
<rect x="1015" y="739" width="1" height="37" fill="#c0c0c0"/>
<rect x="1019" y="739" width="1" height="42" fill="#c0c0c0"/>
<rect x="1023" y="739" width="1" height="44" fill="#c0c0c0"/>
<rect x="1027" y="739" width="1" height="45" fill="#c0c0c0"/>
<rect x="1031" y="739" width="1" height="44" fill="#c0c0c0"/>
<rect x="1035" y="739" width="1" height="40" fill="#c0c0c0"/>
<rect x="1039" y="739" width="1" height="39" fill="#c0c0c0"/>
<rect x="1043" y="739" width="1" height="34" fill="#c0c0c0"/>
<rect x="1047" y="739" width="1" height="28" fill="#c0c0c0"/>
<rect x="1051" y="739" width="1" height="24" fill="#c0c0c0"/>
<rect x="1055" y="739" width="1" height="20" fill="#c0c0c0"/>
<rect x="1059" y="739" width="1" height="19" fill="#c0c0c0"/>
<rect x="1063" y="739" width="1" height="17" fill="#c0c0c0"/>
<rect x="1067" y="739" width="1" height="18" fill="#c0c0c0"/>
<rect x="1071" y="739" width="1" height="23" fill="#c0c0c0"/>
<rect x="1075" y="739" width="1" height="25" fill="#c0c0c0"/>
<rect x="1079" y="739" width="1" height="27" fill="#c0c0c0"/>
<rect x="1083" y="739" width="1" height="32" fill="#c0c0c0"/>
<rect x="1087" y="739" width="1" height="33" fill="#c0c0c0"/>
<rect x="1091" y="739" width="1" height="35" fill="#c0c0c0"/>
<rect x="1095" y="739" width="1" height="34" fill="#c0c0c0"/>
<rect x="1099" y="739" width="1" height="39" fill="#c0c0c0"/>
<rect x="1103" y="739" width="1" height="42" fill="#c0c0c0"/>
<rect x="1107" y="739" width="1" height="38" fill="#c0c0c0"/>
<rect x="1111" y="739" width="1" height="36" fill="#c0c0c0"/>
<rect x="1115" y="739" width="1" height="36" fill="#c0c0c0"/>
<rect x="1119" y="739" width="1" height="35" fill="#c0c0c0"/>
<rect x="1123" y="739" width="1" height="36" fill="#c0c0c0"/>
<rect x="1127" y="739" width="1" height="36" fill="#c0c0c0"/>
<rect x="1131" y="739" width="1" height="38" fill="#c0c0c0"/>
<rect x="1135" y="739" width="1" height="40" fill="#c0c0c0"/>
<rect x="1139" y="739" width="1" height="44" fill="#c0c0c0"/>
<rect x="1143" y="739" width="1" height="43" fill="#c0c0c0"/>
<rect x="1147" y="739" width="1" height="42" fill="#c0c0c0"/>
<rect x="1151" y="739" width="1" height="41" fill="#c0c0c0"/>
<rect x="1155" y="739" width="1" height="36" fill="#c0c0c0"/>
<rect x="1159" y="739" width="1" height="32" fill="#c0c0c0"/>
<rect x="1163" y="739" width="1" height="26" fill="#c0c0c0"/>
<rect x="1167" y="739" width="1" height="22" fill="#c0c0c0"/>
<rect x="1171" y="739" width="1" height="21" fill="#c0c0c0"/>
<rect x="1175" y="739" width="1" height="20" fill="#c0c0c0"/>
<rect x="1179" y="739" width="1" height="20" fill="#c0c0c0"/>
<rect x="1183" y="739" width="1" height="20" fill="#c0c0c0"/>
<rect x="1187" y="739" width="1" height="23" fill="#c0c0c0"/>
<rect x="1191" y="739" width="1" height="29" fill="#c0c0c0"/>
<rect x="1195" y="739" width="1" height="34" fill="#c0c0c0"/>
<rect x="1199" y="739" width="1" height="39" fill="#c0c0c0"/>
<rect x="1203" y="739" width="1" height="38" fill="#c0c0c0"/>
<rect x="1207" y="739" width="1" height="39" fill="#c0c0c0"/>
<rect x="1211" y="739" width="1" height="38" fill="#c0c0c0"/>
<rect x="1215" y="739" width="1" height="39" fill="#c0c0c0"/>
<rect x="1219" y="739" width="1" height="38" fill="#c0c0c0"/>
<rect x="1223" y="739" width="1" height="38" fill="#c0c0c0"/>
<rect x="1227" y="739" width="1" height="40" fill="#c0c0c0"/>
<rect x="1231" y="739" width="1" height="43" fill="#c0c0c0"/>
<rect x="1235" y="739" width="1" height="44" fill="#c0c0c0"/>
<rect x="1239" y="739" width="1" height="43" fill="#c0c0c0"/>
<rect x="1243" y="739" width="1" height="43" fill="#c0c0c0"/>
<rect x="1247" y="739" width="1" height="44" fill="#c0c0c0"/>
<rect x="1251" y="739" width="1" height="40" fill="#c0c0c0"/>
<rect x="1255" y="739" width="1" height="37" fill="#c0c0c0"/>
<rect x="1259" y="739" width="1" height="35" fill="#c0c0c0"/>
<rect x="1263" y="739" width="1" height="35" fill="#c0c0c0"/>
<rect x="1267" y="739" width="1" height="33" fill="#c0c0c0"/>
<path d="M435 698h3v1h-3zM441 699h3v1h-3zM430 700h2v1h-2zM447 700h1v1h-1zM429 701h1v1h-1zM448 701h2v1h-2zM453 703h3v1h-3zM425 704h1v1h-1zM424 705h1v1h-1zM459 705h1v1h-1zM423 706h1v1h-1zM460 706h2v1h-2zM465 708h1v1h-1zM466 709h2v1h-2zM419 710h1v1h-1zM418 711h1v1h-1zM417 712h1v1h-1zM471 712h1v1h-1zM472 713h1v1h-1zM473 714h1v1h-1zM413 716h1v1h-1zM412 717h1v1h-1zM477 717h2v1h-2zM411 718h1v1h-1zM479 718h1v1h-1zM321 721h3v1h-3zM327 721h3v1h-3zM333 721h3v1h-3zM483 721h1v1h-1zM317 722h1v1h-1zM339 722h1v1h-1zM408 722h1v2h-1zM484 722h1v1h-1zM651 722h3v1h-3zM267 723h3v1h-3zM273 723h3v1h-3zM279 723h2v1h-2zM315 723h2v1h-2zM340 723h2v1h-2zM485 723h1v1h-1zM645 723h3v1h-3zM657 723h3v1h-3zM663 723h1v1h-1zM281 724h1v1h-1zM285 724h3v1h-3zM309 724h3v1h-3zM407 724h1v1h-1zM641 724h1v1h-1zM664 724h2v1h-2zM262 725h2v1h-2zM291 725h3v1h-3zM297 725h3v1h-3zM303 725h3v1h-3zM639 725h2v1h-2zM261 726h1v1h-1zM345 726h1v1h-1zM489 726h2v1h-2zM579 726h3v1h-3zM633 726h3v1h-3zM346 727h1v1h-1zM491 727h1v1h-1zM569 727h1v1h-1zM573 727h3v1h-3zM585 727h3v1h-3zM627 727h3v1h-3zM669 727h2v1h-2zM256 728h2v1h-2zM347 728h1v1h-1zM404 728h1v2h-1zM561 728h3v1h-3zM567 728h2v1h-2zM591 728h3v1h-3zM621 728h3v1h-3zM671 728h1v1h-1zM255 729h1v1h-1zM557 729h1v1h-1zM597 729h3v1h-3zM603 729h3v1h-3zM609 729h3v1h-3zM615 729h3v1h-3zM403 730h1v1h-1zM495 730h1v1h-1zM555 730h2v1h-2zM351 731h1v1h-1zM496 731h2v1h-2zM549 731h3v1h-3zM675 731h1v1h-1zM251 732h1v1h-1zM352 732h1v1h-1zM533 732h1v1h-1zM537 732h3v1h-3zM543 732h3v1h-3zM676 732h1v1h-1zM250 733h1v1h-1zM353 733h1v1h-1zM501 733h1v1h-1zM525 733h3v1h-3zM531 733h2v1h-2zM677 733h1v1h-1zM249 734h1v1h-1zM400 734h1v1h-1zM502 734h2v1h-2zM521 734h1v1h-1zM399 735h1v1h-1zM507 735h3v1h-3zM513 735h3v1h-3zM519 735h2v1h-2zM398 736h1v1h-1zM681 736h1v1h-1zM357 737h1v1h-1zM682 737h1v1h-1zM245 738h1v1h-1zM358 738h1v1h-1zM683 738h1v1h-1zM55 739h3v1h-3zM61 739h3v1h-3zM244 739h1v1h-1zM359 739h1v1h-1zM45 740h1v1h-1zM49 740h3v1h-3zM67 740h2v1h-2zM243 740h1v1h-1zM395 740h1v1h-1zM43 741h2v1h-2zM69 741h1v1h-1zM393 741h2v1h-2zM37 742h3v1h-3zM73 742h3v1h-3zM363 742h1v1h-1zM687 742h1v1h-1zM33 743h1v1h-1zM364 743h1v1h-1zM688 743h1v1h-1zM31 744h2v1h-2zM79 744h2v1h-2zM240 744h1v1h-1zM365 744h1v1h-1zM389 744h1v1h-1zM689 744h1v1h-1zM25 745h3v1h-3zM81 745h1v1h-1zM239 745h1v1h-1zM388 745h1v1h-1zM21 746h1v1h-1zM85 746h1v1h-1zM238 746h1v1h-1zM387 746h1v1h-1zM19 747h2v1h-2zM86 747h2v1h-2zM369 747h2v1h-2zM693 747h2v1h-2zM14 748h2v1h-2zM91 748h2v1h-2zM371 748h1v1h-1zM381 748h3v1h-3zM695 748h1v1h-1zM765 748h3v1h-3zM771 748h2v1h-2zM13 749h1v1h-1zM93 749h1v1h-1zM375 749h3v1h-3zM761 749h1v1h-1zM773 749h1v1h-1zM97 750h3v1h-3zM103 750h3v1h-3zM109 750h3v1h-3zM115 750h3v1h-3zM121 750h3v1h-3zM127 750h2v1h-2zM235 750h1v1h-1zM699 750h1v1h-1zM749 750h1v1h-1zM753 750h3v1h-3zM759 750h2v1h-2zM777 750h3v1h-3zM8 751h2v1h-2zM129 751h1v1h-1zM234 751h1v1h-1zM700 751h2v1h-2zM741 751h3v1h-3zM747 751h2v1h-2zM7 752h1v1h-1zM133 752h3v1h-3zM233 752h1v1h-1zM735 752h3v1h-3zM783 752h1v1h-1zM139 753h2v1h-2zM705 753h3v1h-3zM711 753h3v1h-3zM717 753h3v1h-3zM723 753h3v1h-3zM729 753h3v1h-3zM784 753h2v1h-2zM3 754h1v1h-1zM141 754h1v1h-1zM145 754h3v1h-3zM867 754h3v1h-3zM873 754h3v1h-3zM151 755h2v1h-2zM789 755h1v1h-1zM862 755h2v1h-2zM879 755h2v1h-2zM153 756h1v1h-1zM230 756h1v1h-1zM790 756h2v1h-2zM861 756h1v1h-1zM881 756h1v1h-1zM885 756h3v1h-3zM157 757h3v1h-3zM229 757h1v2h-1zM857 757h1v1h-1zM891 757h2v1h-2zM795 758h1v1h-1zM855 758h2v1h-2zM893 758h1v1h-1zM163 759h2v1h-2zM796 759h2v1h-2zM897 759h3v1h-3zM165 760h1v1h-1zM849 760h3v1h-3zM903 760h2v1h-2zM1077 760h3v1h-3zM169 761h3v1h-3zM801 761h1v1h-1zM905 761h1v1h-1zM909 761h3v1h-3zM915 761h2v1h-2zM1083 761h2v1h-2zM225 762h1v1h-1zM802 762h2v1h-2zM844 762h2v1h-2zM917 762h1v1h-1zM921 762h3v1h-3zM1072 762h2v1h-2zM1085 762h1v1h-1zM1191 762h3v1h-3zM175 763h1v1h-1zM224 763h1v1h-1zM843 763h1v1h-1zM927 763h2v1h-2zM1071 763h1v1h-1zM1089 763h3v1h-3zM1186 763h2v1h-2zM1197 763h3v1h-3zM176 764h2v1h-2zM223 764h1v1h-1zM807 764h2v1h-2zM837 764h3v1h-3zM929 764h1v1h-1zM933 764h3v1h-3zM939 764h2v1h-2zM1185 764h1v1h-1zM809 765h1v1h-1zM833 765h1v1h-1zM941 765h1v1h-1zM945 765h3v1h-3zM1066 765h2v1h-2zM1095 765h1v1h-1zM1203 765h1v1h-1zM181 766h1v1h-1zM813 766h3v1h-3zM819 766h3v1h-3zM825 766h3v1h-3zM831 766h2v1h-2zM951 766h2v1h-2zM1065 766h1v1h-1zM1096 766h1v1h-1zM1180 766h2v1h-2zM1204 766h2v1h-2zM182 767h2v1h-2zM953 767h1v1h-1zM957 767h3v1h-3zM1097 767h1v1h-1zM1179 767h1v1h-1zM219 768h1v1h-1zM963 768h2v1h-2zM1061 768h1v1h-1zM1209 768h1v1h-1zM187 769h1v1h-1zM217 769h2v1h-2zM965 769h1v1h-1zM1060 769h1v1h-1zM1101 769h1v1h-1zM1210 769h2v1h-2zM188 770h2v1h-2zM969 770h1v1h-1zM1059 770h1v1h-1zM1102 770h2v1h-2zM1174 770h2v1h-2zM970 771h2v1h-2zM1173 771h1v1h-1zM1215 771h1v1h-1zM193 772h1v1h-1zM212 772h2v1h-2zM975 772h1v1h-1zM1107 772h2v1h-2zM1216 772h2v1h-2zM194 773h2v1h-2zM211 773h1v1h-1zM976 773h2v1h-2zM1055 773h1v1h-1zM1109 773h1v1h-1zM1168 773h2v1h-2zM199 774h2v1h-2zM205 774h3v1h-3zM1053 774h2v1h-2zM1113 774h3v1h-3zM1119 774h2v1h-2zM1167 774h1v1h-1zM1221 774h1v1h-1zM201 775h1v1h-1zM981 775h3v1h-3zM1005 775h3v1h-3zM1011 775h3v1h-3zM1017 775h3v1h-3zM1023 775h2v1h-2zM1121 775h1v1h-1zM1125 775h3v1h-3zM1131 775h3v1h-3zM1222 775h2v1h-2zM987 776h2v1h-2zM1001 776h1v1h-1zM1025 776h1v1h-1zM1049 776h1v1h-1zM1137 776h3v1h-3zM1143 776h2v1h-2zM1161 776h3v1h-3zM1227 776h2v1h-2zM989 777h1v1h-1zM993 777h3v1h-3zM999 777h2v1h-2zM1029 777h3v1h-3zM1035 777h2v1h-2zM1047 777h2v1h-2zM1145 777h1v1h-1zM1149 777h3v1h-3zM1157 777h1v1h-1zM1229 777h1v1h-1zM1265 777h1v1h-1zM1037 778h1v1h-1zM1041 778h3v1h-3zM1155 778h2v1h-2zM1233 778h3v1h-3zM1239 778h2v1h-2zM1263 778h2v1h-2zM1241 779h1v1h-1zM1245 779h3v1h-3zM1251 779h3v1h-3zM1257 779h3v1h-3z" fill="#ff0000"/>
</g>
<text x="7.5" y="700.5" font-size="10.0" fill="#000" textLength="152.9" lengthAdjust="spacingAndGlyphs" stroke="#000" stroke-width="0.2">MACD(12,26,9) -0.027878 -0.033292</text>
<text x="1598.6" y="699" font-size="10.0" fill="#000" textLength="37.95" lengthAdjust="spacingAndGlyphs" stroke="#000" stroke-width="0.2">0.042275</text>
<text x="1598.6" y="743" font-size="10.0" fill="#000" textLength="17.71" lengthAdjust="spacingAndGlyphs" stroke="#000" stroke-width="0.2">0.00</text>
<text x="1598.6" y="786" font-size="10.0" fill="#000" textLength="35.92" lengthAdjust="spacingAndGlyphs" stroke="#000" stroke-width="0.2">-0.04148</text>
<rect x="1596" y="690" width="2" height="1" fill="#000"/>
<rect x="1596" y="739" width="2" height="1" fill="#000"/>
<rect x="1596" y="788" width="2" height="1" fill="#000"/>
<rect x="3" y="790" width="1" height="3" fill="#000"/>
<text x="2" y="802" font-size="10.0" fill="#000" textLength="51.6" lengthAdjust="spacingAndGlyphs" stroke="#000" stroke-width="0.2">25 Nov 2019</text>
<rect x="67" y="790" width="1" height="3" fill="#000"/>
<text x="66" y="802" font-size="10.0" fill="#000" textLength="51.6" lengthAdjust="spacingAndGlyphs" stroke="#000" stroke-width="0.2">13 Dec 2019</text>
<rect x="131" y="790" width="1" height="3" fill="#000"/>
<text x="130" y="802" font-size="10.0" fill="#000" textLength="45.03" lengthAdjust="spacingAndGlyphs" stroke="#000" stroke-width="0.2">1 Jan 2020</text>
<rect x="195" y="790" width="1" height="3" fill="#000"/>
<text x="194" y="802" font-size="10.0" fill="#000" textLength="50.09" lengthAdjust="spacingAndGlyphs" stroke="#000" stroke-width="0.2">20 Jan 2020</text>
<rect x="259" y="790" width="1" height="3" fill="#000"/>
<text x="258" y="802" font-size="10.0" fill="#000" textLength="46.04" lengthAdjust="spacingAndGlyphs" stroke="#000" stroke-width="0.2">7 Feb 2020</text>
<rect x="323" y="790" width="1" height="3" fill="#000"/>
<text x="322" y="802" font-size="10.0" fill="#000" textLength="51.1" lengthAdjust="spacingAndGlyphs" stroke="#000" stroke-width="0.2">26 Feb 2020</text>
<rect x="387" y="790" width="1" height="3" fill="#000"/>
<text x="386" y="802" font-size="10.0" fill="#000" textLength="51.09" lengthAdjust="spacingAndGlyphs" stroke="#000" stroke-width="0.2">16 Mar 2020</text>
<rect x="451" y="790" width="1" height="3" fill="#000"/>
<text x="450" y="802" font-size="10.0" fill="#000" textLength="44.02" lengthAdjust="spacingAndGlyphs" stroke="#000" stroke-width="0.2">3 Apr 2020</text>
<rect x="515" y="790" width="1" height="3" fill="#000"/>
<text x="514" y="802" font-size="10.0" fill="#000" textLength="49.08" lengthAdjust="spacingAndGlyphs" stroke="#000" stroke-width="0.2">22 Apr 2020</text>
<rect x="579" y="790" width="1" height="3" fill="#000"/>
<text x="578" y="802" font-size="10.0" fill="#000" textLength="51.93" lengthAdjust="spacingAndGlyphs" stroke="#000" stroke-width="0.2">11 May 2020</text>
<rect x="643" y="790" width="1" height="3" fill="#000"/>
<text x="642" y="802" font-size="10.0" fill="#000" textLength="52.61" lengthAdjust="spacingAndGlyphs" stroke="#000" stroke-width="0.2">29 May 2020</text>
<rect x="707" y="790" width="1" height="3" fill="#000"/>
<text x="706" y="802" font-size="10.0" fill="#000" textLength="50.09" lengthAdjust="spacingAndGlyphs" stroke="#000" stroke-width="0.2">17 Jun 2020</text>
<rect x="771" y="790" width="1" height="3" fill="#000"/>
<text x="770" y="802" font-size="10.0" fill="#000" textLength="41.99" lengthAdjust="spacingAndGlyphs" stroke="#000" stroke-width="0.2">6 Jul 2020</text>
<rect x="835" y="790" width="1" height="3" fill="#000"/>
<text x="834" y="802" font-size="10.0" fill="#000" textLength="47.05" lengthAdjust="spacingAndGlyphs" stroke="#000" stroke-width="0.2">24 Jul 2020</text>
<rect x="899" y="790" width="1" height="3" fill="#000"/>
<text x="898" y="802" font-size="10.0" fill="#000" textLength="51.11" lengthAdjust="spacingAndGlyphs" stroke="#000" stroke-width="0.2">12 Aug 2020</text>
<rect x="963" y="790" width="1" height="3" fill="#000"/>
<text x="962" y="802" font-size="10.0" fill="#000" textLength="51.11" lengthAdjust="spacingAndGlyphs" stroke="#000" stroke-width="0.2">31 Aug 2020</text>
<rect x="1027" y="790" width="1" height="3" fill="#000"/>
<text x="1026" y="802" font-size="10.0" fill="#000" textLength="51.61" lengthAdjust="spacingAndGlyphs" stroke="#000" stroke-width="0.2">18 Sep 2020</text>
<rect x="1091" y="790" width="1" height="3" fill="#000"/>
<text x="1090" y="802" font-size="10.0" fill="#000" textLength="44.51" lengthAdjust="spacingAndGlyphs" stroke="#000" stroke-width="0.2">7 Oct 2020</text>
<rect x="1155" y="790" width="1" height="3" fill="#000"/>
<text x="1154" y="802" font-size="10.0" fill="#000" textLength="49.58" lengthAdjust="spacingAndGlyphs" stroke="#000" stroke-width="0.2">26 Oct 2020</text>
<rect x="1219" y="790" width="1" height="3" fill="#000"/>
<text x="1218" y="802" font-size="10.0" fill="#000" textLength="51.6" lengthAdjust="spacingAndGlyphs" stroke="#000" stroke-width="0.2">13 Nov 2020</text></svg>
</body></html>
